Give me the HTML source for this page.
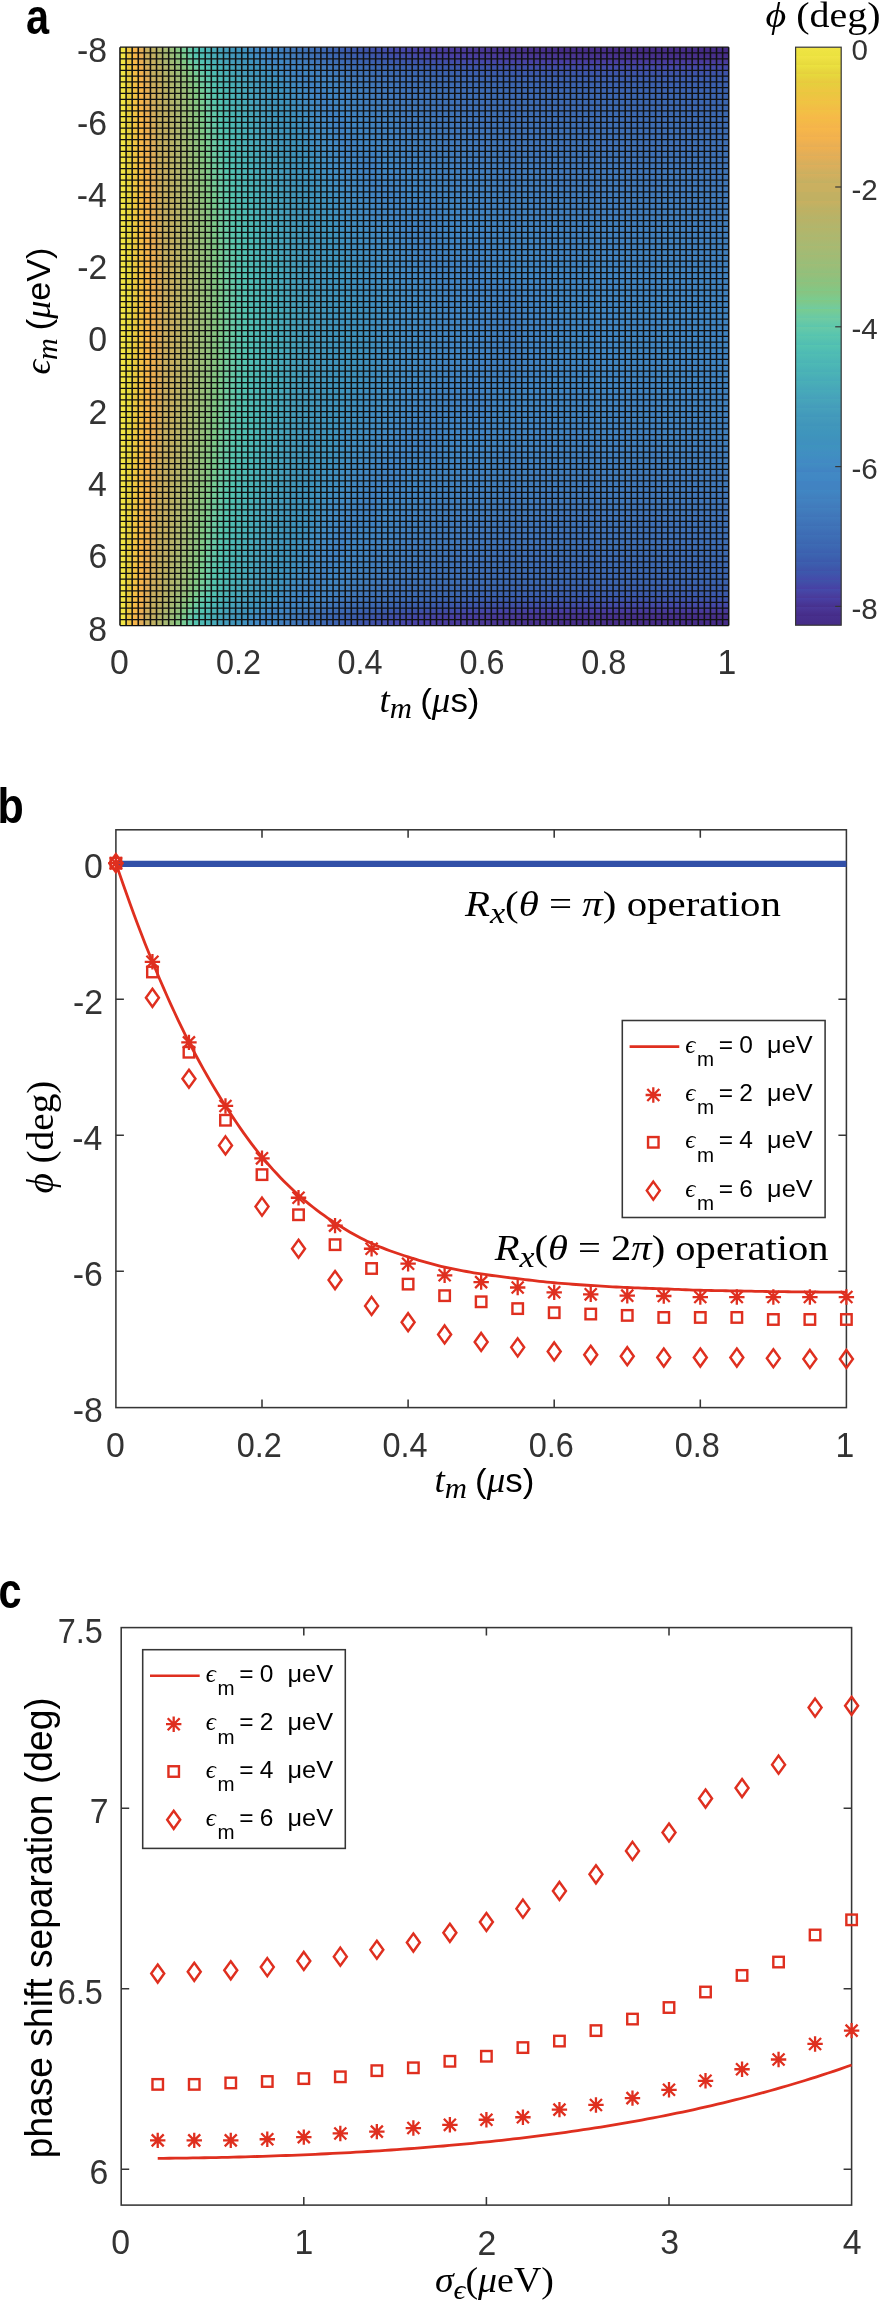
<!DOCTYPE html>
<html><head><meta charset="utf-8"><title>figure</title>
<style>html,body{margin:0;padding:0;background:#fff;width:879px;height:2300px;overflow:hidden;} svg{display:block;will-change:transform;}</style>
</head><body>
<svg width="879" height="2300" viewBox="0 0 879 2300">
<defs>
<linearGradient id="g0" x1="0" y1="0" x2="0" y2="1"><stop offset="0.005" stop-color="#f1e545"/><stop offset="0.015" stop-color="#f1e545"/><stop offset="0.025" stop-color="#f1e545"/><stop offset="0.035" stop-color="#f1e545"/><stop offset="0.045" stop-color="#f1e545"/><stop offset="0.055" stop-color="#f1e545"/><stop offset="0.065" stop-color="#f1e545"/><stop offset="0.075" stop-color="#f1e545"/><stop offset="0.085" stop-color="#f1e545"/><stop offset="0.095" stop-color="#f1e545"/><stop offset="0.115" stop-color="#f1e545"/><stop offset="0.135" stop-color="#f1e545"/><stop offset="0.165" stop-color="#f1e545"/><stop offset="0.205" stop-color="#f1e545"/><stop offset="0.255" stop-color="#f1e545"/><stop offset="0.315" stop-color="#f1e545"/><stop offset="0.385" stop-color="#f1e545"/><stop offset="0.455" stop-color="#f1e545"/><stop offset="0.545" stop-color="#f1e545"/><stop offset="0.615" stop-color="#f1e545"/><stop offset="0.685" stop-color="#f1e545"/><stop offset="0.745" stop-color="#f1e545"/><stop offset="0.795" stop-color="#f1e545"/><stop offset="0.835" stop-color="#f1e545"/><stop offset="0.865" stop-color="#f1e545"/><stop offset="0.885" stop-color="#f1e545"/><stop offset="0.905" stop-color="#f1e545"/><stop offset="0.915" stop-color="#f1e545"/><stop offset="0.925" stop-color="#f1e545"/><stop offset="0.935" stop-color="#f1e545"/><stop offset="0.945" stop-color="#f1e545"/><stop offset="0.955" stop-color="#f1e545"/><stop offset="0.965" stop-color="#f1e545"/><stop offset="0.975" stop-color="#f1e545"/><stop offset="0.985" stop-color="#f1e545"/><stop offset="0.995" stop-color="#f1e545"/></linearGradient>
<linearGradient id="g1" x1="0" y1="0" x2="0" y2="1"><stop offset="0.005" stop-color="#efc542"/><stop offset="0.015" stop-color="#eec641"/><stop offset="0.025" stop-color="#ecc740"/><stop offset="0.035" stop-color="#eac83f"/><stop offset="0.045" stop-color="#e8c93f"/><stop offset="0.055" stop-color="#e7cb3e"/><stop offset="0.065" stop-color="#e7cc3e"/><stop offset="0.075" stop-color="#e6cd3e"/><stop offset="0.085" stop-color="#e6cd3e"/><stop offset="0.095" stop-color="#e6ce3d"/><stop offset="0.115" stop-color="#e5cf3d"/><stop offset="0.135" stop-color="#e5d03d"/><stop offset="0.165" stop-color="#e5d13d"/><stop offset="0.205" stop-color="#e5d33d"/><stop offset="0.255" stop-color="#e6d53c"/><stop offset="0.315" stop-color="#e6d83c"/><stop offset="0.385" stop-color="#e6da3c"/><stop offset="0.455" stop-color="#e7db3d"/><stop offset="0.545" stop-color="#e7db3d"/><stop offset="0.615" stop-color="#e6da3c"/><stop offset="0.685" stop-color="#e6d83c"/><stop offset="0.745" stop-color="#e6d53c"/><stop offset="0.795" stop-color="#e5d33d"/><stop offset="0.835" stop-color="#e5d13d"/><stop offset="0.865" stop-color="#e5d03d"/><stop offset="0.885" stop-color="#e5cf3d"/><stop offset="0.905" stop-color="#e6ce3d"/><stop offset="0.915" stop-color="#e6cd3e"/><stop offset="0.925" stop-color="#e6cd3e"/><stop offset="0.935" stop-color="#e7cc3e"/><stop offset="0.945" stop-color="#e7cb3e"/><stop offset="0.955" stop-color="#e8c93f"/><stop offset="0.965" stop-color="#eac83f"/><stop offset="0.975" stop-color="#ecc740"/><stop offset="0.985" stop-color="#eec641"/><stop offset="0.995" stop-color="#efc542"/></linearGradient>
<linearGradient id="g2" x1="0" y1="0" x2="0" y2="1"><stop offset="0.005" stop-color="#f6b54a"/><stop offset="0.015" stop-color="#f6b64a"/><stop offset="0.025" stop-color="#f6b848"/><stop offset="0.035" stop-color="#f5ba47"/><stop offset="0.045" stop-color="#f4bc46"/><stop offset="0.055" stop-color="#f3be45"/><stop offset="0.065" stop-color="#f3bf45"/><stop offset="0.075" stop-color="#f2c044"/><stop offset="0.085" stop-color="#f2c144"/><stop offset="0.095" stop-color="#f2c144"/><stop offset="0.115" stop-color="#f1c244"/><stop offset="0.135" stop-color="#f1c243"/><stop offset="0.165" stop-color="#f0c343"/><stop offset="0.205" stop-color="#efc442"/><stop offset="0.255" stop-color="#eec641"/><stop offset="0.315" stop-color="#ecc740"/><stop offset="0.385" stop-color="#eac740"/><stop offset="0.455" stop-color="#e9c83f"/><stop offset="0.545" stop-color="#e9c83f"/><stop offset="0.615" stop-color="#eac740"/><stop offset="0.685" stop-color="#ecc740"/><stop offset="0.745" stop-color="#eec641"/><stop offset="0.795" stop-color="#efc442"/><stop offset="0.835" stop-color="#f0c343"/><stop offset="0.865" stop-color="#f1c243"/><stop offset="0.885" stop-color="#f1c244"/><stop offset="0.905" stop-color="#f2c144"/><stop offset="0.915" stop-color="#f2c144"/><stop offset="0.925" stop-color="#f2c044"/><stop offset="0.935" stop-color="#f3bf45"/><stop offset="0.945" stop-color="#f3be45"/><stop offset="0.955" stop-color="#f4bc46"/><stop offset="0.965" stop-color="#f5ba47"/><stop offset="0.975" stop-color="#f6b848"/><stop offset="0.985" stop-color="#f6b64a"/><stop offset="0.995" stop-color="#f6b54a"/></linearGradient>
<linearGradient id="g3" x1="0" y1="0" x2="0" y2="1"><stop offset="0.005" stop-color="#e2ae58"/><stop offset="0.015" stop-color="#e4ae57"/><stop offset="0.025" stop-color="#e9ae54"/><stop offset="0.035" stop-color="#eeb050"/><stop offset="0.045" stop-color="#f2b14e"/><stop offset="0.055" stop-color="#f4b24d"/><stop offset="0.065" stop-color="#f5b34c"/><stop offset="0.075" stop-color="#f5b44b"/><stop offset="0.085" stop-color="#f6b44b"/><stop offset="0.095" stop-color="#f6b54b"/><stop offset="0.115" stop-color="#f6b64a"/><stop offset="0.135" stop-color="#f7b649"/><stop offset="0.165" stop-color="#f7b749"/><stop offset="0.205" stop-color="#f6b948"/><stop offset="0.255" stop-color="#f4ba46"/><stop offset="0.315" stop-color="#f4bc46"/><stop offset="0.385" stop-color="#f3be45"/><stop offset="0.455" stop-color="#f2c044"/><stop offset="0.545" stop-color="#f2c044"/><stop offset="0.615" stop-color="#f3be45"/><stop offset="0.685" stop-color="#f4bc46"/><stop offset="0.745" stop-color="#f4ba46"/><stop offset="0.795" stop-color="#f6b948"/><stop offset="0.835" stop-color="#f7b749"/><stop offset="0.865" stop-color="#f7b649"/><stop offset="0.885" stop-color="#f6b64a"/><stop offset="0.905" stop-color="#f6b54b"/><stop offset="0.915" stop-color="#f6b44b"/><stop offset="0.925" stop-color="#f5b44b"/><stop offset="0.935" stop-color="#f5b34c"/><stop offset="0.945" stop-color="#f4b24d"/><stop offset="0.955" stop-color="#f2b14e"/><stop offset="0.965" stop-color="#eeb050"/><stop offset="0.975" stop-color="#e9ae54"/><stop offset="0.985" stop-color="#e4ae57"/><stop offset="0.995" stop-color="#e2ae58"/></linearGradient>
<linearGradient id="g4" x1="0" y1="0" x2="0" y2="1"><stop offset="0.005" stop-color="#c7b061"/><stop offset="0.015" stop-color="#cab060"/><stop offset="0.025" stop-color="#d0b05f"/><stop offset="0.035" stop-color="#d7af5c"/><stop offset="0.045" stop-color="#ddae5b"/><stop offset="0.055" stop-color="#e1ae59"/><stop offset="0.065" stop-color="#e3ae57"/><stop offset="0.075" stop-color="#e5ae56"/><stop offset="0.085" stop-color="#e6ae56"/><stop offset="0.095" stop-color="#e7ae55"/><stop offset="0.115" stop-color="#e9ae54"/><stop offset="0.135" stop-color="#ebaf52"/><stop offset="0.165" stop-color="#eeb050"/><stop offset="0.205" stop-color="#f1b14e"/><stop offset="0.255" stop-color="#f3b24d"/><stop offset="0.315" stop-color="#f5b34c"/><stop offset="0.385" stop-color="#f6b54b"/><stop offset="0.455" stop-color="#f6b64a"/><stop offset="0.545" stop-color="#f6b64a"/><stop offset="0.615" stop-color="#f6b54b"/><stop offset="0.685" stop-color="#f5b34c"/><stop offset="0.745" stop-color="#f3b24d"/><stop offset="0.795" stop-color="#f1b14e"/><stop offset="0.835" stop-color="#eeb050"/><stop offset="0.865" stop-color="#ebaf52"/><stop offset="0.885" stop-color="#e9ae54"/><stop offset="0.905" stop-color="#e7ae55"/><stop offset="0.915" stop-color="#e6ae56"/><stop offset="0.925" stop-color="#e5ae56"/><stop offset="0.935" stop-color="#e3ae57"/><stop offset="0.945" stop-color="#e1ae59"/><stop offset="0.955" stop-color="#ddae5b"/><stop offset="0.965" stop-color="#d7af5c"/><stop offset="0.975" stop-color="#d0b05f"/><stop offset="0.985" stop-color="#cab060"/><stop offset="0.995" stop-color="#c7b061"/></linearGradient>
<linearGradient id="g5" x1="0" y1="0" x2="0" y2="1"><stop offset="0.005" stop-color="#bfb062"/><stop offset="0.015" stop-color="#c2b062"/><stop offset="0.025" stop-color="#c7b060"/><stop offset="0.035" stop-color="#c5b061"/><stop offset="0.045" stop-color="#c6b061"/><stop offset="0.055" stop-color="#cab060"/><stop offset="0.065" stop-color="#cdb05f"/><stop offset="0.075" stop-color="#cfb05f"/><stop offset="0.085" stop-color="#d1af5e"/><stop offset="0.095" stop-color="#d2af5e"/><stop offset="0.115" stop-color="#d5af5d"/><stop offset="0.135" stop-color="#d7af5c"/><stop offset="0.165" stop-color="#dbae5b"/><stop offset="0.205" stop-color="#dfae5a"/><stop offset="0.255" stop-color="#e3ae57"/><stop offset="0.315" stop-color="#e7ae55"/><stop offset="0.385" stop-color="#ebaf52"/><stop offset="0.455" stop-color="#edaf51"/><stop offset="0.545" stop-color="#edaf51"/><stop offset="0.615" stop-color="#ebaf52"/><stop offset="0.685" stop-color="#e7ae55"/><stop offset="0.745" stop-color="#e3ae57"/><stop offset="0.795" stop-color="#dfae5a"/><stop offset="0.835" stop-color="#dbae5b"/><stop offset="0.865" stop-color="#d7af5c"/><stop offset="0.885" stop-color="#d5af5d"/><stop offset="0.905" stop-color="#d2af5e"/><stop offset="0.915" stop-color="#d1af5e"/><stop offset="0.925" stop-color="#cfb05f"/><stop offset="0.935" stop-color="#cdb05f"/><stop offset="0.945" stop-color="#cab060"/><stop offset="0.955" stop-color="#c6b061"/><stop offset="0.965" stop-color="#c5b061"/><stop offset="0.975" stop-color="#c7b060"/><stop offset="0.985" stop-color="#c2b062"/><stop offset="0.995" stop-color="#bfb062"/></linearGradient>
<linearGradient id="g6" x1="0" y1="0" x2="0" y2="1"><stop offset="0.005" stop-color="#b2b56b"/><stop offset="0.015" stop-color="#b4b46a"/><stop offset="0.025" stop-color="#b7b367"/><stop offset="0.035" stop-color="#bcb164"/><stop offset="0.045" stop-color="#c1b062"/><stop offset="0.055" stop-color="#c5b061"/><stop offset="0.065" stop-color="#c8b060"/><stop offset="0.075" stop-color="#c8b060"/><stop offset="0.085" stop-color="#c7b061"/><stop offset="0.095" stop-color="#c6b061"/><stop offset="0.115" stop-color="#c4b062"/><stop offset="0.135" stop-color="#c4b062"/><stop offset="0.165" stop-color="#c7b061"/><stop offset="0.205" stop-color="#cbb060"/><stop offset="0.255" stop-color="#d0af5e"/><stop offset="0.315" stop-color="#d5af5d"/><stop offset="0.385" stop-color="#daae5b"/><stop offset="0.455" stop-color="#ddae5b"/><stop offset="0.545" stop-color="#ddae5b"/><stop offset="0.615" stop-color="#daae5b"/><stop offset="0.685" stop-color="#d5af5d"/><stop offset="0.745" stop-color="#d0af5e"/><stop offset="0.795" stop-color="#cbb060"/><stop offset="0.835" stop-color="#c7b061"/><stop offset="0.865" stop-color="#c4b062"/><stop offset="0.885" stop-color="#c4b062"/><stop offset="0.905" stop-color="#c6b061"/><stop offset="0.915" stop-color="#c7b061"/><stop offset="0.925" stop-color="#c8b060"/><stop offset="0.935" stop-color="#c8b060"/><stop offset="0.945" stop-color="#c5b061"/><stop offset="0.955" stop-color="#c1b062"/><stop offset="0.965" stop-color="#bcb164"/><stop offset="0.975" stop-color="#b7b367"/><stop offset="0.985" stop-color="#b4b46a"/><stop offset="0.995" stop-color="#b2b56b"/></linearGradient>
<linearGradient id="g7" x1="0" y1="0" x2="0" y2="1"><stop offset="0.005" stop-color="#a6b973"/><stop offset="0.015" stop-color="#a8b871"/><stop offset="0.025" stop-color="#adb76f"/><stop offset="0.035" stop-color="#b1b66c"/><stop offset="0.045" stop-color="#b5b46a"/><stop offset="0.055" stop-color="#b7b367"/><stop offset="0.065" stop-color="#b9b266"/><stop offset="0.075" stop-color="#bab265"/><stop offset="0.085" stop-color="#bcb164"/><stop offset="0.095" stop-color="#bdb164"/><stop offset="0.115" stop-color="#bfb063"/><stop offset="0.135" stop-color="#c1b062"/><stop offset="0.165" stop-color="#c4b061"/><stop offset="0.205" stop-color="#c8b060"/><stop offset="0.255" stop-color="#c6b061"/><stop offset="0.315" stop-color="#c4b062"/><stop offset="0.385" stop-color="#c8b061"/><stop offset="0.455" stop-color="#cbb060"/><stop offset="0.545" stop-color="#cbb060"/><stop offset="0.615" stop-color="#c8b061"/><stop offset="0.685" stop-color="#c4b062"/><stop offset="0.745" stop-color="#c6b061"/><stop offset="0.795" stop-color="#c8b060"/><stop offset="0.835" stop-color="#c4b061"/><stop offset="0.865" stop-color="#c1b062"/><stop offset="0.885" stop-color="#bfb063"/><stop offset="0.905" stop-color="#bdb164"/><stop offset="0.915" stop-color="#bcb164"/><stop offset="0.925" stop-color="#bab265"/><stop offset="0.935" stop-color="#b9b266"/><stop offset="0.945" stop-color="#b7b367"/><stop offset="0.955" stop-color="#b5b46a"/><stop offset="0.965" stop-color="#b1b66c"/><stop offset="0.975" stop-color="#adb76f"/><stop offset="0.985" stop-color="#a8b871"/><stop offset="0.995" stop-color="#a6b973"/></linearGradient>
<linearGradient id="g8" x1="0" y1="0" x2="0" y2="1"><stop offset="0.005" stop-color="#97be7a"/><stop offset="0.015" stop-color="#9abd78"/><stop offset="0.025" stop-color="#9fbc76"/><stop offset="0.035" stop-color="#a5ba73"/><stop offset="0.045" stop-color="#aab870"/><stop offset="0.055" stop-color="#aeb76f"/><stop offset="0.065" stop-color="#b0b76d"/><stop offset="0.075" stop-color="#b1b66c"/><stop offset="0.085" stop-color="#b2b56c"/><stop offset="0.095" stop-color="#b3b56b"/><stop offset="0.115" stop-color="#b4b46a"/><stop offset="0.135" stop-color="#b6b369"/><stop offset="0.165" stop-color="#b8b367"/><stop offset="0.205" stop-color="#bab265"/><stop offset="0.255" stop-color="#beb163"/><stop offset="0.315" stop-color="#c3b061"/><stop offset="0.385" stop-color="#c7b060"/><stop offset="0.455" stop-color="#c9b060"/><stop offset="0.545" stop-color="#c9b060"/><stop offset="0.615" stop-color="#c7b060"/><stop offset="0.685" stop-color="#c3b061"/><stop offset="0.745" stop-color="#beb163"/><stop offset="0.795" stop-color="#bab265"/><stop offset="0.835" stop-color="#b8b367"/><stop offset="0.865" stop-color="#b6b369"/><stop offset="0.885" stop-color="#b4b46a"/><stop offset="0.905" stop-color="#b3b56b"/><stop offset="0.915" stop-color="#b2b56c"/><stop offset="0.925" stop-color="#b1b66c"/><stop offset="0.935" stop-color="#b0b76d"/><stop offset="0.945" stop-color="#aeb76f"/><stop offset="0.955" stop-color="#aab870"/><stop offset="0.965" stop-color="#a5ba73"/><stop offset="0.975" stop-color="#9fbc76"/><stop offset="0.985" stop-color="#9abd78"/><stop offset="0.995" stop-color="#97be7a"/></linearGradient>
<linearGradient id="g9" x1="0" y1="0" x2="0" y2="1"><stop offset="0.005" stop-color="#86c581"/><stop offset="0.015" stop-color="#8ac27f"/><stop offset="0.025" stop-color="#91c07c"/><stop offset="0.035" stop-color="#98be79"/><stop offset="0.045" stop-color="#9ebc77"/><stop offset="0.055" stop-color="#a2bb75"/><stop offset="0.065" stop-color="#a5ba73"/><stop offset="0.075" stop-color="#a7b972"/><stop offset="0.085" stop-color="#a8b871"/><stop offset="0.095" stop-color="#a9b871"/><stop offset="0.115" stop-color="#abb870"/><stop offset="0.135" stop-color="#adb76f"/><stop offset="0.165" stop-color="#afb76e"/><stop offset="0.205" stop-color="#b2b56c"/><stop offset="0.255" stop-color="#b5b469"/><stop offset="0.315" stop-color="#b8b367"/><stop offset="0.385" stop-color="#bab265"/><stop offset="0.455" stop-color="#bdb164"/><stop offset="0.545" stop-color="#bdb164"/><stop offset="0.615" stop-color="#bab265"/><stop offset="0.685" stop-color="#b8b367"/><stop offset="0.745" stop-color="#b5b469"/><stop offset="0.795" stop-color="#b2b56c"/><stop offset="0.835" stop-color="#afb76e"/><stop offset="0.865" stop-color="#adb76f"/><stop offset="0.885" stop-color="#abb870"/><stop offset="0.905" stop-color="#a9b871"/><stop offset="0.915" stop-color="#a8b871"/><stop offset="0.925" stop-color="#a7b972"/><stop offset="0.935" stop-color="#a5ba73"/><stop offset="0.945" stop-color="#a2bb75"/><stop offset="0.955" stop-color="#9ebc77"/><stop offset="0.965" stop-color="#98be79"/><stop offset="0.975" stop-color="#91c07c"/><stop offset="0.985" stop-color="#8ac27f"/><stop offset="0.995" stop-color="#86c581"/></linearGradient>
<linearGradient id="g10" x1="0" y1="0" x2="0" y2="1"><stop offset="0.005" stop-color="#76cc96"/><stop offset="0.015" stop-color="#7acb8f"/><stop offset="0.025" stop-color="#81c884"/><stop offset="0.035" stop-color="#8ac27f"/><stop offset="0.045" stop-color="#91c07c"/><stop offset="0.055" stop-color="#96be7a"/><stop offset="0.065" stop-color="#99bd79"/><stop offset="0.075" stop-color="#9bbd78"/><stop offset="0.085" stop-color="#9dbd77"/><stop offset="0.095" stop-color="#9ebc77"/><stop offset="0.115" stop-color="#a0bc76"/><stop offset="0.135" stop-color="#a2bb75"/><stop offset="0.165" stop-color="#a5ba73"/><stop offset="0.205" stop-color="#a9b871"/><stop offset="0.255" stop-color="#adb76f"/><stop offset="0.315" stop-color="#b0b66d"/><stop offset="0.385" stop-color="#b3b56b"/><stop offset="0.455" stop-color="#b4b46a"/><stop offset="0.545" stop-color="#b4b46a"/><stop offset="0.615" stop-color="#b3b56b"/><stop offset="0.685" stop-color="#b0b66d"/><stop offset="0.745" stop-color="#adb76f"/><stop offset="0.795" stop-color="#a9b871"/><stop offset="0.835" stop-color="#a5ba73"/><stop offset="0.865" stop-color="#a2bb75"/><stop offset="0.885" stop-color="#a0bc76"/><stop offset="0.905" stop-color="#9ebc77"/><stop offset="0.915" stop-color="#9dbd77"/><stop offset="0.925" stop-color="#9bbd78"/><stop offset="0.935" stop-color="#99bd79"/><stop offset="0.945" stop-color="#96be7a"/><stop offset="0.955" stop-color="#91c07c"/><stop offset="0.965" stop-color="#8ac27f"/><stop offset="0.975" stop-color="#81c884"/><stop offset="0.985" stop-color="#7acb8f"/><stop offset="0.995" stop-color="#76cc96"/></linearGradient>
<linearGradient id="g11" x1="0" y1="0" x2="0" y2="1"><stop offset="0.005" stop-color="#66c9a8"/><stop offset="0.015" stop-color="#6acaa6"/><stop offset="0.025" stop-color="#72cb9d"/><stop offset="0.035" stop-color="#7ccb8d"/><stop offset="0.045" stop-color="#83c783"/><stop offset="0.055" stop-color="#88c380"/><stop offset="0.065" stop-color="#8cc17e"/><stop offset="0.075" stop-color="#8ec17d"/><stop offset="0.085" stop-color="#90c07c"/><stop offset="0.095" stop-color="#92bf7b"/><stop offset="0.115" stop-color="#95bf7a"/><stop offset="0.135" stop-color="#97be79"/><stop offset="0.165" stop-color="#9bbd78"/><stop offset="0.205" stop-color="#9fbc76"/><stop offset="0.255" stop-color="#a3bb74"/><stop offset="0.315" stop-color="#a7b972"/><stop offset="0.385" stop-color="#abb870"/><stop offset="0.455" stop-color="#adb76f"/><stop offset="0.545" stop-color="#adb76f"/><stop offset="0.615" stop-color="#abb870"/><stop offset="0.685" stop-color="#a7b972"/><stop offset="0.745" stop-color="#a3bb74"/><stop offset="0.795" stop-color="#9fbc76"/><stop offset="0.835" stop-color="#9bbd78"/><stop offset="0.865" stop-color="#97be79"/><stop offset="0.885" stop-color="#95bf7a"/><stop offset="0.905" stop-color="#92bf7b"/><stop offset="0.915" stop-color="#90c07c"/><stop offset="0.925" stop-color="#8ec17d"/><stop offset="0.935" stop-color="#8cc17e"/><stop offset="0.945" stop-color="#88c380"/><stop offset="0.955" stop-color="#83c783"/><stop offset="0.965" stop-color="#7ccb8d"/><stop offset="0.975" stop-color="#72cb9d"/><stop offset="0.985" stop-color="#6acaa6"/><stop offset="0.995" stop-color="#66c9a8"/></linearGradient>
<linearGradient id="g12" x1="0" y1="0" x2="0" y2="1"><stop offset="0.005" stop-color="#54c4b0"/><stop offset="0.015" stop-color="#55c5b0"/><stop offset="0.025" stop-color="#62c8aa"/><stop offset="0.035" stop-color="#6dcba4"/><stop offset="0.045" stop-color="#75cc97"/><stop offset="0.055" stop-color="#7bcb8d"/><stop offset="0.065" stop-color="#7fc988"/><stop offset="0.075" stop-color="#81c884"/><stop offset="0.085" stop-color="#83c783"/><stop offset="0.095" stop-color="#85c682"/><stop offset="0.115" stop-color="#88c380"/><stop offset="0.135" stop-color="#8bc27f"/><stop offset="0.165" stop-color="#8fc07d"/><stop offset="0.205" stop-color="#94bf7b"/><stop offset="0.255" stop-color="#99bd79"/><stop offset="0.315" stop-color="#9ebc77"/><stop offset="0.385" stop-color="#a2bb75"/><stop offset="0.455" stop-color="#a4ba74"/><stop offset="0.545" stop-color="#a4ba74"/><stop offset="0.615" stop-color="#a2bb75"/><stop offset="0.685" stop-color="#9ebc77"/><stop offset="0.745" stop-color="#99bd79"/><stop offset="0.795" stop-color="#94bf7b"/><stop offset="0.835" stop-color="#8fc07d"/><stop offset="0.865" stop-color="#8bc27f"/><stop offset="0.885" stop-color="#88c380"/><stop offset="0.905" stop-color="#85c682"/><stop offset="0.915" stop-color="#83c783"/><stop offset="0.925" stop-color="#81c884"/><stop offset="0.935" stop-color="#7fc988"/><stop offset="0.945" stop-color="#7bcb8d"/><stop offset="0.955" stop-color="#75cc97"/><stop offset="0.965" stop-color="#6dcba4"/><stop offset="0.975" stop-color="#62c8aa"/><stop offset="0.985" stop-color="#55c5b0"/><stop offset="0.995" stop-color="#54c4b0"/></linearGradient>
<linearGradient id="g13" x1="0" y1="0" x2="0" y2="1"><stop offset="0.005" stop-color="#4ebab4"/><stop offset="0.015" stop-color="#4fbcb3"/><stop offset="0.025" stop-color="#54c3b1"/><stop offset="0.035" stop-color="#59c6ae"/><stop offset="0.045" stop-color="#68c9a7"/><stop offset="0.055" stop-color="#6ecba4"/><stop offset="0.065" stop-color="#72cb9e"/><stop offset="0.075" stop-color="#75cc98"/><stop offset="0.085" stop-color="#77cc94"/><stop offset="0.095" stop-color="#79cc91"/><stop offset="0.115" stop-color="#7ccb8c"/><stop offset="0.135" stop-color="#7fc988"/><stop offset="0.165" stop-color="#83c783"/><stop offset="0.205" stop-color="#88c380"/><stop offset="0.255" stop-color="#8ec17d"/><stop offset="0.315" stop-color="#94bf7b"/><stop offset="0.385" stop-color="#98be79"/><stop offset="0.455" stop-color="#9bbd78"/><stop offset="0.545" stop-color="#9bbd78"/><stop offset="0.615" stop-color="#98be79"/><stop offset="0.685" stop-color="#94bf7b"/><stop offset="0.745" stop-color="#8ec17d"/><stop offset="0.795" stop-color="#88c380"/><stop offset="0.835" stop-color="#83c783"/><stop offset="0.865" stop-color="#7fc988"/><stop offset="0.885" stop-color="#7ccb8c"/><stop offset="0.905" stop-color="#79cc91"/><stop offset="0.915" stop-color="#77cc94"/><stop offset="0.925" stop-color="#75cc98"/><stop offset="0.935" stop-color="#72cb9e"/><stop offset="0.945" stop-color="#6ecba4"/><stop offset="0.955" stop-color="#68c9a7"/><stop offset="0.965" stop-color="#59c6ae"/><stop offset="0.975" stop-color="#54c3b1"/><stop offset="0.985" stop-color="#4fbcb3"/><stop offset="0.995" stop-color="#4ebab4"/></linearGradient>
<linearGradient id="g14" x1="0" y1="0" x2="0" y2="1"><stop offset="0.005" stop-color="#4ab2b6"/><stop offset="0.015" stop-color="#4bb5b6"/><stop offset="0.025" stop-color="#4eb9b4"/><stop offset="0.035" stop-color="#52c0b2"/><stop offset="0.045" stop-color="#55c5b0"/><stop offset="0.055" stop-color="#5dc7ac"/><stop offset="0.065" stop-color="#65c9a9"/><stop offset="0.075" stop-color="#68c9a7"/><stop offset="0.085" stop-color="#6acaa6"/><stop offset="0.095" stop-color="#6ccaa5"/><stop offset="0.115" stop-color="#6fcba2"/><stop offset="0.135" stop-color="#73cb9c"/><stop offset="0.165" stop-color="#78cc93"/><stop offset="0.205" stop-color="#7dca8b"/><stop offset="0.255" stop-color="#82c783"/><stop offset="0.315" stop-color="#89c380"/><stop offset="0.385" stop-color="#8ec17d"/><stop offset="0.455" stop-color="#91c07c"/><stop offset="0.545" stop-color="#91c07c"/><stop offset="0.615" stop-color="#8ec17d"/><stop offset="0.685" stop-color="#89c380"/><stop offset="0.745" stop-color="#82c783"/><stop offset="0.795" stop-color="#7dca8b"/><stop offset="0.835" stop-color="#78cc93"/><stop offset="0.865" stop-color="#73cb9c"/><stop offset="0.885" stop-color="#6fcba2"/><stop offset="0.905" stop-color="#6ccaa5"/><stop offset="0.915" stop-color="#6acaa6"/><stop offset="0.925" stop-color="#68c9a7"/><stop offset="0.935" stop-color="#65c9a9"/><stop offset="0.945" stop-color="#5dc7ac"/><stop offset="0.955" stop-color="#55c5b0"/><stop offset="0.965" stop-color="#52c0b2"/><stop offset="0.975" stop-color="#4eb9b4"/><stop offset="0.985" stop-color="#4bb5b6"/><stop offset="0.995" stop-color="#4ab2b6"/></linearGradient>
<linearGradient id="g15" x1="0" y1="0" x2="0" y2="1"><stop offset="0.005" stop-color="#47aab9"/><stop offset="0.015" stop-color="#48adb8"/><stop offset="0.025" stop-color="#4ab2b6"/><stop offset="0.035" stop-color="#4db8b5"/><stop offset="0.045" stop-color="#50bdb3"/><stop offset="0.055" stop-color="#53c2b1"/><stop offset="0.065" stop-color="#55c5b0"/><stop offset="0.075" stop-color="#55c5b0"/><stop offset="0.085" stop-color="#58c6af"/><stop offset="0.095" stop-color="#5bc7ad"/><stop offset="0.115" stop-color="#62c8aa"/><stop offset="0.135" stop-color="#67c9a7"/><stop offset="0.165" stop-color="#6ccaa5"/><stop offset="0.205" stop-color="#71cb9f"/><stop offset="0.255" stop-color="#78cc92"/><stop offset="0.315" stop-color="#7ec989"/><stop offset="0.385" stop-color="#83c783"/><stop offset="0.455" stop-color="#87c481"/><stop offset="0.545" stop-color="#87c481"/><stop offset="0.615" stop-color="#83c783"/><stop offset="0.685" stop-color="#7ec989"/><stop offset="0.745" stop-color="#78cc92"/><stop offset="0.795" stop-color="#71cb9f"/><stop offset="0.835" stop-color="#6ccaa5"/><stop offset="0.865" stop-color="#67c9a7"/><stop offset="0.885" stop-color="#62c8aa"/><stop offset="0.905" stop-color="#5bc7ad"/><stop offset="0.915" stop-color="#58c6af"/><stop offset="0.925" stop-color="#55c5b0"/><stop offset="0.935" stop-color="#55c5b0"/><stop offset="0.945" stop-color="#53c2b1"/><stop offset="0.955" stop-color="#50bdb3"/><stop offset="0.965" stop-color="#4db8b5"/><stop offset="0.975" stop-color="#4ab2b6"/><stop offset="0.985" stop-color="#48adb8"/><stop offset="0.995" stop-color="#47aab9"/></linearGradient>
<linearGradient id="g16" x1="0" y1="0" x2="0" y2="1"><stop offset="0.005" stop-color="#46a2bb"/><stop offset="0.015" stop-color="#47a6ba"/><stop offset="0.025" stop-color="#48abb9"/><stop offset="0.035" stop-color="#49b1b7"/><stop offset="0.045" stop-color="#4cb6b5"/><stop offset="0.055" stop-color="#4ebab4"/><stop offset="0.065" stop-color="#50bcb3"/><stop offset="0.075" stop-color="#51bfb2"/><stop offset="0.085" stop-color="#52c1b2"/><stop offset="0.095" stop-color="#53c2b1"/><stop offset="0.115" stop-color="#55c5b0"/><stop offset="0.135" stop-color="#55c5b0"/><stop offset="0.165" stop-color="#5cc7ad"/><stop offset="0.205" stop-color="#67c9a8"/><stop offset="0.255" stop-color="#6dcba4"/><stop offset="0.315" stop-color="#74cb9a"/><stop offset="0.385" stop-color="#7acc90"/><stop offset="0.455" stop-color="#7dca8b"/><stop offset="0.545" stop-color="#7dca8b"/><stop offset="0.615" stop-color="#7acc90"/><stop offset="0.685" stop-color="#74cb9a"/><stop offset="0.745" stop-color="#6dcba4"/><stop offset="0.795" stop-color="#67c9a8"/><stop offset="0.835" stop-color="#5cc7ad"/><stop offset="0.865" stop-color="#55c5b0"/><stop offset="0.885" stop-color="#55c5b0"/><stop offset="0.905" stop-color="#53c2b1"/><stop offset="0.915" stop-color="#52c1b2"/><stop offset="0.925" stop-color="#51bfb2"/><stop offset="0.935" stop-color="#50bcb3"/><stop offset="0.945" stop-color="#4ebab4"/><stop offset="0.955" stop-color="#4cb6b5"/><stop offset="0.965" stop-color="#49b1b7"/><stop offset="0.975" stop-color="#48abb9"/><stop offset="0.985" stop-color="#47a6ba"/><stop offset="0.995" stop-color="#46a2bb"/></linearGradient>
<linearGradient id="g17" x1="0" y1="0" x2="0" y2="1"><stop offset="0.005" stop-color="#449bbb"/><stop offset="0.015" stop-color="#459ebb"/><stop offset="0.025" stop-color="#46a4bb"/><stop offset="0.035" stop-color="#47aab9"/><stop offset="0.045" stop-color="#49b0b7"/><stop offset="0.055" stop-color="#4bb4b6"/><stop offset="0.065" stop-color="#4cb6b5"/><stop offset="0.075" stop-color="#4db8b5"/><stop offset="0.085" stop-color="#4eb9b4"/><stop offset="0.095" stop-color="#4ebab4"/><stop offset="0.115" stop-color="#50bcb3"/><stop offset="0.135" stop-color="#51bfb2"/><stop offset="0.165" stop-color="#54c3b1"/><stop offset="0.205" stop-color="#55c5b0"/><stop offset="0.255" stop-color="#60c8ab"/><stop offset="0.315" stop-color="#69caa6"/><stop offset="0.385" stop-color="#6fcba3"/><stop offset="0.455" stop-color="#73cb9c"/><stop offset="0.545" stop-color="#73cb9c"/><stop offset="0.615" stop-color="#6fcba3"/><stop offset="0.685" stop-color="#69caa6"/><stop offset="0.745" stop-color="#60c8ab"/><stop offset="0.795" stop-color="#55c5b0"/><stop offset="0.835" stop-color="#54c3b1"/><stop offset="0.865" stop-color="#51bfb2"/><stop offset="0.885" stop-color="#50bcb3"/><stop offset="0.905" stop-color="#4ebab4"/><stop offset="0.915" stop-color="#4eb9b4"/><stop offset="0.925" stop-color="#4db8b5"/><stop offset="0.935" stop-color="#4cb6b5"/><stop offset="0.945" stop-color="#4bb4b6"/><stop offset="0.955" stop-color="#49b0b7"/><stop offset="0.965" stop-color="#47aab9"/><stop offset="0.975" stop-color="#46a4bb"/><stop offset="0.985" stop-color="#459ebb"/><stop offset="0.995" stop-color="#449bbb"/></linearGradient>
<linearGradient id="g18" x1="0" y1="0" x2="0" y2="1"><stop offset="0.005" stop-color="#4196bb"/><stop offset="0.015" stop-color="#4298bb"/><stop offset="0.025" stop-color="#459dbb"/><stop offset="0.035" stop-color="#46a4bb"/><stop offset="0.045" stop-color="#47a9b9"/><stop offset="0.055" stop-color="#48adb8"/><stop offset="0.065" stop-color="#49b0b7"/><stop offset="0.075" stop-color="#4ab2b6"/><stop offset="0.085" stop-color="#4ab4b6"/><stop offset="0.095" stop-color="#4bb5b6"/><stop offset="0.115" stop-color="#4cb7b5"/><stop offset="0.135" stop-color="#4db9b5"/><stop offset="0.165" stop-color="#4fbbb4"/><stop offset="0.205" stop-color="#52c0b2"/><stop offset="0.255" stop-color="#55c5b0"/><stop offset="0.315" stop-color="#5ac6ae"/><stop offset="0.385" stop-color="#65c9a8"/><stop offset="0.455" stop-color="#69caa6"/><stop offset="0.545" stop-color="#69caa6"/><stop offset="0.615" stop-color="#65c9a8"/><stop offset="0.685" stop-color="#5ac6ae"/><stop offset="0.745" stop-color="#55c5b0"/><stop offset="0.795" stop-color="#52c0b2"/><stop offset="0.835" stop-color="#4fbbb4"/><stop offset="0.865" stop-color="#4db9b5"/><stop offset="0.885" stop-color="#4cb7b5"/><stop offset="0.905" stop-color="#4bb5b6"/><stop offset="0.915" stop-color="#4ab4b6"/><stop offset="0.925" stop-color="#4ab2b6"/><stop offset="0.935" stop-color="#49b0b7"/><stop offset="0.945" stop-color="#48adb8"/><stop offset="0.955" stop-color="#47a9b9"/><stop offset="0.965" stop-color="#46a4bb"/><stop offset="0.975" stop-color="#459dbb"/><stop offset="0.985" stop-color="#4298bb"/><stop offset="0.995" stop-color="#4196bb"/></linearGradient>
<linearGradient id="g19" x1="0" y1="0" x2="0" y2="1"><stop offset="0.005" stop-color="#3e94bc"/><stop offset="0.015" stop-color="#3f94bb"/><stop offset="0.025" stop-color="#4298bb"/><stop offset="0.035" stop-color="#459dbb"/><stop offset="0.045" stop-color="#46a3bb"/><stop offset="0.055" stop-color="#47a8ba"/><stop offset="0.065" stop-color="#47aab9"/><stop offset="0.075" stop-color="#48acb8"/><stop offset="0.085" stop-color="#48adb8"/><stop offset="0.095" stop-color="#49afb7"/><stop offset="0.115" stop-color="#49b1b7"/><stop offset="0.135" stop-color="#4ab3b6"/><stop offset="0.165" stop-color="#4cb6b5"/><stop offset="0.205" stop-color="#4eb9b4"/><stop offset="0.255" stop-color="#50bdb3"/><stop offset="0.315" stop-color="#54c3b1"/><stop offset="0.385" stop-color="#55c5b0"/><stop offset="0.455" stop-color="#5bc6ad"/><stop offset="0.545" stop-color="#5bc6ad"/><stop offset="0.615" stop-color="#55c5b0"/><stop offset="0.685" stop-color="#54c3b1"/><stop offset="0.745" stop-color="#50bdb3"/><stop offset="0.795" stop-color="#4eb9b4"/><stop offset="0.835" stop-color="#4cb6b5"/><stop offset="0.865" stop-color="#4ab3b6"/><stop offset="0.885" stop-color="#49b1b7"/><stop offset="0.905" stop-color="#49afb7"/><stop offset="0.915" stop-color="#48adb8"/><stop offset="0.925" stop-color="#48acb8"/><stop offset="0.935" stop-color="#47aab9"/><stop offset="0.945" stop-color="#47a8ba"/><stop offset="0.955" stop-color="#46a3bb"/><stop offset="0.965" stop-color="#459dbb"/><stop offset="0.975" stop-color="#4298bb"/><stop offset="0.985" stop-color="#3f94bb"/><stop offset="0.995" stop-color="#3e94bc"/></linearGradient>
<linearGradient id="g20" x1="0" y1="0" x2="0" y2="1"><stop offset="0.005" stop-color="#3f91bf"/><stop offset="0.015" stop-color="#3e93be"/><stop offset="0.025" stop-color="#3f94bb"/><stop offset="0.035" stop-color="#4298bb"/><stop offset="0.045" stop-color="#459dbb"/><stop offset="0.055" stop-color="#46a1bb"/><stop offset="0.065" stop-color="#46a4bb"/><stop offset="0.075" stop-color="#47a6ba"/><stop offset="0.085" stop-color="#47a8ba"/><stop offset="0.095" stop-color="#47a9ba"/><stop offset="0.115" stop-color="#48abb9"/><stop offset="0.135" stop-color="#48adb8"/><stop offset="0.165" stop-color="#49b1b7"/><stop offset="0.205" stop-color="#4bb4b6"/><stop offset="0.255" stop-color="#4db8b5"/><stop offset="0.315" stop-color="#4fbcb3"/><stop offset="0.385" stop-color="#52c1b2"/><stop offset="0.455" stop-color="#55c4b0"/><stop offset="0.545" stop-color="#55c4b0"/><stop offset="0.615" stop-color="#52c1b2"/><stop offset="0.685" stop-color="#4fbcb3"/><stop offset="0.745" stop-color="#4db8b5"/><stop offset="0.795" stop-color="#4bb4b6"/><stop offset="0.835" stop-color="#49b1b7"/><stop offset="0.865" stop-color="#48adb8"/><stop offset="0.885" stop-color="#48abb9"/><stop offset="0.905" stop-color="#47a9ba"/><stop offset="0.915" stop-color="#47a8ba"/><stop offset="0.925" stop-color="#47a6ba"/><stop offset="0.935" stop-color="#46a4bb"/><stop offset="0.945" stop-color="#46a1bb"/><stop offset="0.955" stop-color="#459dbb"/><stop offset="0.965" stop-color="#4298bb"/><stop offset="0.975" stop-color="#3f94bb"/><stop offset="0.985" stop-color="#3e93be"/><stop offset="0.995" stop-color="#3f91bf"/></linearGradient>
<linearGradient id="g21" x1="0" y1="0" x2="0" y2="1"><stop offset="0.005" stop-color="#428dc3"/><stop offset="0.015" stop-color="#408fc1"/><stop offset="0.025" stop-color="#3e93be"/><stop offset="0.035" stop-color="#3f94bb"/><stop offset="0.045" stop-color="#4298bb"/><stop offset="0.055" stop-color="#459cbb"/><stop offset="0.065" stop-color="#459fbb"/><stop offset="0.075" stop-color="#46a1bb"/><stop offset="0.085" stop-color="#46a2bb"/><stop offset="0.095" stop-color="#46a4bb"/><stop offset="0.115" stop-color="#47a6ba"/><stop offset="0.135" stop-color="#47a8ba"/><stop offset="0.165" stop-color="#48abb9"/><stop offset="0.205" stop-color="#49afb7"/><stop offset="0.255" stop-color="#4ab4b6"/><stop offset="0.315" stop-color="#4db8b5"/><stop offset="0.385" stop-color="#4fbbb4"/><stop offset="0.455" stop-color="#50bdb3"/><stop offset="0.545" stop-color="#50bdb3"/><stop offset="0.615" stop-color="#4fbbb4"/><stop offset="0.685" stop-color="#4db8b5"/><stop offset="0.745" stop-color="#4ab4b6"/><stop offset="0.795" stop-color="#49afb7"/><stop offset="0.835" stop-color="#48abb9"/><stop offset="0.865" stop-color="#47a8ba"/><stop offset="0.885" stop-color="#47a6ba"/><stop offset="0.905" stop-color="#46a4bb"/><stop offset="0.915" stop-color="#46a2bb"/><stop offset="0.925" stop-color="#46a1bb"/><stop offset="0.935" stop-color="#459fbb"/><stop offset="0.945" stop-color="#459cbb"/><stop offset="0.955" stop-color="#4298bb"/><stop offset="0.965" stop-color="#3f94bb"/><stop offset="0.975" stop-color="#3e93be"/><stop offset="0.985" stop-color="#408fc1"/><stop offset="0.995" stop-color="#428dc3"/></linearGradient>
<linearGradient id="g22" x1="0" y1="0" x2="0" y2="1"><stop offset="0.005" stop-color="#4289c4"/><stop offset="0.015" stop-color="#428cc3"/><stop offset="0.025" stop-color="#3f90c0"/><stop offset="0.035" stop-color="#3e94bd"/><stop offset="0.045" stop-color="#4095bb"/><stop offset="0.055" stop-color="#4298bb"/><stop offset="0.065" stop-color="#449abb"/><stop offset="0.075" stop-color="#459bbb"/><stop offset="0.085" stop-color="#459dbb"/><stop offset="0.095" stop-color="#459ebb"/><stop offset="0.115" stop-color="#46a1bb"/><stop offset="0.135" stop-color="#46a3bb"/><stop offset="0.165" stop-color="#47a7ba"/><stop offset="0.205" stop-color="#47aab9"/><stop offset="0.255" stop-color="#49afb7"/><stop offset="0.315" stop-color="#4ab3b6"/><stop offset="0.385" stop-color="#4cb7b5"/><stop offset="0.455" stop-color="#4eb9b5"/><stop offset="0.545" stop-color="#4eb9b5"/><stop offset="0.615" stop-color="#4cb7b5"/><stop offset="0.685" stop-color="#4ab3b6"/><stop offset="0.745" stop-color="#49afb7"/><stop offset="0.795" stop-color="#47aab9"/><stop offset="0.835" stop-color="#47a7ba"/><stop offset="0.865" stop-color="#46a3bb"/><stop offset="0.885" stop-color="#46a1bb"/><stop offset="0.905" stop-color="#459ebb"/><stop offset="0.915" stop-color="#459dbb"/><stop offset="0.925" stop-color="#459bbb"/><stop offset="0.935" stop-color="#449abb"/><stop offset="0.945" stop-color="#4298bb"/><stop offset="0.955" stop-color="#4095bb"/><stop offset="0.965" stop-color="#3e94bd"/><stop offset="0.975" stop-color="#3f90c0"/><stop offset="0.985" stop-color="#428cc3"/><stop offset="0.995" stop-color="#4289c4"/></linearGradient>
<linearGradient id="g23" x1="0" y1="0" x2="0" y2="1"><stop offset="0.005" stop-color="#4082c2"/><stop offset="0.015" stop-color="#4287c4"/><stop offset="0.025" stop-color="#428dc3"/><stop offset="0.035" stop-color="#3f91bf"/><stop offset="0.045" stop-color="#3e94bc"/><stop offset="0.055" stop-color="#3f94bb"/><stop offset="0.065" stop-color="#4197bb"/><stop offset="0.075" stop-color="#4298bb"/><stop offset="0.085" stop-color="#4399bb"/><stop offset="0.095" stop-color="#449abb"/><stop offset="0.115" stop-color="#459cbb"/><stop offset="0.135" stop-color="#459ebb"/><stop offset="0.165" stop-color="#46a2bb"/><stop offset="0.205" stop-color="#47a6ba"/><stop offset="0.255" stop-color="#47aab9"/><stop offset="0.315" stop-color="#49afb7"/><stop offset="0.385" stop-color="#4ab3b6"/><stop offset="0.455" stop-color="#4bb5b6"/><stop offset="0.545" stop-color="#4bb5b6"/><stop offset="0.615" stop-color="#4ab3b6"/><stop offset="0.685" stop-color="#49afb7"/><stop offset="0.745" stop-color="#47aab9"/><stop offset="0.795" stop-color="#47a6ba"/><stop offset="0.835" stop-color="#46a2bb"/><stop offset="0.865" stop-color="#459ebb"/><stop offset="0.885" stop-color="#459cbb"/><stop offset="0.905" stop-color="#449abb"/><stop offset="0.915" stop-color="#4399bb"/><stop offset="0.925" stop-color="#4298bb"/><stop offset="0.935" stop-color="#4197bb"/><stop offset="0.945" stop-color="#3f94bb"/><stop offset="0.955" stop-color="#3e94bc"/><stop offset="0.965" stop-color="#3f91bf"/><stop offset="0.975" stop-color="#428dc3"/><stop offset="0.985" stop-color="#4287c4"/><stop offset="0.995" stop-color="#4082c2"/></linearGradient>
<linearGradient id="g24" x1="0" y1="0" x2="0" y2="1"><stop offset="0.005" stop-color="#4086c4"/><stop offset="0.015" stop-color="#4081c2"/><stop offset="0.025" stop-color="#4288c4"/><stop offset="0.035" stop-color="#418ec2"/><stop offset="0.045" stop-color="#3f92bf"/><stop offset="0.055" stop-color="#3e94bc"/><stop offset="0.065" stop-color="#3f94bb"/><stop offset="0.075" stop-color="#4095bb"/><stop offset="0.085" stop-color="#4096bb"/><stop offset="0.095" stop-color="#4197bb"/><stop offset="0.115" stop-color="#4299bb"/><stop offset="0.135" stop-color="#449abb"/><stop offset="0.165" stop-color="#459dbb"/><stop offset="0.205" stop-color="#46a1bb"/><stop offset="0.255" stop-color="#47a6ba"/><stop offset="0.315" stop-color="#47aab9"/><stop offset="0.385" stop-color="#48aeb8"/><stop offset="0.455" stop-color="#49b1b7"/><stop offset="0.545" stop-color="#49b1b7"/><stop offset="0.615" stop-color="#48aeb8"/><stop offset="0.685" stop-color="#47aab9"/><stop offset="0.745" stop-color="#47a6ba"/><stop offset="0.795" stop-color="#46a1bb"/><stop offset="0.835" stop-color="#459dbb"/><stop offset="0.865" stop-color="#449abb"/><stop offset="0.885" stop-color="#4299bb"/><stop offset="0.905" stop-color="#4197bb"/><stop offset="0.915" stop-color="#4096bb"/><stop offset="0.925" stop-color="#4095bb"/><stop offset="0.935" stop-color="#3f94bb"/><stop offset="0.945" stop-color="#3e94bc"/><stop offset="0.955" stop-color="#3f92bf"/><stop offset="0.965" stop-color="#418ec2"/><stop offset="0.975" stop-color="#4288c4"/><stop offset="0.985" stop-color="#4081c2"/><stop offset="0.995" stop-color="#4086c4"/></linearGradient>
<linearGradient id="g25" x1="0" y1="0" x2="0" y2="1"><stop offset="0.005" stop-color="#4183c1"/><stop offset="0.015" stop-color="#4085c3"/><stop offset="0.025" stop-color="#4082c2"/><stop offset="0.035" stop-color="#428bc3"/><stop offset="0.045" stop-color="#408fc1"/><stop offset="0.055" stop-color="#3f92bf"/><stop offset="0.065" stop-color="#3e94bd"/><stop offset="0.075" stop-color="#3e94bc"/><stop offset="0.085" stop-color="#3f94bc"/><stop offset="0.095" stop-color="#3f94bb"/><stop offset="0.115" stop-color="#4096bb"/><stop offset="0.135" stop-color="#4197bb"/><stop offset="0.165" stop-color="#439abb"/><stop offset="0.205" stop-color="#459dbb"/><stop offset="0.255" stop-color="#46a2bb"/><stop offset="0.315" stop-color="#47a7ba"/><stop offset="0.385" stop-color="#47aab9"/><stop offset="0.455" stop-color="#48adb8"/><stop offset="0.545" stop-color="#48adb8"/><stop offset="0.615" stop-color="#47aab9"/><stop offset="0.685" stop-color="#47a7ba"/><stop offset="0.745" stop-color="#46a2bb"/><stop offset="0.795" stop-color="#459dbb"/><stop offset="0.835" stop-color="#439abb"/><stop offset="0.865" stop-color="#4197bb"/><stop offset="0.885" stop-color="#4096bb"/><stop offset="0.905" stop-color="#3f94bb"/><stop offset="0.915" stop-color="#3f94bc"/><stop offset="0.925" stop-color="#3e94bc"/><stop offset="0.935" stop-color="#3e94bd"/><stop offset="0.945" stop-color="#3f92bf"/><stop offset="0.955" stop-color="#408fc1"/><stop offset="0.965" stop-color="#428bc3"/><stop offset="0.975" stop-color="#4082c2"/><stop offset="0.985" stop-color="#4085c3"/><stop offset="0.995" stop-color="#4183c1"/></linearGradient>
<linearGradient id="g26" x1="0" y1="0" x2="0" y2="1"><stop offset="0.005" stop-color="#417fbe"/><stop offset="0.015" stop-color="#4182c0"/><stop offset="0.025" stop-color="#4087c4"/><stop offset="0.035" stop-color="#4286c4"/><stop offset="0.045" stop-color="#428dc3"/><stop offset="0.055" stop-color="#408fc1"/><stop offset="0.065" stop-color="#3f91bf"/><stop offset="0.075" stop-color="#3e93be"/><stop offset="0.085" stop-color="#3e94bd"/><stop offset="0.095" stop-color="#3e94bd"/><stop offset="0.115" stop-color="#3f94bc"/><stop offset="0.135" stop-color="#3f94bb"/><stop offset="0.165" stop-color="#4197bb"/><stop offset="0.205" stop-color="#439abb"/><stop offset="0.255" stop-color="#459ebb"/><stop offset="0.315" stop-color="#46a2bb"/><stop offset="0.385" stop-color="#47a7ba"/><stop offset="0.455" stop-color="#47a9b9"/><stop offset="0.545" stop-color="#47a9b9"/><stop offset="0.615" stop-color="#47a7ba"/><stop offset="0.685" stop-color="#46a2bb"/><stop offset="0.745" stop-color="#459ebb"/><stop offset="0.795" stop-color="#439abb"/><stop offset="0.835" stop-color="#4197bb"/><stop offset="0.865" stop-color="#3f94bb"/><stop offset="0.885" stop-color="#3f94bc"/><stop offset="0.905" stop-color="#3e94bd"/><stop offset="0.915" stop-color="#3e94bd"/><stop offset="0.925" stop-color="#3e93be"/><stop offset="0.935" stop-color="#3f91bf"/><stop offset="0.945" stop-color="#408fc1"/><stop offset="0.955" stop-color="#428dc3"/><stop offset="0.965" stop-color="#4286c4"/><stop offset="0.975" stop-color="#4087c4"/><stop offset="0.985" stop-color="#4182c0"/><stop offset="0.995" stop-color="#417fbe"/></linearGradient>
<linearGradient id="g27" x1="0" y1="0" x2="0" y2="1"><stop offset="0.005" stop-color="#417bbc"/><stop offset="0.015" stop-color="#417fbd"/><stop offset="0.025" stop-color="#4184c2"/><stop offset="0.035" stop-color="#4081c2"/><stop offset="0.045" stop-color="#4289c4"/><stop offset="0.055" stop-color="#428dc3"/><stop offset="0.065" stop-color="#408fc1"/><stop offset="0.075" stop-color="#3f90c0"/><stop offset="0.085" stop-color="#3f91bf"/><stop offset="0.095" stop-color="#3e92be"/><stop offset="0.115" stop-color="#3e94bd"/><stop offset="0.135" stop-color="#3e94bc"/><stop offset="0.165" stop-color="#3f94bb"/><stop offset="0.205" stop-color="#4197bb"/><stop offset="0.255" stop-color="#449abb"/><stop offset="0.315" stop-color="#459fbb"/><stop offset="0.385" stop-color="#46a3bb"/><stop offset="0.455" stop-color="#47a6ba"/><stop offset="0.545" stop-color="#47a6ba"/><stop offset="0.615" stop-color="#46a3bb"/><stop offset="0.685" stop-color="#459fbb"/><stop offset="0.745" stop-color="#449abb"/><stop offset="0.795" stop-color="#4197bb"/><stop offset="0.835" stop-color="#3f94bb"/><stop offset="0.865" stop-color="#3e94bc"/><stop offset="0.885" stop-color="#3e94bd"/><stop offset="0.905" stop-color="#3e92be"/><stop offset="0.915" stop-color="#3f91bf"/><stop offset="0.925" stop-color="#3f90c0"/><stop offset="0.935" stop-color="#408fc1"/><stop offset="0.945" stop-color="#428dc3"/><stop offset="0.955" stop-color="#4289c4"/><stop offset="0.965" stop-color="#4081c2"/><stop offset="0.975" stop-color="#4184c2"/><stop offset="0.985" stop-color="#417fbd"/><stop offset="0.995" stop-color="#417bbc"/></linearGradient>
<linearGradient id="g28" x1="0" y1="0" x2="0" y2="1"><stop offset="0.005" stop-color="#4178ba"/><stop offset="0.015" stop-color="#417bbc"/><stop offset="0.025" stop-color="#4181bf"/><stop offset="0.035" stop-color="#4087c4"/><stop offset="0.045" stop-color="#4185c3"/><stop offset="0.055" stop-color="#428ac4"/><stop offset="0.065" stop-color="#428dc3"/><stop offset="0.075" stop-color="#418ec2"/><stop offset="0.085" stop-color="#408fc1"/><stop offset="0.095" stop-color="#3f90c0"/><stop offset="0.115" stop-color="#3f91bf"/><stop offset="0.135" stop-color="#3e93be"/><stop offset="0.165" stop-color="#3e94bc"/><stop offset="0.205" stop-color="#4095bb"/><stop offset="0.255" stop-color="#4298bb"/><stop offset="0.315" stop-color="#459bbb"/><stop offset="0.385" stop-color="#469fbb"/><stop offset="0.455" stop-color="#46a2bb"/><stop offset="0.545" stop-color="#46a2bb"/><stop offset="0.615" stop-color="#469fbb"/><stop offset="0.685" stop-color="#459bbb"/><stop offset="0.745" stop-color="#4298bb"/><stop offset="0.795" stop-color="#4095bb"/><stop offset="0.835" stop-color="#3e94bc"/><stop offset="0.865" stop-color="#3e93be"/><stop offset="0.885" stop-color="#3f91bf"/><stop offset="0.905" stop-color="#3f90c0"/><stop offset="0.915" stop-color="#408fc1"/><stop offset="0.925" stop-color="#418ec2"/><stop offset="0.935" stop-color="#428dc3"/><stop offset="0.945" stop-color="#428ac4"/><stop offset="0.955" stop-color="#4185c3"/><stop offset="0.965" stop-color="#4087c4"/><stop offset="0.975" stop-color="#4181bf"/><stop offset="0.985" stop-color="#417bbc"/><stop offset="0.995" stop-color="#4178ba"/></linearGradient>
<linearGradient id="g29" x1="0" y1="0" x2="0" y2="1"><stop offset="0.005" stop-color="#3f74b8"/><stop offset="0.015" stop-color="#4178ba"/><stop offset="0.025" stop-color="#417ebd"/><stop offset="0.035" stop-color="#4184c2"/><stop offset="0.045" stop-color="#4080c2"/><stop offset="0.055" stop-color="#4287c4"/><stop offset="0.065" stop-color="#428ac4"/><stop offset="0.075" stop-color="#428cc3"/><stop offset="0.085" stop-color="#428dc3"/><stop offset="0.095" stop-color="#418ec2"/><stop offset="0.115" stop-color="#408fc1"/><stop offset="0.135" stop-color="#3f91bf"/><stop offset="0.165" stop-color="#3e93be"/><stop offset="0.205" stop-color="#3f94bc"/><stop offset="0.255" stop-color="#4096bb"/><stop offset="0.315" stop-color="#4399bb"/><stop offset="0.385" stop-color="#459cbb"/><stop offset="0.455" stop-color="#459fbb"/><stop offset="0.545" stop-color="#459fbb"/><stop offset="0.615" stop-color="#459cbb"/><stop offset="0.685" stop-color="#4399bb"/><stop offset="0.745" stop-color="#4096bb"/><stop offset="0.795" stop-color="#3f94bc"/><stop offset="0.835" stop-color="#3e93be"/><stop offset="0.865" stop-color="#3f91bf"/><stop offset="0.885" stop-color="#408fc1"/><stop offset="0.905" stop-color="#418ec2"/><stop offset="0.915" stop-color="#428dc3"/><stop offset="0.925" stop-color="#428cc3"/><stop offset="0.935" stop-color="#428ac4"/><stop offset="0.945" stop-color="#4287c4"/><stop offset="0.955" stop-color="#4080c2"/><stop offset="0.965" stop-color="#4184c2"/><stop offset="0.975" stop-color="#417ebd"/><stop offset="0.985" stop-color="#4178ba"/><stop offset="0.995" stop-color="#3f74b8"/></linearGradient>
<linearGradient id="g30" x1="0" y1="0" x2="0" y2="1"><stop offset="0.005" stop-color="#3f71b7"/><stop offset="0.015" stop-color="#3f74b9"/><stop offset="0.025" stop-color="#417bbc"/><stop offset="0.035" stop-color="#4182c0"/><stop offset="0.045" stop-color="#4087c4"/><stop offset="0.055" stop-color="#4082c2"/><stop offset="0.065" stop-color="#4287c4"/><stop offset="0.075" stop-color="#4289c4"/><stop offset="0.085" stop-color="#428ac4"/><stop offset="0.095" stop-color="#428cc3"/><stop offset="0.115" stop-color="#418ec2"/><stop offset="0.135" stop-color="#408fc1"/><stop offset="0.165" stop-color="#3f91bf"/><stop offset="0.205" stop-color="#3e94bd"/><stop offset="0.255" stop-color="#3f94bb"/><stop offset="0.315" stop-color="#4197bb"/><stop offset="0.385" stop-color="#439abb"/><stop offset="0.455" stop-color="#459cbb"/><stop offset="0.545" stop-color="#459cbb"/><stop offset="0.615" stop-color="#439abb"/><stop offset="0.685" stop-color="#4197bb"/><stop offset="0.745" stop-color="#3f94bb"/><stop offset="0.795" stop-color="#3e94bd"/><stop offset="0.835" stop-color="#3f91bf"/><stop offset="0.865" stop-color="#408fc1"/><stop offset="0.885" stop-color="#418ec2"/><stop offset="0.905" stop-color="#428cc3"/><stop offset="0.915" stop-color="#428ac4"/><stop offset="0.925" stop-color="#4289c4"/><stop offset="0.935" stop-color="#4287c4"/><stop offset="0.945" stop-color="#4082c2"/><stop offset="0.955" stop-color="#4087c4"/><stop offset="0.965" stop-color="#4182c0"/><stop offset="0.975" stop-color="#417bbc"/><stop offset="0.985" stop-color="#3f74b9"/><stop offset="0.995" stop-color="#3f71b7"/></linearGradient>
<linearGradient id="g31" x1="0" y1="0" x2="0" y2="1"><stop offset="0.005" stop-color="#3e6eb5"/><stop offset="0.015" stop-color="#3f71b7"/><stop offset="0.025" stop-color="#4178ba"/><stop offset="0.035" stop-color="#417fbe"/><stop offset="0.045" stop-color="#4184c2"/><stop offset="0.055" stop-color="#4084c3"/><stop offset="0.065" stop-color="#4182c3"/><stop offset="0.075" stop-color="#4185c3"/><stop offset="0.085" stop-color="#4288c4"/><stop offset="0.095" stop-color="#4289c4"/><stop offset="0.115" stop-color="#428bc3"/><stop offset="0.135" stop-color="#428dc3"/><stop offset="0.165" stop-color="#408fc1"/><stop offset="0.205" stop-color="#3e92be"/><stop offset="0.255" stop-color="#3e94bc"/><stop offset="0.315" stop-color="#4095bb"/><stop offset="0.385" stop-color="#4298bb"/><stop offset="0.455" stop-color="#439abb"/><stop offset="0.545" stop-color="#439abb"/><stop offset="0.615" stop-color="#4298bb"/><stop offset="0.685" stop-color="#4095bb"/><stop offset="0.745" stop-color="#3e94bc"/><stop offset="0.795" stop-color="#3e92be"/><stop offset="0.835" stop-color="#408fc1"/><stop offset="0.865" stop-color="#428dc3"/><stop offset="0.885" stop-color="#428bc3"/><stop offset="0.905" stop-color="#4289c4"/><stop offset="0.915" stop-color="#4288c4"/><stop offset="0.925" stop-color="#4185c3"/><stop offset="0.935" stop-color="#4182c3"/><stop offset="0.945" stop-color="#4084c3"/><stop offset="0.955" stop-color="#4184c2"/><stop offset="0.965" stop-color="#417fbe"/><stop offset="0.975" stop-color="#4178ba"/><stop offset="0.985" stop-color="#3f71b7"/><stop offset="0.995" stop-color="#3e6eb5"/></linearGradient>
<linearGradient id="g32" x1="0" y1="0" x2="0" y2="1"><stop offset="0.005" stop-color="#3d6bb3"/><stop offset="0.015" stop-color="#3e6eb5"/><stop offset="0.025" stop-color="#4075b9"/><stop offset="0.035" stop-color="#417cbc"/><stop offset="0.045" stop-color="#4182c0"/><stop offset="0.055" stop-color="#4086c3"/><stop offset="0.065" stop-color="#4083c3"/><stop offset="0.075" stop-color="#4081c2"/><stop offset="0.085" stop-color="#4184c3"/><stop offset="0.095" stop-color="#4186c3"/><stop offset="0.115" stop-color="#4289c4"/><stop offset="0.135" stop-color="#428bc3"/><stop offset="0.165" stop-color="#418ec2"/><stop offset="0.205" stop-color="#3f90c0"/><stop offset="0.255" stop-color="#3e94bd"/><stop offset="0.315" stop-color="#3f94bb"/><stop offset="0.385" stop-color="#4196bb"/><stop offset="0.455" stop-color="#4298bb"/><stop offset="0.545" stop-color="#4298bb"/><stop offset="0.615" stop-color="#4196bb"/><stop offset="0.685" stop-color="#3f94bb"/><stop offset="0.745" stop-color="#3e94bd"/><stop offset="0.795" stop-color="#3f90c0"/><stop offset="0.835" stop-color="#418ec2"/><stop offset="0.865" stop-color="#428bc3"/><stop offset="0.885" stop-color="#4289c4"/><stop offset="0.905" stop-color="#4186c3"/><stop offset="0.915" stop-color="#4184c3"/><stop offset="0.925" stop-color="#4081c2"/><stop offset="0.935" stop-color="#4083c3"/><stop offset="0.945" stop-color="#4086c3"/><stop offset="0.955" stop-color="#4182c0"/><stop offset="0.965" stop-color="#417cbc"/><stop offset="0.975" stop-color="#4075b9"/><stop offset="0.985" stop-color="#3e6eb5"/><stop offset="0.995" stop-color="#3d6bb3"/></linearGradient>
<linearGradient id="g33" x1="0" y1="0" x2="0" y2="1"><stop offset="0.005" stop-color="#3c67b2"/><stop offset="0.015" stop-color="#3d6bb4"/><stop offset="0.025" stop-color="#3f72b7"/><stop offset="0.035" stop-color="#417abb"/><stop offset="0.045" stop-color="#4180be"/><stop offset="0.055" stop-color="#4184c2"/><stop offset="0.065" stop-color="#4086c3"/><stop offset="0.075" stop-color="#4084c3"/><stop offset="0.085" stop-color="#4080c2"/><stop offset="0.095" stop-color="#4082c2"/><stop offset="0.115" stop-color="#4186c3"/><stop offset="0.135" stop-color="#4289c4"/><stop offset="0.165" stop-color="#428cc3"/><stop offset="0.205" stop-color="#408fc1"/><stop offset="0.255" stop-color="#3f92bf"/><stop offset="0.315" stop-color="#3e94bc"/><stop offset="0.385" stop-color="#3f94bb"/><stop offset="0.455" stop-color="#4196bb"/><stop offset="0.545" stop-color="#4196bb"/><stop offset="0.615" stop-color="#3f94bb"/><stop offset="0.685" stop-color="#3e94bc"/><stop offset="0.745" stop-color="#3f92bf"/><stop offset="0.795" stop-color="#408fc1"/><stop offset="0.835" stop-color="#428cc3"/><stop offset="0.865" stop-color="#4289c4"/><stop offset="0.885" stop-color="#4186c3"/><stop offset="0.905" stop-color="#4082c2"/><stop offset="0.915" stop-color="#4080c2"/><stop offset="0.925" stop-color="#4084c3"/><stop offset="0.935" stop-color="#4086c3"/><stop offset="0.945" stop-color="#4184c2"/><stop offset="0.955" stop-color="#4180be"/><stop offset="0.965" stop-color="#417abb"/><stop offset="0.975" stop-color="#3f72b7"/><stop offset="0.985" stop-color="#3d6bb4"/><stop offset="0.995" stop-color="#3c67b2"/></linearGradient>
<linearGradient id="g34" x1="0" y1="0" x2="0" y2="1"><stop offset="0.005" stop-color="#3c64b1"/><stop offset="0.015" stop-color="#3c68b2"/><stop offset="0.025" stop-color="#3e6fb6"/><stop offset="0.035" stop-color="#4077ba"/><stop offset="0.045" stop-color="#417dbd"/><stop offset="0.055" stop-color="#4182c0"/><stop offset="0.065" stop-color="#4184c2"/><stop offset="0.075" stop-color="#4086c3"/><stop offset="0.085" stop-color="#4087c4"/><stop offset="0.095" stop-color="#4083c3"/><stop offset="0.115" stop-color="#4182c3"/><stop offset="0.135" stop-color="#4186c3"/><stop offset="0.165" stop-color="#428ac4"/><stop offset="0.205" stop-color="#428dc3"/><stop offset="0.255" stop-color="#3f90c0"/><stop offset="0.315" stop-color="#3e94bd"/><stop offset="0.385" stop-color="#3f94bc"/><stop offset="0.455" stop-color="#3f94bb"/><stop offset="0.545" stop-color="#3f94bb"/><stop offset="0.615" stop-color="#3f94bc"/><stop offset="0.685" stop-color="#3e94bd"/><stop offset="0.745" stop-color="#3f90c0"/><stop offset="0.795" stop-color="#428dc3"/><stop offset="0.835" stop-color="#428ac4"/><stop offset="0.865" stop-color="#4186c3"/><stop offset="0.885" stop-color="#4182c3"/><stop offset="0.905" stop-color="#4083c3"/><stop offset="0.915" stop-color="#4087c4"/><stop offset="0.925" stop-color="#4086c3"/><stop offset="0.935" stop-color="#4184c2"/><stop offset="0.945" stop-color="#4182c0"/><stop offset="0.955" stop-color="#417dbd"/><stop offset="0.965" stop-color="#4077ba"/><stop offset="0.975" stop-color="#3e6fb6"/><stop offset="0.985" stop-color="#3c68b2"/><stop offset="0.995" stop-color="#3c64b1"/></linearGradient>
<linearGradient id="g35" x1="0" y1="0" x2="0" y2="1"><stop offset="0.005" stop-color="#3c62b0"/><stop offset="0.015" stop-color="#3c66b1"/><stop offset="0.025" stop-color="#3e6db4"/><stop offset="0.035" stop-color="#3f74b9"/><stop offset="0.045" stop-color="#417bbc"/><stop offset="0.055" stop-color="#4180be"/><stop offset="0.065" stop-color="#4183c1"/><stop offset="0.075" stop-color="#4184c2"/><stop offset="0.085" stop-color="#4085c3"/><stop offset="0.095" stop-color="#4086c4"/><stop offset="0.115" stop-color="#4082c3"/><stop offset="0.135" stop-color="#4182c3"/><stop offset="0.165" stop-color="#4288c4"/><stop offset="0.205" stop-color="#428cc3"/><stop offset="0.255" stop-color="#408fc1"/><stop offset="0.315" stop-color="#3f92bf"/><stop offset="0.385" stop-color="#3e94bc"/><stop offset="0.455" stop-color="#3f94bc"/><stop offset="0.545" stop-color="#3f94bc"/><stop offset="0.615" stop-color="#3e94bc"/><stop offset="0.685" stop-color="#3f92bf"/><stop offset="0.745" stop-color="#408fc1"/><stop offset="0.795" stop-color="#428cc3"/><stop offset="0.835" stop-color="#4288c4"/><stop offset="0.865" stop-color="#4182c3"/><stop offset="0.885" stop-color="#4082c3"/><stop offset="0.905" stop-color="#4086c4"/><stop offset="0.915" stop-color="#4085c3"/><stop offset="0.925" stop-color="#4184c2"/><stop offset="0.935" stop-color="#4183c1"/><stop offset="0.945" stop-color="#4180be"/><stop offset="0.955" stop-color="#417bbc"/><stop offset="0.965" stop-color="#3f74b9"/><stop offset="0.975" stop-color="#3e6db4"/><stop offset="0.985" stop-color="#3c66b1"/><stop offset="0.995" stop-color="#3c62b0"/></linearGradient>
<linearGradient id="g36" x1="0" y1="0" x2="0" y2="1"><stop offset="0.005" stop-color="#3c5eaf"/><stop offset="0.015" stop-color="#3c63b0"/><stop offset="0.025" stop-color="#3d6ab3"/><stop offset="0.035" stop-color="#3f72b7"/><stop offset="0.045" stop-color="#4179bb"/><stop offset="0.055" stop-color="#417ebd"/><stop offset="0.065" stop-color="#4181bf"/><stop offset="0.075" stop-color="#4183c1"/><stop offset="0.085" stop-color="#4184c2"/><stop offset="0.095" stop-color="#4185c2"/><stop offset="0.115" stop-color="#4087c4"/><stop offset="0.135" stop-color="#4081c2"/><stop offset="0.165" stop-color="#4184c3"/><stop offset="0.205" stop-color="#428ac4"/><stop offset="0.255" stop-color="#418ec2"/><stop offset="0.315" stop-color="#3f90c0"/><stop offset="0.385" stop-color="#3e94bd"/><stop offset="0.455" stop-color="#3e94bc"/><stop offset="0.545" stop-color="#3e94bc"/><stop offset="0.615" stop-color="#3e94bd"/><stop offset="0.685" stop-color="#3f90c0"/><stop offset="0.745" stop-color="#418ec2"/><stop offset="0.795" stop-color="#428ac4"/><stop offset="0.835" stop-color="#4184c3"/><stop offset="0.865" stop-color="#4081c2"/><stop offset="0.885" stop-color="#4087c4"/><stop offset="0.905" stop-color="#4185c2"/><stop offset="0.915" stop-color="#4184c2"/><stop offset="0.925" stop-color="#4183c1"/><stop offset="0.935" stop-color="#4181bf"/><stop offset="0.945" stop-color="#417ebd"/><stop offset="0.955" stop-color="#4179bb"/><stop offset="0.965" stop-color="#3f72b7"/><stop offset="0.975" stop-color="#3d6ab3"/><stop offset="0.985" stop-color="#3c63b0"/><stop offset="0.995" stop-color="#3c5eaf"/></linearGradient>
<linearGradient id="g37" x1="0" y1="0" x2="0" y2="1"><stop offset="0.005" stop-color="#3c5bad"/><stop offset="0.015" stop-color="#3c60af"/><stop offset="0.025" stop-color="#3c68b2"/><stop offset="0.035" stop-color="#3e70b6"/><stop offset="0.045" stop-color="#4077ba"/><stop offset="0.055" stop-color="#417cbc"/><stop offset="0.065" stop-color="#417fbe"/><stop offset="0.075" stop-color="#4181bf"/><stop offset="0.085" stop-color="#4182c0"/><stop offset="0.095" stop-color="#4183c1"/><stop offset="0.115" stop-color="#4085c3"/><stop offset="0.135" stop-color="#4086c4"/><stop offset="0.165" stop-color="#4082c2"/><stop offset="0.205" stop-color="#4288c4"/><stop offset="0.255" stop-color="#428cc3"/><stop offset="0.315" stop-color="#408fc1"/><stop offset="0.385" stop-color="#3e92be"/><stop offset="0.455" stop-color="#3e94bd"/><stop offset="0.545" stop-color="#3e94bd"/><stop offset="0.615" stop-color="#3e92be"/><stop offset="0.685" stop-color="#408fc1"/><stop offset="0.745" stop-color="#428cc3"/><stop offset="0.795" stop-color="#4288c4"/><stop offset="0.835" stop-color="#4082c2"/><stop offset="0.865" stop-color="#4086c4"/><stop offset="0.885" stop-color="#4085c3"/><stop offset="0.905" stop-color="#4183c1"/><stop offset="0.915" stop-color="#4182c0"/><stop offset="0.925" stop-color="#4181bf"/><stop offset="0.935" stop-color="#417fbe"/><stop offset="0.945" stop-color="#417cbc"/><stop offset="0.955" stop-color="#4077ba"/><stop offset="0.965" stop-color="#3e70b6"/><stop offset="0.975" stop-color="#3c68b2"/><stop offset="0.985" stop-color="#3c60af"/><stop offset="0.995" stop-color="#3c5bad"/></linearGradient>
<linearGradient id="g38" x1="0" y1="0" x2="0" y2="1"><stop offset="0.005" stop-color="#3d58ac"/><stop offset="0.015" stop-color="#3c5eae"/><stop offset="0.025" stop-color="#3c66b1"/><stop offset="0.035" stop-color="#3e6eb5"/><stop offset="0.045" stop-color="#4075b9"/><stop offset="0.055" stop-color="#417abb"/><stop offset="0.065" stop-color="#417dbd"/><stop offset="0.075" stop-color="#417fbe"/><stop offset="0.085" stop-color="#4181bf"/><stop offset="0.095" stop-color="#4182c0"/><stop offset="0.115" stop-color="#4184c2"/><stop offset="0.135" stop-color="#4086c3"/><stop offset="0.165" stop-color="#4082c2"/><stop offset="0.205" stop-color="#4186c3"/><stop offset="0.255" stop-color="#428bc3"/><stop offset="0.315" stop-color="#418ec2"/><stop offset="0.385" stop-color="#3f91bf"/><stop offset="0.455" stop-color="#3e93be"/><stop offset="0.545" stop-color="#3e93be"/><stop offset="0.615" stop-color="#3f91bf"/><stop offset="0.685" stop-color="#418ec2"/><stop offset="0.745" stop-color="#428bc3"/><stop offset="0.795" stop-color="#4186c3"/><stop offset="0.835" stop-color="#4082c2"/><stop offset="0.865" stop-color="#4086c3"/><stop offset="0.885" stop-color="#4184c2"/><stop offset="0.905" stop-color="#4182c0"/><stop offset="0.915" stop-color="#4181bf"/><stop offset="0.925" stop-color="#417fbe"/><stop offset="0.935" stop-color="#417dbd"/><stop offset="0.945" stop-color="#417abb"/><stop offset="0.955" stop-color="#4075b9"/><stop offset="0.965" stop-color="#3e6eb5"/><stop offset="0.975" stop-color="#3c66b1"/><stop offset="0.985" stop-color="#3c5eae"/><stop offset="0.995" stop-color="#3d58ac"/></linearGradient>
<linearGradient id="g39" x1="0" y1="0" x2="0" y2="1"><stop offset="0.005" stop-color="#3e56ab"/><stop offset="0.015" stop-color="#3c5bad"/><stop offset="0.025" stop-color="#3c64b1"/><stop offset="0.035" stop-color="#3e6db4"/><stop offset="0.045" stop-color="#3f73b8"/><stop offset="0.055" stop-color="#4179bb"/><stop offset="0.065" stop-color="#417cbc"/><stop offset="0.075" stop-color="#417ebd"/><stop offset="0.085" stop-color="#417fbe"/><stop offset="0.095" stop-color="#4181bf"/><stop offset="0.115" stop-color="#4183c1"/><stop offset="0.135" stop-color="#4185c2"/><stop offset="0.165" stop-color="#4086c4"/><stop offset="0.205" stop-color="#4183c3"/><stop offset="0.255" stop-color="#4289c4"/><stop offset="0.315" stop-color="#418ec2"/><stop offset="0.385" stop-color="#3f90c0"/><stop offset="0.455" stop-color="#3f92bf"/><stop offset="0.545" stop-color="#3f92bf"/><stop offset="0.615" stop-color="#3f90c0"/><stop offset="0.685" stop-color="#418ec2"/><stop offset="0.745" stop-color="#4289c4"/><stop offset="0.795" stop-color="#4183c3"/><stop offset="0.835" stop-color="#4086c4"/><stop offset="0.865" stop-color="#4185c2"/><stop offset="0.885" stop-color="#4183c1"/><stop offset="0.905" stop-color="#4181bf"/><stop offset="0.915" stop-color="#417fbe"/><stop offset="0.925" stop-color="#417ebd"/><stop offset="0.935" stop-color="#417cbc"/><stop offset="0.945" stop-color="#4179bb"/><stop offset="0.955" stop-color="#3f73b8"/><stop offset="0.965" stop-color="#3e6db4"/><stop offset="0.975" stop-color="#3c64b1"/><stop offset="0.985" stop-color="#3c5bad"/><stop offset="0.995" stop-color="#3e56ab"/></linearGradient>
<linearGradient id="g40" x1="0" y1="0" x2="0" y2="1"><stop offset="0.005" stop-color="#3e53aa"/><stop offset="0.015" stop-color="#3d59ac"/><stop offset="0.025" stop-color="#3c62b0"/><stop offset="0.035" stop-color="#3d6bb3"/><stop offset="0.045" stop-color="#3f72b7"/><stop offset="0.055" stop-color="#4077ba"/><stop offset="0.065" stop-color="#417abb"/><stop offset="0.075" stop-color="#417cbc"/><stop offset="0.085" stop-color="#417ebd"/><stop offset="0.095" stop-color="#417fbe"/><stop offset="0.115" stop-color="#4182c0"/><stop offset="0.135" stop-color="#4184c2"/><stop offset="0.165" stop-color="#4086c3"/><stop offset="0.205" stop-color="#4081c2"/><stop offset="0.255" stop-color="#4288c4"/><stop offset="0.315" stop-color="#428dc3"/><stop offset="0.385" stop-color="#408fc1"/><stop offset="0.455" stop-color="#3f91bf"/><stop offset="0.545" stop-color="#3f91bf"/><stop offset="0.615" stop-color="#408fc1"/><stop offset="0.685" stop-color="#428dc3"/><stop offset="0.745" stop-color="#4288c4"/><stop offset="0.795" stop-color="#4081c2"/><stop offset="0.835" stop-color="#4086c3"/><stop offset="0.865" stop-color="#4184c2"/><stop offset="0.885" stop-color="#4182c0"/><stop offset="0.905" stop-color="#417fbe"/><stop offset="0.915" stop-color="#417ebd"/><stop offset="0.925" stop-color="#417cbc"/><stop offset="0.935" stop-color="#417abb"/><stop offset="0.945" stop-color="#4077ba"/><stop offset="0.955" stop-color="#3f72b7"/><stop offset="0.965" stop-color="#3d6bb3"/><stop offset="0.975" stop-color="#3c62b0"/><stop offset="0.985" stop-color="#3d59ac"/><stop offset="0.995" stop-color="#3e53aa"/></linearGradient>
<linearGradient id="g41" x1="0" y1="0" x2="0" y2="1"><stop offset="0.005" stop-color="#4051a9"/><stop offset="0.015" stop-color="#3d56ab"/><stop offset="0.025" stop-color="#3c60af"/><stop offset="0.035" stop-color="#3c69b3"/><stop offset="0.045" stop-color="#3e70b6"/><stop offset="0.055" stop-color="#4075b9"/><stop offset="0.065" stop-color="#4179bb"/><stop offset="0.075" stop-color="#417bbc"/><stop offset="0.085" stop-color="#417cbc"/><stop offset="0.095" stop-color="#417ebd"/><stop offset="0.115" stop-color="#4180bf"/><stop offset="0.135" stop-color="#4183c1"/><stop offset="0.165" stop-color="#4085c3"/><stop offset="0.205" stop-color="#4082c3"/><stop offset="0.255" stop-color="#4286c4"/><stop offset="0.315" stop-color="#428bc3"/><stop offset="0.385" stop-color="#418ec2"/><stop offset="0.455" stop-color="#3f90c0"/><stop offset="0.545" stop-color="#3f90c0"/><stop offset="0.615" stop-color="#418ec2"/><stop offset="0.685" stop-color="#428bc3"/><stop offset="0.745" stop-color="#4286c4"/><stop offset="0.795" stop-color="#4082c3"/><stop offset="0.835" stop-color="#4085c3"/><stop offset="0.865" stop-color="#4183c1"/><stop offset="0.885" stop-color="#4180bf"/><stop offset="0.905" stop-color="#417ebd"/><stop offset="0.915" stop-color="#417cbc"/><stop offset="0.925" stop-color="#417bbc"/><stop offset="0.935" stop-color="#4179bb"/><stop offset="0.945" stop-color="#4075b9"/><stop offset="0.955" stop-color="#3e70b6"/><stop offset="0.965" stop-color="#3c69b3"/><stop offset="0.975" stop-color="#3c60af"/><stop offset="0.985" stop-color="#3d56ab"/><stop offset="0.995" stop-color="#4051a9"/></linearGradient>
<linearGradient id="g42" x1="0" y1="0" x2="0" y2="1"><stop offset="0.005" stop-color="#414fa9"/><stop offset="0.015" stop-color="#3e54aa"/><stop offset="0.025" stop-color="#3c5eaf"/><stop offset="0.035" stop-color="#3c68b2"/><stop offset="0.045" stop-color="#3e6fb6"/><stop offset="0.055" stop-color="#3f74b8"/><stop offset="0.065" stop-color="#4077ba"/><stop offset="0.075" stop-color="#417abb"/><stop offset="0.085" stop-color="#417bbc"/><stop offset="0.095" stop-color="#417dbc"/><stop offset="0.115" stop-color="#417fbe"/><stop offset="0.135" stop-color="#4181c0"/><stop offset="0.165" stop-color="#4184c2"/><stop offset="0.205" stop-color="#4085c3"/><stop offset="0.255" stop-color="#4184c3"/><stop offset="0.315" stop-color="#428ac4"/><stop offset="0.385" stop-color="#418ec2"/><stop offset="0.455" stop-color="#408fc1"/><stop offset="0.545" stop-color="#408fc1"/><stop offset="0.615" stop-color="#418ec2"/><stop offset="0.685" stop-color="#428ac4"/><stop offset="0.745" stop-color="#4184c3"/><stop offset="0.795" stop-color="#4085c3"/><stop offset="0.835" stop-color="#4184c2"/><stop offset="0.865" stop-color="#4181c0"/><stop offset="0.885" stop-color="#417fbe"/><stop offset="0.905" stop-color="#417dbc"/><stop offset="0.915" stop-color="#417bbc"/><stop offset="0.925" stop-color="#417abb"/><stop offset="0.935" stop-color="#4077ba"/><stop offset="0.945" stop-color="#3f74b8"/><stop offset="0.955" stop-color="#3e6fb6"/><stop offset="0.965" stop-color="#3c68b2"/><stop offset="0.975" stop-color="#3c5eaf"/><stop offset="0.985" stop-color="#3e54aa"/><stop offset="0.995" stop-color="#414fa9"/></linearGradient>
<linearGradient id="g43" x1="0" y1="0" x2="0" y2="1"><stop offset="0.005" stop-color="#434daa"/><stop offset="0.015" stop-color="#3f52a9"/><stop offset="0.025" stop-color="#3c5cae"/><stop offset="0.035" stop-color="#3c66b1"/><stop offset="0.045" stop-color="#3e6eb5"/><stop offset="0.055" stop-color="#3f72b8"/><stop offset="0.065" stop-color="#4076b9"/><stop offset="0.075" stop-color="#4178bb"/><stop offset="0.085" stop-color="#417abb"/><stop offset="0.095" stop-color="#417bbc"/><stop offset="0.115" stop-color="#417ebd"/><stop offset="0.135" stop-color="#4180bf"/><stop offset="0.165" stop-color="#4183c1"/><stop offset="0.205" stop-color="#4087c4"/><stop offset="0.255" stop-color="#4182c3"/><stop offset="0.315" stop-color="#4289c4"/><stop offset="0.385" stop-color="#428dc3"/><stop offset="0.455" stop-color="#418ec2"/><stop offset="0.545" stop-color="#418ec2"/><stop offset="0.615" stop-color="#428dc3"/><stop offset="0.685" stop-color="#4289c4"/><stop offset="0.745" stop-color="#4182c3"/><stop offset="0.795" stop-color="#4087c4"/><stop offset="0.835" stop-color="#4183c1"/><stop offset="0.865" stop-color="#4180bf"/><stop offset="0.885" stop-color="#417ebd"/><stop offset="0.905" stop-color="#417bbc"/><stop offset="0.915" stop-color="#417abb"/><stop offset="0.925" stop-color="#4178bb"/><stop offset="0.935" stop-color="#4076b9"/><stop offset="0.945" stop-color="#3f72b8"/><stop offset="0.955" stop-color="#3e6eb5"/><stop offset="0.965" stop-color="#3c66b1"/><stop offset="0.975" stop-color="#3c5cae"/><stop offset="0.985" stop-color="#3f52a9"/><stop offset="0.995" stop-color="#434daa"/></linearGradient>
<linearGradient id="g44" x1="0" y1="0" x2="0" y2="1"><stop offset="0.005" stop-color="#444baa"/><stop offset="0.015" stop-color="#4050a9"/><stop offset="0.025" stop-color="#3c5aad"/><stop offset="0.035" stop-color="#3c65b1"/><stop offset="0.045" stop-color="#3d6cb4"/><stop offset="0.055" stop-color="#3f71b7"/><stop offset="0.065" stop-color="#4075b9"/><stop offset="0.075" stop-color="#4077ba"/><stop offset="0.085" stop-color="#4179bb"/><stop offset="0.095" stop-color="#417abb"/><stop offset="0.115" stop-color="#417dbc"/><stop offset="0.135" stop-color="#417fbe"/><stop offset="0.165" stop-color="#4182c0"/><stop offset="0.205" stop-color="#4086c3"/><stop offset="0.255" stop-color="#4081c2"/><stop offset="0.315" stop-color="#4288c4"/><stop offset="0.385" stop-color="#428cc3"/><stop offset="0.455" stop-color="#418ec2"/><stop offset="0.545" stop-color="#418ec2"/><stop offset="0.615" stop-color="#428cc3"/><stop offset="0.685" stop-color="#4288c4"/><stop offset="0.745" stop-color="#4081c2"/><stop offset="0.795" stop-color="#4086c3"/><stop offset="0.835" stop-color="#4182c0"/><stop offset="0.865" stop-color="#417fbe"/><stop offset="0.885" stop-color="#417dbc"/><stop offset="0.905" stop-color="#417abb"/><stop offset="0.915" stop-color="#4179bb"/><stop offset="0.925" stop-color="#4077ba"/><stop offset="0.935" stop-color="#4075b9"/><stop offset="0.945" stop-color="#3f71b7"/><stop offset="0.955" stop-color="#3d6cb4"/><stop offset="0.965" stop-color="#3c65b1"/><stop offset="0.975" stop-color="#3c5aad"/><stop offset="0.985" stop-color="#4050a9"/><stop offset="0.995" stop-color="#444baa"/></linearGradient>
<linearGradient id="g45" x1="0" y1="0" x2="0" y2="1"><stop offset="0.005" stop-color="#4648a9"/><stop offset="0.015" stop-color="#424ea9"/><stop offset="0.025" stop-color="#3d58ac"/><stop offset="0.035" stop-color="#3c63b0"/><stop offset="0.045" stop-color="#3d6bb3"/><stop offset="0.055" stop-color="#3e70b6"/><stop offset="0.065" stop-color="#3f73b8"/><stop offset="0.075" stop-color="#4076b9"/><stop offset="0.085" stop-color="#4077ba"/><stop offset="0.095" stop-color="#4179bb"/><stop offset="0.115" stop-color="#417cbc"/><stop offset="0.135" stop-color="#417ebd"/><stop offset="0.165" stop-color="#4181c0"/><stop offset="0.205" stop-color="#4185c2"/><stop offset="0.255" stop-color="#4082c3"/><stop offset="0.315" stop-color="#4286c4"/><stop offset="0.385" stop-color="#428bc3"/><stop offset="0.455" stop-color="#428dc3"/><stop offset="0.545" stop-color="#428dc3"/><stop offset="0.615" stop-color="#428bc3"/><stop offset="0.685" stop-color="#4286c4"/><stop offset="0.745" stop-color="#4082c3"/><stop offset="0.795" stop-color="#4185c2"/><stop offset="0.835" stop-color="#4181c0"/><stop offset="0.865" stop-color="#417ebd"/><stop offset="0.885" stop-color="#417cbc"/><stop offset="0.905" stop-color="#4179bb"/><stop offset="0.915" stop-color="#4077ba"/><stop offset="0.925" stop-color="#4076b9"/><stop offset="0.935" stop-color="#3f73b8"/><stop offset="0.945" stop-color="#3e70b6"/><stop offset="0.955" stop-color="#3d6bb3"/><stop offset="0.965" stop-color="#3c63b0"/><stop offset="0.975" stop-color="#3d58ac"/><stop offset="0.985" stop-color="#424ea9"/><stop offset="0.995" stop-color="#4648a9"/></linearGradient>
<linearGradient id="g46" x1="0" y1="0" x2="0" y2="1"><stop offset="0.005" stop-color="#4646a8"/><stop offset="0.015" stop-color="#434daa"/><stop offset="0.025" stop-color="#3d57ab"/><stop offset="0.035" stop-color="#3c62b0"/><stop offset="0.045" stop-color="#3d6ab3"/><stop offset="0.055" stop-color="#3e6fb6"/><stop offset="0.065" stop-color="#3f72b7"/><stop offset="0.075" stop-color="#3f74b9"/><stop offset="0.085" stop-color="#4076ba"/><stop offset="0.095" stop-color="#4178ba"/><stop offset="0.115" stop-color="#417bbc"/><stop offset="0.135" stop-color="#417dbd"/><stop offset="0.165" stop-color="#4180bf"/><stop offset="0.205" stop-color="#4184c2"/><stop offset="0.255" stop-color="#4085c3"/><stop offset="0.315" stop-color="#4185c3"/><stop offset="0.385" stop-color="#428ac4"/><stop offset="0.455" stop-color="#428cc3"/><stop offset="0.545" stop-color="#428cc3"/><stop offset="0.615" stop-color="#428ac4"/><stop offset="0.685" stop-color="#4185c3"/><stop offset="0.745" stop-color="#4085c3"/><stop offset="0.795" stop-color="#4184c2"/><stop offset="0.835" stop-color="#4180bf"/><stop offset="0.865" stop-color="#417dbd"/><stop offset="0.885" stop-color="#417bbc"/><stop offset="0.905" stop-color="#4178ba"/><stop offset="0.915" stop-color="#4076ba"/><stop offset="0.925" stop-color="#3f74b9"/><stop offset="0.935" stop-color="#3f72b7"/><stop offset="0.945" stop-color="#3e6fb6"/><stop offset="0.955" stop-color="#3d6ab3"/><stop offset="0.965" stop-color="#3c62b0"/><stop offset="0.975" stop-color="#3d57ab"/><stop offset="0.985" stop-color="#434daa"/><stop offset="0.995" stop-color="#4646a8"/></linearGradient>
<linearGradient id="g47" x1="0" y1="0" x2="0" y2="1"><stop offset="0.005" stop-color="#4743a6"/><stop offset="0.015" stop-color="#444baa"/><stop offset="0.025" stop-color="#3e55ab"/><stop offset="0.035" stop-color="#3c61af"/><stop offset="0.045" stop-color="#3c69b2"/><stop offset="0.055" stop-color="#3e6eb5"/><stop offset="0.065" stop-color="#3f71b7"/><stop offset="0.075" stop-color="#3f73b8"/><stop offset="0.085" stop-color="#4075b9"/><stop offset="0.095" stop-color="#4077ba"/><stop offset="0.115" stop-color="#417abb"/><stop offset="0.135" stop-color="#417cbc"/><stop offset="0.165" stop-color="#417fbe"/><stop offset="0.205" stop-color="#4183c1"/><stop offset="0.255" stop-color="#4087c4"/><stop offset="0.315" stop-color="#4183c3"/><stop offset="0.385" stop-color="#4289c4"/><stop offset="0.455" stop-color="#428bc3"/><stop offset="0.545" stop-color="#428bc3"/><stop offset="0.615" stop-color="#4289c4"/><stop offset="0.685" stop-color="#4183c3"/><stop offset="0.745" stop-color="#4087c4"/><stop offset="0.795" stop-color="#4183c1"/><stop offset="0.835" stop-color="#417fbe"/><stop offset="0.865" stop-color="#417cbc"/><stop offset="0.885" stop-color="#417abb"/><stop offset="0.905" stop-color="#4077ba"/><stop offset="0.915" stop-color="#4075b9"/><stop offset="0.925" stop-color="#3f73b8"/><stop offset="0.935" stop-color="#3f71b7"/><stop offset="0.945" stop-color="#3e6eb5"/><stop offset="0.955" stop-color="#3c69b2"/><stop offset="0.965" stop-color="#3c61af"/><stop offset="0.975" stop-color="#3e55ab"/><stop offset="0.985" stop-color="#444baa"/><stop offset="0.995" stop-color="#4743a6"/></linearGradient>
<linearGradient id="g48" x1="0" y1="0" x2="0" y2="1"><stop offset="0.005" stop-color="#4841a5"/><stop offset="0.015" stop-color="#4549aa"/><stop offset="0.025" stop-color="#3e54aa"/><stop offset="0.035" stop-color="#3c5faf"/><stop offset="0.045" stop-color="#3c68b2"/><stop offset="0.055" stop-color="#3e6db5"/><stop offset="0.065" stop-color="#3e70b6"/><stop offset="0.075" stop-color="#3f72b8"/><stop offset="0.085" stop-color="#3f74b9"/><stop offset="0.095" stop-color="#4076b9"/><stop offset="0.115" stop-color="#4179bb"/><stop offset="0.135" stop-color="#417bbc"/><stop offset="0.165" stop-color="#417ebd"/><stop offset="0.205" stop-color="#4183c1"/><stop offset="0.255" stop-color="#4086c3"/><stop offset="0.315" stop-color="#4082c2"/><stop offset="0.385" stop-color="#4288c4"/><stop offset="0.455" stop-color="#428bc3"/><stop offset="0.545" stop-color="#428bc3"/><stop offset="0.615" stop-color="#4288c4"/><stop offset="0.685" stop-color="#4082c2"/><stop offset="0.745" stop-color="#4086c3"/><stop offset="0.795" stop-color="#4183c1"/><stop offset="0.835" stop-color="#417ebd"/><stop offset="0.865" stop-color="#417bbc"/><stop offset="0.885" stop-color="#4179bb"/><stop offset="0.905" stop-color="#4076b9"/><stop offset="0.915" stop-color="#3f74b9"/><stop offset="0.925" stop-color="#3f72b8"/><stop offset="0.935" stop-color="#3e70b6"/><stop offset="0.945" stop-color="#3e6db5"/><stop offset="0.955" stop-color="#3c68b2"/><stop offset="0.965" stop-color="#3c5faf"/><stop offset="0.975" stop-color="#3e54aa"/><stop offset="0.985" stop-color="#4549aa"/><stop offset="0.995" stop-color="#4841a5"/></linearGradient>
<linearGradient id="g49" x1="0" y1="0" x2="0" y2="1"><stop offset="0.005" stop-color="#493fa4"/><stop offset="0.015" stop-color="#4647a8"/><stop offset="0.025" stop-color="#3f52a9"/><stop offset="0.035" stop-color="#3c5eae"/><stop offset="0.045" stop-color="#3c67b2"/><stop offset="0.055" stop-color="#3d6cb4"/><stop offset="0.065" stop-color="#3e70b6"/><stop offset="0.075" stop-color="#3f72b7"/><stop offset="0.085" stop-color="#3f73b8"/><stop offset="0.095" stop-color="#4075b9"/><stop offset="0.115" stop-color="#4178ba"/><stop offset="0.135" stop-color="#417abc"/><stop offset="0.165" stop-color="#417ebd"/><stop offset="0.205" stop-color="#4182c0"/><stop offset="0.255" stop-color="#4086c3"/><stop offset="0.315" stop-color="#4081c2"/><stop offset="0.385" stop-color="#4287c4"/><stop offset="0.455" stop-color="#428ac4"/><stop offset="0.545" stop-color="#428ac4"/><stop offset="0.615" stop-color="#4287c4"/><stop offset="0.685" stop-color="#4081c2"/><stop offset="0.745" stop-color="#4086c3"/><stop offset="0.795" stop-color="#4182c0"/><stop offset="0.835" stop-color="#417ebd"/><stop offset="0.865" stop-color="#417abc"/><stop offset="0.885" stop-color="#4178ba"/><stop offset="0.905" stop-color="#4075b9"/><stop offset="0.915" stop-color="#3f73b8"/><stop offset="0.925" stop-color="#3f72b7"/><stop offset="0.935" stop-color="#3e70b6"/><stop offset="0.945" stop-color="#3d6cb4"/><stop offset="0.955" stop-color="#3c67b2"/><stop offset="0.965" stop-color="#3c5eae"/><stop offset="0.975" stop-color="#3f52a9"/><stop offset="0.985" stop-color="#4647a8"/><stop offset="0.995" stop-color="#493fa4"/></linearGradient>
<linearGradient id="g50" x1="0" y1="0" x2="0" y2="1"><stop offset="0.005" stop-color="#493ea2"/><stop offset="0.015" stop-color="#4745a7"/><stop offset="0.025" stop-color="#4051a9"/><stop offset="0.035" stop-color="#3c5dae"/><stop offset="0.045" stop-color="#3c66b1"/><stop offset="0.055" stop-color="#3d6bb4"/><stop offset="0.065" stop-color="#3e6fb5"/><stop offset="0.075" stop-color="#3f71b7"/><stop offset="0.085" stop-color="#3f72b8"/><stop offset="0.095" stop-color="#3f74b8"/><stop offset="0.115" stop-color="#4077ba"/><stop offset="0.135" stop-color="#417abb"/><stop offset="0.165" stop-color="#417dbd"/><stop offset="0.205" stop-color="#4181bf"/><stop offset="0.255" stop-color="#4085c3"/><stop offset="0.315" stop-color="#4081c2"/><stop offset="0.385" stop-color="#4286c4"/><stop offset="0.455" stop-color="#4289c4"/><stop offset="0.545" stop-color="#4289c4"/><stop offset="0.615" stop-color="#4286c4"/><stop offset="0.685" stop-color="#4081c2"/><stop offset="0.745" stop-color="#4085c3"/><stop offset="0.795" stop-color="#4181bf"/><stop offset="0.835" stop-color="#417dbd"/><stop offset="0.865" stop-color="#417abb"/><stop offset="0.885" stop-color="#4077ba"/><stop offset="0.905" stop-color="#3f74b8"/><stop offset="0.915" stop-color="#3f72b8"/><stop offset="0.925" stop-color="#3f71b7"/><stop offset="0.935" stop-color="#3e6fb5"/><stop offset="0.945" stop-color="#3d6bb4"/><stop offset="0.955" stop-color="#3c66b1"/><stop offset="0.965" stop-color="#3c5dae"/><stop offset="0.975" stop-color="#4051a9"/><stop offset="0.985" stop-color="#4745a7"/><stop offset="0.995" stop-color="#493ea2"/></linearGradient>
<linearGradient id="g51" x1="0" y1="0" x2="0" y2="1"><stop offset="0.005" stop-color="#493da0"/><stop offset="0.015" stop-color="#4744a6"/><stop offset="0.025" stop-color="#4150a9"/><stop offset="0.035" stop-color="#3c5cae"/><stop offset="0.045" stop-color="#3c65b1"/><stop offset="0.055" stop-color="#3d6ab3"/><stop offset="0.065" stop-color="#3e6eb5"/><stop offset="0.075" stop-color="#3e70b6"/><stop offset="0.085" stop-color="#3f72b7"/><stop offset="0.095" stop-color="#3f73b8"/><stop offset="0.115" stop-color="#4076ba"/><stop offset="0.135" stop-color="#4179bb"/><stop offset="0.165" stop-color="#417cbc"/><stop offset="0.205" stop-color="#4180bf"/><stop offset="0.255" stop-color="#4185c2"/><stop offset="0.315" stop-color="#4083c3"/><stop offset="0.385" stop-color="#4185c3"/><stop offset="0.455" stop-color="#4289c4"/><stop offset="0.545" stop-color="#4289c4"/><stop offset="0.615" stop-color="#4185c3"/><stop offset="0.685" stop-color="#4083c3"/><stop offset="0.745" stop-color="#4185c2"/><stop offset="0.795" stop-color="#4180bf"/><stop offset="0.835" stop-color="#417cbc"/><stop offset="0.865" stop-color="#4179bb"/><stop offset="0.885" stop-color="#4076ba"/><stop offset="0.905" stop-color="#3f73b8"/><stop offset="0.915" stop-color="#3f72b7"/><stop offset="0.925" stop-color="#3e70b6"/><stop offset="0.935" stop-color="#3e6eb5"/><stop offset="0.945" stop-color="#3d6ab3"/><stop offset="0.955" stop-color="#3c65b1"/><stop offset="0.965" stop-color="#3c5cae"/><stop offset="0.975" stop-color="#4150a9"/><stop offset="0.985" stop-color="#4744a6"/><stop offset="0.995" stop-color="#493da0"/></linearGradient>
<linearGradient id="g52" x1="0" y1="0" x2="0" y2="1"><stop offset="0.005" stop-color="#493c9e"/><stop offset="0.015" stop-color="#4842a5"/><stop offset="0.025" stop-color="#414fa9"/><stop offset="0.035" stop-color="#3c5aad"/><stop offset="0.045" stop-color="#3c64b1"/><stop offset="0.055" stop-color="#3d6ab3"/><stop offset="0.065" stop-color="#3e6db5"/><stop offset="0.075" stop-color="#3e70b6"/><stop offset="0.085" stop-color="#3f71b7"/><stop offset="0.095" stop-color="#3f72b8"/><stop offset="0.115" stop-color="#4075b9"/><stop offset="0.135" stop-color="#4178bb"/><stop offset="0.165" stop-color="#417cbc"/><stop offset="0.205" stop-color="#4180be"/><stop offset="0.255" stop-color="#4184c2"/><stop offset="0.315" stop-color="#4084c3"/><stop offset="0.385" stop-color="#4184c3"/><stop offset="0.455" stop-color="#4288c4"/><stop offset="0.545" stop-color="#4288c4"/><stop offset="0.615" stop-color="#4184c3"/><stop offset="0.685" stop-color="#4084c3"/><stop offset="0.745" stop-color="#4184c2"/><stop offset="0.795" stop-color="#4180be"/><stop offset="0.835" stop-color="#417cbc"/><stop offset="0.865" stop-color="#4178bb"/><stop offset="0.885" stop-color="#4075b9"/><stop offset="0.905" stop-color="#3f72b8"/><stop offset="0.915" stop-color="#3f71b7"/><stop offset="0.925" stop-color="#3e70b6"/><stop offset="0.935" stop-color="#3e6db5"/><stop offset="0.945" stop-color="#3d6ab3"/><stop offset="0.955" stop-color="#3c64b1"/><stop offset="0.965" stop-color="#3c5aad"/><stop offset="0.975" stop-color="#414fa9"/><stop offset="0.985" stop-color="#4842a5"/><stop offset="0.995" stop-color="#493c9e"/></linearGradient>
<linearGradient id="g53" x1="0" y1="0" x2="0" y2="1"><stop offset="0.005" stop-color="#493b9d"/><stop offset="0.015" stop-color="#4840a4"/><stop offset="0.025" stop-color="#424eaa"/><stop offset="0.035" stop-color="#3c5aad"/><stop offset="0.045" stop-color="#3c63b0"/><stop offset="0.055" stop-color="#3c69b2"/><stop offset="0.065" stop-color="#3e6db4"/><stop offset="0.075" stop-color="#3e6fb6"/><stop offset="0.085" stop-color="#3f71b7"/><stop offset="0.095" stop-color="#3f72b7"/><stop offset="0.115" stop-color="#4075b9"/><stop offset="0.135" stop-color="#4077ba"/><stop offset="0.165" stop-color="#417bbc"/><stop offset="0.205" stop-color="#417fbe"/><stop offset="0.255" stop-color="#4184c1"/><stop offset="0.315" stop-color="#4086c4"/><stop offset="0.385" stop-color="#4183c3"/><stop offset="0.455" stop-color="#4287c4"/><stop offset="0.545" stop-color="#4287c4"/><stop offset="0.615" stop-color="#4183c3"/><stop offset="0.685" stop-color="#4086c4"/><stop offset="0.745" stop-color="#4184c1"/><stop offset="0.795" stop-color="#417fbe"/><stop offset="0.835" stop-color="#417bbc"/><stop offset="0.865" stop-color="#4077ba"/><stop offset="0.885" stop-color="#4075b9"/><stop offset="0.905" stop-color="#3f72b7"/><stop offset="0.915" stop-color="#3f71b7"/><stop offset="0.925" stop-color="#3e6fb6"/><stop offset="0.935" stop-color="#3e6db4"/><stop offset="0.945" stop-color="#3c69b2"/><stop offset="0.955" stop-color="#3c63b0"/><stop offset="0.965" stop-color="#3c5aad"/><stop offset="0.975" stop-color="#424eaa"/><stop offset="0.985" stop-color="#4840a4"/><stop offset="0.995" stop-color="#493b9d"/></linearGradient>
<linearGradient id="g54" x1="0" y1="0" x2="0" y2="1"><stop offset="0.005" stop-color="#4a3a9b"/><stop offset="0.015" stop-color="#493fa4"/><stop offset="0.025" stop-color="#434daa"/><stop offset="0.035" stop-color="#3d59ac"/><stop offset="0.045" stop-color="#3c63b0"/><stop offset="0.055" stop-color="#3c68b2"/><stop offset="0.065" stop-color="#3d6cb4"/><stop offset="0.075" stop-color="#3e6eb5"/><stop offset="0.085" stop-color="#3e70b6"/><stop offset="0.095" stop-color="#3f71b7"/><stop offset="0.115" stop-color="#3f74b8"/><stop offset="0.135" stop-color="#4077ba"/><stop offset="0.165" stop-color="#417bbc"/><stop offset="0.205" stop-color="#417fbe"/><stop offset="0.255" stop-color="#4183c1"/><stop offset="0.315" stop-color="#4087c4"/><stop offset="0.385" stop-color="#4182c3"/><stop offset="0.455" stop-color="#4286c4"/><stop offset="0.545" stop-color="#4286c4"/><stop offset="0.615" stop-color="#4182c3"/><stop offset="0.685" stop-color="#4087c4"/><stop offset="0.745" stop-color="#4183c1"/><stop offset="0.795" stop-color="#417fbe"/><stop offset="0.835" stop-color="#417bbc"/><stop offset="0.865" stop-color="#4077ba"/><stop offset="0.885" stop-color="#3f74b8"/><stop offset="0.905" stop-color="#3f71b7"/><stop offset="0.915" stop-color="#3e70b6"/><stop offset="0.925" stop-color="#3e6eb5"/><stop offset="0.935" stop-color="#3d6cb4"/><stop offset="0.945" stop-color="#3c68b2"/><stop offset="0.955" stop-color="#3c63b0"/><stop offset="0.965" stop-color="#3d59ac"/><stop offset="0.975" stop-color="#434daa"/><stop offset="0.985" stop-color="#493fa4"/><stop offset="0.995" stop-color="#4a3a9b"/></linearGradient>
<linearGradient id="g55" x1="0" y1="0" x2="0" y2="1"><stop offset="0.005" stop-color="#4a3a9a"/><stop offset="0.015" stop-color="#493ea3"/><stop offset="0.025" stop-color="#434caa"/><stop offset="0.035" stop-color="#3d58ac"/><stop offset="0.045" stop-color="#3c62b0"/><stop offset="0.055" stop-color="#3c68b2"/><stop offset="0.065" stop-color="#3d6bb4"/><stop offset="0.075" stop-color="#3e6eb5"/><stop offset="0.085" stop-color="#3e6fb6"/><stop offset="0.095" stop-color="#3f71b7"/><stop offset="0.115" stop-color="#3f73b8"/><stop offset="0.135" stop-color="#4076ba"/><stop offset="0.165" stop-color="#417abb"/><stop offset="0.205" stop-color="#417ebd"/><stop offset="0.255" stop-color="#4183c1"/><stop offset="0.315" stop-color="#4087c4"/><stop offset="0.385" stop-color="#4082c2"/><stop offset="0.455" stop-color="#4186c3"/><stop offset="0.545" stop-color="#4186c3"/><stop offset="0.615" stop-color="#4082c2"/><stop offset="0.685" stop-color="#4087c4"/><stop offset="0.745" stop-color="#4183c1"/><stop offset="0.795" stop-color="#417ebd"/><stop offset="0.835" stop-color="#417abb"/><stop offset="0.865" stop-color="#4076ba"/><stop offset="0.885" stop-color="#3f73b8"/><stop offset="0.905" stop-color="#3f71b7"/><stop offset="0.915" stop-color="#3e6fb6"/><stop offset="0.925" stop-color="#3e6eb5"/><stop offset="0.935" stop-color="#3d6bb4"/><stop offset="0.945" stop-color="#3c68b2"/><stop offset="0.955" stop-color="#3c62b0"/><stop offset="0.965" stop-color="#3d58ac"/><stop offset="0.975" stop-color="#434caa"/><stop offset="0.985" stop-color="#493ea3"/><stop offset="0.995" stop-color="#4a3a9a"/></linearGradient>
<linearGradient id="g56" x1="0" y1="0" x2="0" y2="1"><stop offset="0.005" stop-color="#4a3998"/><stop offset="0.015" stop-color="#493da1"/><stop offset="0.025" stop-color="#444baa"/><stop offset="0.035" stop-color="#3d57ab"/><stop offset="0.045" stop-color="#3c61b0"/><stop offset="0.055" stop-color="#3c67b2"/><stop offset="0.065" stop-color="#3d6bb3"/><stop offset="0.075" stop-color="#3e6db5"/><stop offset="0.085" stop-color="#3e6fb6"/><stop offset="0.095" stop-color="#3e70b6"/><stop offset="0.115" stop-color="#3f73b8"/><stop offset="0.135" stop-color="#4076b9"/><stop offset="0.165" stop-color="#417abb"/><stop offset="0.205" stop-color="#417ebd"/><stop offset="0.255" stop-color="#4182c0"/><stop offset="0.315" stop-color="#4086c3"/><stop offset="0.385" stop-color="#4081c2"/><stop offset="0.455" stop-color="#4185c3"/><stop offset="0.545" stop-color="#4185c3"/><stop offset="0.615" stop-color="#4081c2"/><stop offset="0.685" stop-color="#4086c3"/><stop offset="0.745" stop-color="#4182c0"/><stop offset="0.795" stop-color="#417ebd"/><stop offset="0.835" stop-color="#417abb"/><stop offset="0.865" stop-color="#4076b9"/><stop offset="0.885" stop-color="#3f73b8"/><stop offset="0.905" stop-color="#3e70b6"/><stop offset="0.915" stop-color="#3e6fb6"/><stop offset="0.925" stop-color="#3e6db5"/><stop offset="0.935" stop-color="#3d6bb3"/><stop offset="0.945" stop-color="#3c67b2"/><stop offset="0.955" stop-color="#3c61b0"/><stop offset="0.965" stop-color="#3d57ab"/><stop offset="0.975" stop-color="#444baa"/><stop offset="0.985" stop-color="#493da1"/><stop offset="0.995" stop-color="#4a3998"/></linearGradient>
<linearGradient id="g57" x1="0" y1="0" x2="0" y2="1"><stop offset="0.005" stop-color="#4a3997"/><stop offset="0.015" stop-color="#493da0"/><stop offset="0.025" stop-color="#454aaa"/><stop offset="0.035" stop-color="#3d56ab"/><stop offset="0.045" stop-color="#3c60af"/><stop offset="0.055" stop-color="#3c66b1"/><stop offset="0.065" stop-color="#3d6ab3"/><stop offset="0.075" stop-color="#3e6db4"/><stop offset="0.085" stop-color="#3e6fb5"/><stop offset="0.095" stop-color="#3e70b6"/><stop offset="0.115" stop-color="#3f72b8"/><stop offset="0.135" stop-color="#4075b9"/><stop offset="0.165" stop-color="#4179bb"/><stop offset="0.205" stop-color="#417dbd"/><stop offset="0.255" stop-color="#4182c0"/><stop offset="0.315" stop-color="#4086c3"/><stop offset="0.385" stop-color="#4080c2"/><stop offset="0.455" stop-color="#4184c3"/><stop offset="0.545" stop-color="#4184c3"/><stop offset="0.615" stop-color="#4080c2"/><stop offset="0.685" stop-color="#4086c3"/><stop offset="0.745" stop-color="#4182c0"/><stop offset="0.795" stop-color="#417dbd"/><stop offset="0.835" stop-color="#4179bb"/><stop offset="0.865" stop-color="#4075b9"/><stop offset="0.885" stop-color="#3f72b8"/><stop offset="0.905" stop-color="#3e70b6"/><stop offset="0.915" stop-color="#3e6fb5"/><stop offset="0.925" stop-color="#3e6db4"/><stop offset="0.935" stop-color="#3d6ab3"/><stop offset="0.945" stop-color="#3c66b1"/><stop offset="0.955" stop-color="#3c60af"/><stop offset="0.965" stop-color="#3d56ab"/><stop offset="0.975" stop-color="#454aaa"/><stop offset="0.985" stop-color="#493da0"/><stop offset="0.995" stop-color="#4a3997"/></linearGradient>
<linearGradient id="g58" x1="0" y1="0" x2="0" y2="1"><stop offset="0.005" stop-color="#4a3896"/><stop offset="0.015" stop-color="#493c9f"/><stop offset="0.025" stop-color="#454aaa"/><stop offset="0.035" stop-color="#3e55ab"/><stop offset="0.045" stop-color="#3c60af"/><stop offset="0.055" stop-color="#3c66b1"/><stop offset="0.065" stop-color="#3d6ab3"/><stop offset="0.075" stop-color="#3d6cb4"/><stop offset="0.085" stop-color="#3e6eb5"/><stop offset="0.095" stop-color="#3e6fb6"/><stop offset="0.115" stop-color="#3f72b7"/><stop offset="0.135" stop-color="#4075b9"/><stop offset="0.165" stop-color="#4179bb"/><stop offset="0.205" stop-color="#417dbd"/><stop offset="0.255" stop-color="#4181c0"/><stop offset="0.315" stop-color="#4085c3"/><stop offset="0.385" stop-color="#4081c2"/><stop offset="0.455" stop-color="#4183c3"/><stop offset="0.545" stop-color="#4183c3"/><stop offset="0.615" stop-color="#4081c2"/><stop offset="0.685" stop-color="#4085c3"/><stop offset="0.745" stop-color="#4181c0"/><stop offset="0.795" stop-color="#417dbd"/><stop offset="0.835" stop-color="#4179bb"/><stop offset="0.865" stop-color="#4075b9"/><stop offset="0.885" stop-color="#3f72b7"/><stop offset="0.905" stop-color="#3e6fb6"/><stop offset="0.915" stop-color="#3e6eb5"/><stop offset="0.925" stop-color="#3d6cb4"/><stop offset="0.935" stop-color="#3d6ab3"/><stop offset="0.945" stop-color="#3c66b1"/><stop offset="0.955" stop-color="#3c60af"/><stop offset="0.965" stop-color="#3e55ab"/><stop offset="0.975" stop-color="#454aaa"/><stop offset="0.985" stop-color="#493c9f"/><stop offset="0.995" stop-color="#4a3896"/></linearGradient>
<linearGradient id="g59" x1="0" y1="0" x2="0" y2="1"><stop offset="0.005" stop-color="#4a3794"/><stop offset="0.015" stop-color="#493b9e"/><stop offset="0.025" stop-color="#4648a9"/><stop offset="0.035" stop-color="#3e55aa"/><stop offset="0.045" stop-color="#3c5faf"/><stop offset="0.055" stop-color="#3c65b1"/><stop offset="0.065" stop-color="#3c69b3"/><stop offset="0.075" stop-color="#3d6cb4"/><stop offset="0.085" stop-color="#3e6eb5"/><stop offset="0.095" stop-color="#3e6fb6"/><stop offset="0.115" stop-color="#3f71b7"/><stop offset="0.135" stop-color="#3f74b9"/><stop offset="0.165" stop-color="#4178bb"/><stop offset="0.205" stop-color="#417cbc"/><stop offset="0.255" stop-color="#4181bf"/><stop offset="0.315" stop-color="#4085c3"/><stop offset="0.385" stop-color="#4082c3"/><stop offset="0.455" stop-color="#4183c3"/><stop offset="0.545" stop-color="#4183c3"/><stop offset="0.615" stop-color="#4082c3"/><stop offset="0.685" stop-color="#4085c3"/><stop offset="0.745" stop-color="#4181bf"/><stop offset="0.795" stop-color="#417cbc"/><stop offset="0.835" stop-color="#4178bb"/><stop offset="0.865" stop-color="#3f74b9"/><stop offset="0.885" stop-color="#3f71b7"/><stop offset="0.905" stop-color="#3e6fb6"/><stop offset="0.915" stop-color="#3e6eb5"/><stop offset="0.925" stop-color="#3d6cb4"/><stop offset="0.935" stop-color="#3c69b3"/><stop offset="0.945" stop-color="#3c65b1"/><stop offset="0.955" stop-color="#3c5faf"/><stop offset="0.965" stop-color="#3e55aa"/><stop offset="0.975" stop-color="#4648a9"/><stop offset="0.985" stop-color="#493b9e"/><stop offset="0.995" stop-color="#4a3794"/></linearGradient>
<linearGradient id="g60" x1="0" y1="0" x2="0" y2="1"><stop offset="0.005" stop-color="#493693"/><stop offset="0.015" stop-color="#4a3b9c"/><stop offset="0.025" stop-color="#4647a8"/><stop offset="0.035" stop-color="#3e54aa"/><stop offset="0.045" stop-color="#3c5eaf"/><stop offset="0.055" stop-color="#3c65b1"/><stop offset="0.065" stop-color="#3c69b2"/><stop offset="0.075" stop-color="#3d6bb4"/><stop offset="0.085" stop-color="#3e6db4"/><stop offset="0.095" stop-color="#3e6eb5"/><stop offset="0.115" stop-color="#3f71b7"/><stop offset="0.135" stop-color="#3f73b8"/><stop offset="0.165" stop-color="#4178ba"/><stop offset="0.205" stop-color="#417cbc"/><stop offset="0.255" stop-color="#4181bf"/><stop offset="0.315" stop-color="#4185c2"/><stop offset="0.385" stop-color="#4083c3"/><stop offset="0.455" stop-color="#4182c3"/><stop offset="0.545" stop-color="#4182c3"/><stop offset="0.615" stop-color="#4083c3"/><stop offset="0.685" stop-color="#4185c2"/><stop offset="0.745" stop-color="#4181bf"/><stop offset="0.795" stop-color="#417cbc"/><stop offset="0.835" stop-color="#4178ba"/><stop offset="0.865" stop-color="#3f73b8"/><stop offset="0.885" stop-color="#3f71b7"/><stop offset="0.905" stop-color="#3e6eb5"/><stop offset="0.915" stop-color="#3e6db4"/><stop offset="0.925" stop-color="#3d6bb4"/><stop offset="0.935" stop-color="#3c69b2"/><stop offset="0.945" stop-color="#3c65b1"/><stop offset="0.955" stop-color="#3c5eaf"/><stop offset="0.965" stop-color="#3e54aa"/><stop offset="0.975" stop-color="#4647a8"/><stop offset="0.985" stop-color="#4a3b9c"/><stop offset="0.995" stop-color="#493693"/></linearGradient>
<linearGradient id="g61" x1="0" y1="0" x2="0" y2="1"><stop offset="0.005" stop-color="#493492"/><stop offset="0.015" stop-color="#4a3a9b"/><stop offset="0.025" stop-color="#4646a8"/><stop offset="0.035" stop-color="#3f53aa"/><stop offset="0.045" stop-color="#3c5dae"/><stop offset="0.055" stop-color="#3c64b1"/><stop offset="0.065" stop-color="#3c68b2"/><stop offset="0.075" stop-color="#3d6bb3"/><stop offset="0.085" stop-color="#3d6cb4"/><stop offset="0.095" stop-color="#3e6eb5"/><stop offset="0.115" stop-color="#3f71b7"/><stop offset="0.135" stop-color="#3f73b8"/><stop offset="0.165" stop-color="#4077ba"/><stop offset="0.205" stop-color="#417cbc"/><stop offset="0.255" stop-color="#4180bf"/><stop offset="0.315" stop-color="#4184c2"/><stop offset="0.385" stop-color="#4085c3"/><stop offset="0.455" stop-color="#4081c2"/><stop offset="0.545" stop-color="#4081c2"/><stop offset="0.615" stop-color="#4085c3"/><stop offset="0.685" stop-color="#4184c2"/><stop offset="0.745" stop-color="#4180bf"/><stop offset="0.795" stop-color="#417cbc"/><stop offset="0.835" stop-color="#4077ba"/><stop offset="0.865" stop-color="#3f73b8"/><stop offset="0.885" stop-color="#3f71b7"/><stop offset="0.905" stop-color="#3e6eb5"/><stop offset="0.915" stop-color="#3d6cb4"/><stop offset="0.925" stop-color="#3d6bb3"/><stop offset="0.935" stop-color="#3c68b2"/><stop offset="0.945" stop-color="#3c64b1"/><stop offset="0.955" stop-color="#3c5dae"/><stop offset="0.965" stop-color="#3f53aa"/><stop offset="0.975" stop-color="#4646a8"/><stop offset="0.985" stop-color="#4a3a9b"/><stop offset="0.995" stop-color="#493492"/></linearGradient>
<linearGradient id="g62" x1="0" y1="0" x2="0" y2="1"><stop offset="0.005" stop-color="#483391"/><stop offset="0.015" stop-color="#4a3a9a"/><stop offset="0.025" stop-color="#4745a7"/><stop offset="0.035" stop-color="#3f52a9"/><stop offset="0.045" stop-color="#3c5dae"/><stop offset="0.055" stop-color="#3c64b1"/><stop offset="0.065" stop-color="#3c68b2"/><stop offset="0.075" stop-color="#3d6ab3"/><stop offset="0.085" stop-color="#3d6cb4"/><stop offset="0.095" stop-color="#3e6eb5"/><stop offset="0.115" stop-color="#3e70b6"/><stop offset="0.135" stop-color="#3f73b8"/><stop offset="0.165" stop-color="#4077ba"/><stop offset="0.205" stop-color="#417bbc"/><stop offset="0.255" stop-color="#4180be"/><stop offset="0.315" stop-color="#4184c2"/><stop offset="0.385" stop-color="#4086c4"/><stop offset="0.455" stop-color="#4081c2"/><stop offset="0.545" stop-color="#4081c2"/><stop offset="0.615" stop-color="#4086c4"/><stop offset="0.685" stop-color="#4184c2"/><stop offset="0.745" stop-color="#4180be"/><stop offset="0.795" stop-color="#417bbc"/><stop offset="0.835" stop-color="#4077ba"/><stop offset="0.865" stop-color="#3f73b8"/><stop offset="0.885" stop-color="#3e70b6"/><stop offset="0.905" stop-color="#3e6eb5"/><stop offset="0.915" stop-color="#3d6cb4"/><stop offset="0.925" stop-color="#3d6ab3"/><stop offset="0.935" stop-color="#3c68b2"/><stop offset="0.945" stop-color="#3c64b1"/><stop offset="0.955" stop-color="#3c5dae"/><stop offset="0.965" stop-color="#3f52a9"/><stop offset="0.975" stop-color="#4745a7"/><stop offset="0.985" stop-color="#4a3a9a"/><stop offset="0.995" stop-color="#483391"/></linearGradient>
<linearGradient id="g63" x1="0" y1="0" x2="0" y2="1"><stop offset="0.005" stop-color="#48328f"/><stop offset="0.015" stop-color="#4a3999"/><stop offset="0.025" stop-color="#4744a7"/><stop offset="0.035" stop-color="#3f52a9"/><stop offset="0.045" stop-color="#3c5cae"/><stop offset="0.055" stop-color="#3c63b0"/><stop offset="0.065" stop-color="#3c67b2"/><stop offset="0.075" stop-color="#3d6ab3"/><stop offset="0.085" stop-color="#3d6bb4"/><stop offset="0.095" stop-color="#3e6db5"/><stop offset="0.115" stop-color="#3e70b6"/><stop offset="0.135" stop-color="#3f72b8"/><stop offset="0.165" stop-color="#4076ba"/><stop offset="0.205" stop-color="#417bbc"/><stop offset="0.255" stop-color="#417fbe"/><stop offset="0.315" stop-color="#4184c2"/><stop offset="0.385" stop-color="#4087c4"/><stop offset="0.455" stop-color="#4080c2"/><stop offset="0.545" stop-color="#4080c2"/><stop offset="0.615" stop-color="#4087c4"/><stop offset="0.685" stop-color="#4184c2"/><stop offset="0.745" stop-color="#417fbe"/><stop offset="0.795" stop-color="#417bbc"/><stop offset="0.835" stop-color="#4076ba"/><stop offset="0.865" stop-color="#3f72b8"/><stop offset="0.885" stop-color="#3e70b6"/><stop offset="0.905" stop-color="#3e6db5"/><stop offset="0.915" stop-color="#3d6bb4"/><stop offset="0.925" stop-color="#3d6ab3"/><stop offset="0.935" stop-color="#3c67b2"/><stop offset="0.945" stop-color="#3c63b0"/><stop offset="0.955" stop-color="#3c5cae"/><stop offset="0.965" stop-color="#3f52a9"/><stop offset="0.975" stop-color="#4744a7"/><stop offset="0.985" stop-color="#4a3999"/><stop offset="0.995" stop-color="#48328f"/></linearGradient>
<linearGradient id="g64" x1="0" y1="0" x2="0" y2="1"><stop offset="0.005" stop-color="#48328e"/><stop offset="0.015" stop-color="#4a3998"/><stop offset="0.025" stop-color="#4743a6"/><stop offset="0.035" stop-color="#4051a9"/><stop offset="0.045" stop-color="#3c5cae"/><stop offset="0.055" stop-color="#3c63b0"/><stop offset="0.065" stop-color="#3c67b2"/><stop offset="0.075" stop-color="#3c69b3"/><stop offset="0.085" stop-color="#3d6bb4"/><stop offset="0.095" stop-color="#3e6db4"/><stop offset="0.115" stop-color="#3e6fb6"/><stop offset="0.135" stop-color="#3f72b7"/><stop offset="0.165" stop-color="#4076b9"/><stop offset="0.205" stop-color="#417abc"/><stop offset="0.255" stop-color="#417fbe"/><stop offset="0.315" stop-color="#4184c1"/><stop offset="0.385" stop-color="#4087c4"/><stop offset="0.455" stop-color="#4080c2"/><stop offset="0.545" stop-color="#4080c2"/><stop offset="0.615" stop-color="#4087c4"/><stop offset="0.685" stop-color="#4184c1"/><stop offset="0.745" stop-color="#417fbe"/><stop offset="0.795" stop-color="#417abc"/><stop offset="0.835" stop-color="#4076b9"/><stop offset="0.865" stop-color="#3f72b7"/><stop offset="0.885" stop-color="#3e6fb6"/><stop offset="0.905" stop-color="#3e6db4"/><stop offset="0.915" stop-color="#3d6bb4"/><stop offset="0.925" stop-color="#3c69b3"/><stop offset="0.935" stop-color="#3c67b2"/><stop offset="0.945" stop-color="#3c63b0"/><stop offset="0.955" stop-color="#3c5cae"/><stop offset="0.965" stop-color="#4051a9"/><stop offset="0.975" stop-color="#4743a6"/><stop offset="0.985" stop-color="#4a3998"/><stop offset="0.995" stop-color="#48328e"/></linearGradient>
<linearGradient id="g65" x1="0" y1="0" x2="0" y2="1"><stop offset="0.005" stop-color="#48318e"/><stop offset="0.015" stop-color="#4a3897"/><stop offset="0.025" stop-color="#4842a6"/><stop offset="0.035" stop-color="#4051a9"/><stop offset="0.045" stop-color="#3c5bad"/><stop offset="0.055" stop-color="#3c63b0"/><stop offset="0.065" stop-color="#3c66b1"/><stop offset="0.075" stop-color="#3c69b2"/><stop offset="0.085" stop-color="#3d6bb3"/><stop offset="0.095" stop-color="#3d6cb4"/><stop offset="0.115" stop-color="#3e6fb6"/><stop offset="0.135" stop-color="#3f72b7"/><stop offset="0.165" stop-color="#4075b9"/><stop offset="0.205" stop-color="#417abb"/><stop offset="0.255" stop-color="#417fbe"/><stop offset="0.315" stop-color="#4183c1"/><stop offset="0.385" stop-color="#4087c4"/><stop offset="0.455" stop-color="#4081c2"/><stop offset="0.545" stop-color="#4081c2"/><stop offset="0.615" stop-color="#4087c4"/><stop offset="0.685" stop-color="#4183c1"/><stop offset="0.745" stop-color="#417fbe"/><stop offset="0.795" stop-color="#417abb"/><stop offset="0.835" stop-color="#4075b9"/><stop offset="0.865" stop-color="#3f72b7"/><stop offset="0.885" stop-color="#3e6fb6"/><stop offset="0.905" stop-color="#3d6cb4"/><stop offset="0.915" stop-color="#3d6bb3"/><stop offset="0.925" stop-color="#3c69b2"/><stop offset="0.935" stop-color="#3c66b1"/><stop offset="0.945" stop-color="#3c63b0"/><stop offset="0.955" stop-color="#3c5bad"/><stop offset="0.965" stop-color="#4051a9"/><stop offset="0.975" stop-color="#4842a6"/><stop offset="0.985" stop-color="#4a3897"/><stop offset="0.995" stop-color="#48318e"/></linearGradient>
<linearGradient id="g66" x1="0" y1="0" x2="0" y2="1"><stop offset="0.005" stop-color="#47308d"/><stop offset="0.015" stop-color="#4a3896"/><stop offset="0.025" stop-color="#4842a5"/><stop offset="0.035" stop-color="#4050a9"/><stop offset="0.045" stop-color="#3c5bad"/><stop offset="0.055" stop-color="#3c62b0"/><stop offset="0.065" stop-color="#3c66b1"/><stop offset="0.075" stop-color="#3c68b2"/><stop offset="0.085" stop-color="#3d6ab3"/><stop offset="0.095" stop-color="#3d6cb4"/><stop offset="0.115" stop-color="#3e6fb6"/><stop offset="0.135" stop-color="#3f71b7"/><stop offset="0.165" stop-color="#4075b9"/><stop offset="0.205" stop-color="#417abb"/><stop offset="0.255" stop-color="#417fbd"/><stop offset="0.315" stop-color="#4183c1"/><stop offset="0.385" stop-color="#4086c4"/><stop offset="0.455" stop-color="#4082c3"/><stop offset="0.545" stop-color="#4082c3"/><stop offset="0.615" stop-color="#4086c4"/><stop offset="0.685" stop-color="#4183c1"/><stop offset="0.745" stop-color="#417fbd"/><stop offset="0.795" stop-color="#417abb"/><stop offset="0.835" stop-color="#4075b9"/><stop offset="0.865" stop-color="#3f71b7"/><stop offset="0.885" stop-color="#3e6fb6"/><stop offset="0.905" stop-color="#3d6cb4"/><stop offset="0.915" stop-color="#3d6ab3"/><stop offset="0.925" stop-color="#3c68b2"/><stop offset="0.935" stop-color="#3c66b1"/><stop offset="0.945" stop-color="#3c62b0"/><stop offset="0.955" stop-color="#3c5bad"/><stop offset="0.965" stop-color="#4050a9"/><stop offset="0.975" stop-color="#4842a5"/><stop offset="0.985" stop-color="#4a3896"/><stop offset="0.995" stop-color="#47308d"/></linearGradient>
<linearGradient id="g67" x1="0" y1="0" x2="0" y2="1"><stop offset="0.005" stop-color="#472f8c"/><stop offset="0.015" stop-color="#4a3895"/><stop offset="0.025" stop-color="#4841a5"/><stop offset="0.035" stop-color="#4150a9"/><stop offset="0.045" stop-color="#3c5aad"/><stop offset="0.055" stop-color="#3c62b0"/><stop offset="0.065" stop-color="#3c66b1"/><stop offset="0.075" stop-color="#3c68b2"/><stop offset="0.085" stop-color="#3d6ab3"/><stop offset="0.095" stop-color="#3d6cb4"/><stop offset="0.115" stop-color="#3e6fb5"/><stop offset="0.135" stop-color="#3f71b7"/><stop offset="0.165" stop-color="#4075b9"/><stop offset="0.205" stop-color="#417abb"/><stop offset="0.255" stop-color="#417ebd"/><stop offset="0.315" stop-color="#4183c1"/><stop offset="0.385" stop-color="#4086c3"/><stop offset="0.455" stop-color="#4083c3"/><stop offset="0.545" stop-color="#4083c3"/><stop offset="0.615" stop-color="#4086c3"/><stop offset="0.685" stop-color="#4183c1"/><stop offset="0.745" stop-color="#417ebd"/><stop offset="0.795" stop-color="#417abb"/><stop offset="0.835" stop-color="#4075b9"/><stop offset="0.865" stop-color="#3f71b7"/><stop offset="0.885" stop-color="#3e6fb5"/><stop offset="0.905" stop-color="#3d6cb4"/><stop offset="0.915" stop-color="#3d6ab3"/><stop offset="0.925" stop-color="#3c68b2"/><stop offset="0.935" stop-color="#3c66b1"/><stop offset="0.945" stop-color="#3c62b0"/><stop offset="0.955" stop-color="#3c5aad"/><stop offset="0.965" stop-color="#4150a9"/><stop offset="0.975" stop-color="#4841a5"/><stop offset="0.985" stop-color="#4a3895"/><stop offset="0.995" stop-color="#472f8c"/></linearGradient>
<linearGradient id="g68" x1="0" y1="0" x2="0" y2="1"><stop offset="0.005" stop-color="#472f8b"/><stop offset="0.015" stop-color="#4a3795"/><stop offset="0.025" stop-color="#4840a4"/><stop offset="0.035" stop-color="#414fa9"/><stop offset="0.045" stop-color="#3c5aad"/><stop offset="0.055" stop-color="#3c61b0"/><stop offset="0.065" stop-color="#3c65b1"/><stop offset="0.075" stop-color="#3c68b2"/><stop offset="0.085" stop-color="#3d6ab3"/><stop offset="0.095" stop-color="#3d6bb4"/><stop offset="0.115" stop-color="#3e6eb5"/><stop offset="0.135" stop-color="#3f71b7"/><stop offset="0.165" stop-color="#3f74b9"/><stop offset="0.205" stop-color="#4179bb"/><stop offset="0.255" stop-color="#417ebd"/><stop offset="0.315" stop-color="#4183c1"/><stop offset="0.385" stop-color="#4086c3"/><stop offset="0.455" stop-color="#4083c3"/><stop offset="0.545" stop-color="#4083c3"/><stop offset="0.615" stop-color="#4086c3"/><stop offset="0.685" stop-color="#4183c1"/><stop offset="0.745" stop-color="#417ebd"/><stop offset="0.795" stop-color="#4179bb"/><stop offset="0.835" stop-color="#3f74b9"/><stop offset="0.865" stop-color="#3f71b7"/><stop offset="0.885" stop-color="#3e6eb5"/><stop offset="0.905" stop-color="#3d6bb4"/><stop offset="0.915" stop-color="#3d6ab3"/><stop offset="0.925" stop-color="#3c68b2"/><stop offset="0.935" stop-color="#3c65b1"/><stop offset="0.945" stop-color="#3c61b0"/><stop offset="0.955" stop-color="#3c5aad"/><stop offset="0.965" stop-color="#414fa9"/><stop offset="0.975" stop-color="#4840a4"/><stop offset="0.985" stop-color="#4a3795"/><stop offset="0.995" stop-color="#472f8b"/></linearGradient>
<linearGradient id="g69" x1="0" y1="0" x2="0" y2="1"><stop offset="0.005" stop-color="#472e8a"/><stop offset="0.015" stop-color="#493694"/><stop offset="0.025" stop-color="#4840a4"/><stop offset="0.035" stop-color="#414fa9"/><stop offset="0.045" stop-color="#3c59ad"/><stop offset="0.055" stop-color="#3c61b0"/><stop offset="0.065" stop-color="#3c65b1"/><stop offset="0.075" stop-color="#3c68b2"/><stop offset="0.085" stop-color="#3c69b3"/><stop offset="0.095" stop-color="#3d6bb4"/><stop offset="0.115" stop-color="#3e6eb5"/><stop offset="0.135" stop-color="#3f71b7"/><stop offset="0.165" stop-color="#3f74b9"/><stop offset="0.205" stop-color="#4179bb"/><stop offset="0.255" stop-color="#417ebd"/><stop offset="0.315" stop-color="#4182c1"/><stop offset="0.385" stop-color="#4086c3"/><stop offset="0.455" stop-color="#4084c3"/><stop offset="0.545" stop-color="#4084c3"/><stop offset="0.615" stop-color="#4086c3"/><stop offset="0.685" stop-color="#4182c1"/><stop offset="0.745" stop-color="#417ebd"/><stop offset="0.795" stop-color="#4179bb"/><stop offset="0.835" stop-color="#3f74b9"/><stop offset="0.865" stop-color="#3f71b7"/><stop offset="0.885" stop-color="#3e6eb5"/><stop offset="0.905" stop-color="#3d6bb4"/><stop offset="0.915" stop-color="#3c69b3"/><stop offset="0.925" stop-color="#3c68b2"/><stop offset="0.935" stop-color="#3c65b1"/><stop offset="0.945" stop-color="#3c61b0"/><stop offset="0.955" stop-color="#3c59ad"/><stop offset="0.965" stop-color="#414fa9"/><stop offset="0.975" stop-color="#4840a4"/><stop offset="0.985" stop-color="#493694"/><stop offset="0.995" stop-color="#472e8a"/></linearGradient>
<linearGradient id="g70" x1="0" y1="0" x2="0" y2="1"><stop offset="0.005" stop-color="#462d8a"/><stop offset="0.015" stop-color="#493693"/><stop offset="0.025" stop-color="#493fa4"/><stop offset="0.035" stop-color="#414fa9"/><stop offset="0.045" stop-color="#3c59ad"/><stop offset="0.055" stop-color="#3c61af"/><stop offset="0.065" stop-color="#3c65b1"/><stop offset="0.075" stop-color="#3c67b2"/><stop offset="0.085" stop-color="#3c69b3"/><stop offset="0.095" stop-color="#3d6bb3"/><stop offset="0.115" stop-color="#3e6eb5"/><stop offset="0.135" stop-color="#3e70b6"/><stop offset="0.165" stop-color="#3f74b8"/><stop offset="0.205" stop-color="#4179bb"/><stop offset="0.255" stop-color="#417ebd"/><stop offset="0.315" stop-color="#4182c0"/><stop offset="0.385" stop-color="#4086c3"/><stop offset="0.455" stop-color="#4085c3"/><stop offset="0.545" stop-color="#4085c3"/><stop offset="0.615" stop-color="#4086c3"/><stop offset="0.685" stop-color="#4182c0"/><stop offset="0.745" stop-color="#417ebd"/><stop offset="0.795" stop-color="#4179bb"/><stop offset="0.835" stop-color="#3f74b8"/><stop offset="0.865" stop-color="#3e70b6"/><stop offset="0.885" stop-color="#3e6eb5"/><stop offset="0.905" stop-color="#3d6bb3"/><stop offset="0.915" stop-color="#3c69b3"/><stop offset="0.925" stop-color="#3c67b2"/><stop offset="0.935" stop-color="#3c65b1"/><stop offset="0.945" stop-color="#3c61af"/><stop offset="0.955" stop-color="#3c59ad"/><stop offset="0.965" stop-color="#414fa9"/><stop offset="0.975" stop-color="#493fa4"/><stop offset="0.985" stop-color="#493693"/><stop offset="0.995" stop-color="#462d8a"/></linearGradient>
<linearGradient id="g71" x1="0" y1="0" x2="0" y2="1"><stop offset="0.005" stop-color="#462d89"/><stop offset="0.015" stop-color="#493593"/><stop offset="0.025" stop-color="#493fa3"/><stop offset="0.035" stop-color="#424ea9"/><stop offset="0.045" stop-color="#3c59ac"/><stop offset="0.055" stop-color="#3c60af"/><stop offset="0.065" stop-color="#3c64b1"/><stop offset="0.075" stop-color="#3c67b2"/><stop offset="0.085" stop-color="#3c69b2"/><stop offset="0.095" stop-color="#3d6bb3"/><stop offset="0.115" stop-color="#3e6eb5"/><stop offset="0.135" stop-color="#3e70b6"/><stop offset="0.165" stop-color="#3f74b8"/><stop offset="0.205" stop-color="#4179bb"/><stop offset="0.255" stop-color="#417dbd"/><stop offset="0.315" stop-color="#4182c0"/><stop offset="0.385" stop-color="#4085c3"/><stop offset="0.455" stop-color="#4085c3"/><stop offset="0.545" stop-color="#4085c3"/><stop offset="0.615" stop-color="#4085c3"/><stop offset="0.685" stop-color="#4182c0"/><stop offset="0.745" stop-color="#417dbd"/><stop offset="0.795" stop-color="#4179bb"/><stop offset="0.835" stop-color="#3f74b8"/><stop offset="0.865" stop-color="#3e70b6"/><stop offset="0.885" stop-color="#3e6eb5"/><stop offset="0.905" stop-color="#3d6bb3"/><stop offset="0.915" stop-color="#3c69b2"/><stop offset="0.925" stop-color="#3c67b2"/><stop offset="0.935" stop-color="#3c64b1"/><stop offset="0.945" stop-color="#3c60af"/><stop offset="0.955" stop-color="#3c59ac"/><stop offset="0.965" stop-color="#424ea9"/><stop offset="0.975" stop-color="#493fa3"/><stop offset="0.985" stop-color="#493593"/><stop offset="0.995" stop-color="#462d89"/></linearGradient>
<linearGradient id="g72" x1="0" y1="0" x2="0" y2="1"><stop offset="0.005" stop-color="#462c88"/><stop offset="0.015" stop-color="#493592"/><stop offset="0.025" stop-color="#493ea3"/><stop offset="0.035" stop-color="#424eaa"/><stop offset="0.045" stop-color="#3d58ac"/><stop offset="0.055" stop-color="#3c60af"/><stop offset="0.065" stop-color="#3c64b1"/><stop offset="0.075" stop-color="#3c67b2"/><stop offset="0.085" stop-color="#3c69b2"/><stop offset="0.095" stop-color="#3d6ab3"/><stop offset="0.115" stop-color="#3e6db5"/><stop offset="0.135" stop-color="#3e70b6"/><stop offset="0.165" stop-color="#3f73b8"/><stop offset="0.205" stop-color="#4178bb"/><stop offset="0.255" stop-color="#417dbd"/><stop offset="0.315" stop-color="#4182c0"/><stop offset="0.385" stop-color="#4085c3"/><stop offset="0.455" stop-color="#4086c4"/><stop offset="0.545" stop-color="#4086c4"/><stop offset="0.615" stop-color="#4085c3"/><stop offset="0.685" stop-color="#4182c0"/><stop offset="0.745" stop-color="#417dbd"/><stop offset="0.795" stop-color="#4178bb"/><stop offset="0.835" stop-color="#3f73b8"/><stop offset="0.865" stop-color="#3e70b6"/><stop offset="0.885" stop-color="#3e6db5"/><stop offset="0.905" stop-color="#3d6ab3"/><stop offset="0.915" stop-color="#3c69b2"/><stop offset="0.925" stop-color="#3c67b2"/><stop offset="0.935" stop-color="#3c64b1"/><stop offset="0.945" stop-color="#3c60af"/><stop offset="0.955" stop-color="#3d58ac"/><stop offset="0.965" stop-color="#424eaa"/><stop offset="0.975" stop-color="#493ea3"/><stop offset="0.985" stop-color="#493592"/><stop offset="0.995" stop-color="#462c88"/></linearGradient>
<linearGradient id="g73" x1="0" y1="0" x2="0" y2="1"><stop offset="0.005" stop-color="#462c88"/><stop offset="0.015" stop-color="#493491"/><stop offset="0.025" stop-color="#493ea3"/><stop offset="0.035" stop-color="#424eaa"/><stop offset="0.045" stop-color="#3d58ac"/><stop offset="0.055" stop-color="#3c60af"/><stop offset="0.065" stop-color="#3c64b1"/><stop offset="0.075" stop-color="#3c67b2"/><stop offset="0.085" stop-color="#3c68b2"/><stop offset="0.095" stop-color="#3d6ab3"/><stop offset="0.115" stop-color="#3e6db5"/><stop offset="0.135" stop-color="#3e70b6"/><stop offset="0.165" stop-color="#3f73b8"/><stop offset="0.205" stop-color="#4178bb"/><stop offset="0.255" stop-color="#417dbd"/><stop offset="0.315" stop-color="#4182c0"/><stop offset="0.385" stop-color="#4085c3"/><stop offset="0.455" stop-color="#4086c4"/><stop offset="0.545" stop-color="#4086c4"/><stop offset="0.615" stop-color="#4085c3"/><stop offset="0.685" stop-color="#4182c0"/><stop offset="0.745" stop-color="#417dbd"/><stop offset="0.795" stop-color="#4178bb"/><stop offset="0.835" stop-color="#3f73b8"/><stop offset="0.865" stop-color="#3e70b6"/><stop offset="0.885" stop-color="#3e6db5"/><stop offset="0.905" stop-color="#3d6ab3"/><stop offset="0.915" stop-color="#3c68b2"/><stop offset="0.925" stop-color="#3c67b2"/><stop offset="0.935" stop-color="#3c64b1"/><stop offset="0.945" stop-color="#3c60af"/><stop offset="0.955" stop-color="#3d58ac"/><stop offset="0.965" stop-color="#424eaa"/><stop offset="0.975" stop-color="#493ea3"/><stop offset="0.985" stop-color="#493491"/><stop offset="0.995" stop-color="#462c88"/></linearGradient>
<linearGradient id="g74" x1="0" y1="0" x2="0" y2="1"><stop offset="0.005" stop-color="#462c88"/><stop offset="0.015" stop-color="#493491"/><stop offset="0.025" stop-color="#493ea2"/><stop offset="0.035" stop-color="#424daa"/><stop offset="0.045" stop-color="#3d58ac"/><stop offset="0.055" stop-color="#3c5faf"/><stop offset="0.065" stop-color="#3c64b1"/><stop offset="0.075" stop-color="#3c66b1"/><stop offset="0.085" stop-color="#3c68b2"/><stop offset="0.095" stop-color="#3d6ab3"/><stop offset="0.115" stop-color="#3e6db4"/><stop offset="0.135" stop-color="#3e70b6"/><stop offset="0.165" stop-color="#3f73b8"/><stop offset="0.205" stop-color="#4178ba"/><stop offset="0.255" stop-color="#417dbd"/><stop offset="0.315" stop-color="#4181c0"/><stop offset="0.385" stop-color="#4085c3"/><stop offset="0.455" stop-color="#4087c4"/><stop offset="0.545" stop-color="#4087c4"/><stop offset="0.615" stop-color="#4085c3"/><stop offset="0.685" stop-color="#4181c0"/><stop offset="0.745" stop-color="#417dbd"/><stop offset="0.795" stop-color="#4178ba"/><stop offset="0.835" stop-color="#3f73b8"/><stop offset="0.865" stop-color="#3e70b6"/><stop offset="0.885" stop-color="#3e6db4"/><stop offset="0.905" stop-color="#3d6ab3"/><stop offset="0.915" stop-color="#3c68b2"/><stop offset="0.925" stop-color="#3c66b1"/><stop offset="0.935" stop-color="#3c64b1"/><stop offset="0.945" stop-color="#3c5faf"/><stop offset="0.955" stop-color="#3d58ac"/><stop offset="0.965" stop-color="#424daa"/><stop offset="0.975" stop-color="#493ea2"/><stop offset="0.985" stop-color="#493491"/><stop offset="0.995" stop-color="#462c88"/></linearGradient>
<linearGradient id="g75" x1="0" y1="0" x2="0" y2="1"><stop offset="0.005" stop-color="#462c88"/><stop offset="0.015" stop-color="#483390"/><stop offset="0.025" stop-color="#493da2"/><stop offset="0.035" stop-color="#434daa"/><stop offset="0.045" stop-color="#3d57ac"/><stop offset="0.055" stop-color="#3c5faf"/><stop offset="0.065" stop-color="#3c64b1"/><stop offset="0.075" stop-color="#3c66b1"/><stop offset="0.085" stop-color="#3c68b2"/><stop offset="0.095" stop-color="#3d6ab3"/><stop offset="0.115" stop-color="#3e6db4"/><stop offset="0.135" stop-color="#3e6fb6"/><stop offset="0.165" stop-color="#3f73b8"/><stop offset="0.205" stop-color="#4178ba"/><stop offset="0.255" stop-color="#417dbc"/><stop offset="0.315" stop-color="#4181c0"/><stop offset="0.385" stop-color="#4185c2"/><stop offset="0.455" stop-color="#4087c4"/><stop offset="0.545" stop-color="#4087c4"/><stop offset="0.615" stop-color="#4185c2"/><stop offset="0.685" stop-color="#4181c0"/><stop offset="0.745" stop-color="#417dbc"/><stop offset="0.795" stop-color="#4178ba"/><stop offset="0.835" stop-color="#3f73b8"/><stop offset="0.865" stop-color="#3e6fb6"/><stop offset="0.885" stop-color="#3e6db4"/><stop offset="0.905" stop-color="#3d6ab3"/><stop offset="0.915" stop-color="#3c68b2"/><stop offset="0.925" stop-color="#3c66b1"/><stop offset="0.935" stop-color="#3c64b1"/><stop offset="0.945" stop-color="#3c5faf"/><stop offset="0.955" stop-color="#3d57ac"/><stop offset="0.965" stop-color="#434daa"/><stop offset="0.975" stop-color="#493da2"/><stop offset="0.985" stop-color="#483390"/><stop offset="0.995" stop-color="#462c88"/></linearGradient>
<linearGradient id="g76" x1="0" y1="0" x2="0" y2="1"><stop offset="0.005" stop-color="#462c88"/><stop offset="0.015" stop-color="#483390"/><stop offset="0.025" stop-color="#493da1"/><stop offset="0.035" stop-color="#434daa"/><stop offset="0.045" stop-color="#3d57ac"/><stop offset="0.055" stop-color="#3c5faf"/><stop offset="0.065" stop-color="#3c63b0"/><stop offset="0.075" stop-color="#3c66b1"/><stop offset="0.085" stop-color="#3c68b2"/><stop offset="0.095" stop-color="#3d6ab3"/><stop offset="0.115" stop-color="#3e6db4"/><stop offset="0.135" stop-color="#3e6fb6"/><stop offset="0.165" stop-color="#3f73b8"/><stop offset="0.205" stop-color="#4178ba"/><stop offset="0.255" stop-color="#417cbc"/><stop offset="0.315" stop-color="#4181c0"/><stop offset="0.385" stop-color="#4185c2"/><stop offset="0.455" stop-color="#4087c4"/><stop offset="0.545" stop-color="#4087c4"/><stop offset="0.615" stop-color="#4185c2"/><stop offset="0.685" stop-color="#4181c0"/><stop offset="0.745" stop-color="#417cbc"/><stop offset="0.795" stop-color="#4178ba"/><stop offset="0.835" stop-color="#3f73b8"/><stop offset="0.865" stop-color="#3e6fb6"/><stop offset="0.885" stop-color="#3e6db4"/><stop offset="0.905" stop-color="#3d6ab3"/><stop offset="0.915" stop-color="#3c68b2"/><stop offset="0.925" stop-color="#3c66b1"/><stop offset="0.935" stop-color="#3c63b0"/><stop offset="0.945" stop-color="#3c5faf"/><stop offset="0.955" stop-color="#3d57ac"/><stop offset="0.965" stop-color="#434daa"/><stop offset="0.975" stop-color="#493da1"/><stop offset="0.985" stop-color="#483390"/><stop offset="0.995" stop-color="#462c88"/></linearGradient>
<linearGradient id="g77" x1="0" y1="0" x2="0" y2="1"><stop offset="0.005" stop-color="#462c88"/><stop offset="0.015" stop-color="#483390"/><stop offset="0.025" stop-color="#493da1"/><stop offset="0.035" stop-color="#434daa"/><stop offset="0.045" stop-color="#3d57ac"/><stop offset="0.055" stop-color="#3c5faf"/><stop offset="0.065" stop-color="#3c63b0"/><stop offset="0.075" stop-color="#3c66b1"/><stop offset="0.085" stop-color="#3c68b2"/><stop offset="0.095" stop-color="#3c69b3"/><stop offset="0.115" stop-color="#3d6cb4"/><stop offset="0.135" stop-color="#3e6fb6"/><stop offset="0.165" stop-color="#3f73b8"/><stop offset="0.205" stop-color="#4077ba"/><stop offset="0.255" stop-color="#417cbc"/><stop offset="0.315" stop-color="#4181bf"/><stop offset="0.385" stop-color="#4185c2"/><stop offset="0.455" stop-color="#4087c4"/><stop offset="0.545" stop-color="#4087c4"/><stop offset="0.615" stop-color="#4185c2"/><stop offset="0.685" stop-color="#4181bf"/><stop offset="0.745" stop-color="#417cbc"/><stop offset="0.795" stop-color="#4077ba"/><stop offset="0.835" stop-color="#3f73b8"/><stop offset="0.865" stop-color="#3e6fb6"/><stop offset="0.885" stop-color="#3d6cb4"/><stop offset="0.905" stop-color="#3c69b3"/><stop offset="0.915" stop-color="#3c68b2"/><stop offset="0.925" stop-color="#3c66b1"/><stop offset="0.935" stop-color="#3c63b0"/><stop offset="0.945" stop-color="#3c5faf"/><stop offset="0.955" stop-color="#3d57ac"/><stop offset="0.965" stop-color="#434daa"/><stop offset="0.975" stop-color="#493da1"/><stop offset="0.985" stop-color="#483390"/><stop offset="0.995" stop-color="#462c88"/></linearGradient>
<linearGradient id="g78" x1="0" y1="0" x2="0" y2="1"><stop offset="0.005" stop-color="#462c88"/><stop offset="0.015" stop-color="#48328f"/><stop offset="0.025" stop-color="#493da1"/><stop offset="0.035" stop-color="#434caa"/><stop offset="0.045" stop-color="#3d57ab"/><stop offset="0.055" stop-color="#3c5eaf"/><stop offset="0.065" stop-color="#3c63b0"/><stop offset="0.075" stop-color="#3c66b1"/><stop offset="0.085" stop-color="#3c68b2"/><stop offset="0.095" stop-color="#3c69b3"/><stop offset="0.115" stop-color="#3d6cb4"/><stop offset="0.135" stop-color="#3e6fb6"/><stop offset="0.165" stop-color="#3f72b8"/><stop offset="0.205" stop-color="#4077ba"/><stop offset="0.255" stop-color="#417cbc"/><stop offset="0.315" stop-color="#4181bf"/><stop offset="0.385" stop-color="#4185c2"/><stop offset="0.455" stop-color="#4087c4"/><stop offset="0.545" stop-color="#4087c4"/><stop offset="0.615" stop-color="#4185c2"/><stop offset="0.685" stop-color="#4181bf"/><stop offset="0.745" stop-color="#417cbc"/><stop offset="0.795" stop-color="#4077ba"/><stop offset="0.835" stop-color="#3f72b8"/><stop offset="0.865" stop-color="#3e6fb6"/><stop offset="0.885" stop-color="#3d6cb4"/><stop offset="0.905" stop-color="#3c69b3"/><stop offset="0.915" stop-color="#3c68b2"/><stop offset="0.925" stop-color="#3c66b1"/><stop offset="0.935" stop-color="#3c63b0"/><stop offset="0.945" stop-color="#3c5eaf"/><stop offset="0.955" stop-color="#3d57ab"/><stop offset="0.965" stop-color="#434caa"/><stop offset="0.975" stop-color="#493da1"/><stop offset="0.985" stop-color="#48328f"/><stop offset="0.995" stop-color="#462c88"/></linearGradient>
<linearGradient id="g79" x1="0" y1="0" x2="0" y2="1"><stop offset="0.005" stop-color="#462c88"/><stop offset="0.015" stop-color="#48328f"/><stop offset="0.025" stop-color="#493da0"/><stop offset="0.035" stop-color="#434caa"/><stop offset="0.045" stop-color="#3d57ab"/><stop offset="0.055" stop-color="#3c5eaf"/><stop offset="0.065" stop-color="#3c63b0"/><stop offset="0.075" stop-color="#3c65b1"/><stop offset="0.085" stop-color="#3c67b2"/><stop offset="0.095" stop-color="#3c69b3"/><stop offset="0.115" stop-color="#3d6cb4"/><stop offset="0.135" stop-color="#3e6fb5"/><stop offset="0.165" stop-color="#3f72b8"/><stop offset="0.205" stop-color="#4077ba"/><stop offset="0.255" stop-color="#417cbc"/><stop offset="0.315" stop-color="#4181bf"/><stop offset="0.385" stop-color="#4185c2"/><stop offset="0.455" stop-color="#4087c4"/><stop offset="0.545" stop-color="#4087c4"/><stop offset="0.615" stop-color="#4185c2"/><stop offset="0.685" stop-color="#4181bf"/><stop offset="0.745" stop-color="#417cbc"/><stop offset="0.795" stop-color="#4077ba"/><stop offset="0.835" stop-color="#3f72b8"/><stop offset="0.865" stop-color="#3e6fb5"/><stop offset="0.885" stop-color="#3d6cb4"/><stop offset="0.905" stop-color="#3c69b3"/><stop offset="0.915" stop-color="#3c67b2"/><stop offset="0.925" stop-color="#3c65b1"/><stop offset="0.935" stop-color="#3c63b0"/><stop offset="0.945" stop-color="#3c5eaf"/><stop offset="0.955" stop-color="#3d57ab"/><stop offset="0.965" stop-color="#434caa"/><stop offset="0.975" stop-color="#493da0"/><stop offset="0.985" stop-color="#48328f"/><stop offset="0.995" stop-color="#462c88"/></linearGradient>
<linearGradient id="g80" x1="0" y1="0" x2="0" y2="1"><stop offset="0.005" stop-color="#462c88"/><stop offset="0.015" stop-color="#48318e"/><stop offset="0.025" stop-color="#493da0"/><stop offset="0.035" stop-color="#444caa"/><stop offset="0.045" stop-color="#3d56ab"/><stop offset="0.055" stop-color="#3c5eae"/><stop offset="0.065" stop-color="#3c63b0"/><stop offset="0.075" stop-color="#3c65b1"/><stop offset="0.085" stop-color="#3c67b2"/><stop offset="0.095" stop-color="#3c69b2"/><stop offset="0.115" stop-color="#3d6cb4"/><stop offset="0.135" stop-color="#3e6fb5"/><stop offset="0.165" stop-color="#3f72b7"/><stop offset="0.205" stop-color="#4077ba"/><stop offset="0.255" stop-color="#417cbc"/><stop offset="0.315" stop-color="#4181bf"/><stop offset="0.385" stop-color="#4184c2"/><stop offset="0.455" stop-color="#4086c4"/><stop offset="0.545" stop-color="#4086c4"/><stop offset="0.615" stop-color="#4184c2"/><stop offset="0.685" stop-color="#4181bf"/><stop offset="0.745" stop-color="#417cbc"/><stop offset="0.795" stop-color="#4077ba"/><stop offset="0.835" stop-color="#3f72b7"/><stop offset="0.865" stop-color="#3e6fb5"/><stop offset="0.885" stop-color="#3d6cb4"/><stop offset="0.905" stop-color="#3c69b2"/><stop offset="0.915" stop-color="#3c67b2"/><stop offset="0.925" stop-color="#3c65b1"/><stop offset="0.935" stop-color="#3c63b0"/><stop offset="0.945" stop-color="#3c5eae"/><stop offset="0.955" stop-color="#3d56ab"/><stop offset="0.965" stop-color="#444caa"/><stop offset="0.975" stop-color="#493da0"/><stop offset="0.985" stop-color="#48318e"/><stop offset="0.995" stop-color="#462c88"/></linearGradient>
<linearGradient id="g81" x1="0" y1="0" x2="0" y2="1"><stop offset="0.005" stop-color="#462b87"/><stop offset="0.015" stop-color="#48318e"/><stop offset="0.025" stop-color="#493c9f"/><stop offset="0.035" stop-color="#444caa"/><stop offset="0.045" stop-color="#3d56ab"/><stop offset="0.055" stop-color="#3c5eae"/><stop offset="0.065" stop-color="#3c63b0"/><stop offset="0.075" stop-color="#3c65b1"/><stop offset="0.085" stop-color="#3c67b2"/><stop offset="0.095" stop-color="#3c69b2"/><stop offset="0.115" stop-color="#3d6cb4"/><stop offset="0.135" stop-color="#3e6fb5"/><stop offset="0.165" stop-color="#3f72b7"/><stop offset="0.205" stop-color="#4077ba"/><stop offset="0.255" stop-color="#417cbc"/><stop offset="0.315" stop-color="#4180bf"/><stop offset="0.385" stop-color="#4184c2"/><stop offset="0.455" stop-color="#4086c3"/><stop offset="0.545" stop-color="#4086c3"/><stop offset="0.615" stop-color="#4184c2"/><stop offset="0.685" stop-color="#4180bf"/><stop offset="0.745" stop-color="#417cbc"/><stop offset="0.795" stop-color="#4077ba"/><stop offset="0.835" stop-color="#3f72b7"/><stop offset="0.865" stop-color="#3e6fb5"/><stop offset="0.885" stop-color="#3d6cb4"/><stop offset="0.905" stop-color="#3c69b2"/><stop offset="0.915" stop-color="#3c67b2"/><stop offset="0.925" stop-color="#3c65b1"/><stop offset="0.935" stop-color="#3c63b0"/><stop offset="0.945" stop-color="#3c5eae"/><stop offset="0.955" stop-color="#3d56ab"/><stop offset="0.965" stop-color="#444caa"/><stop offset="0.975" stop-color="#493c9f"/><stop offset="0.985" stop-color="#48318e"/><stop offset="0.995" stop-color="#462b87"/></linearGradient>
<linearGradient id="g82" x1="0" y1="0" x2="0" y2="1"><stop offset="0.005" stop-color="#462b87"/><stop offset="0.015" stop-color="#48318d"/><stop offset="0.025" stop-color="#493c9f"/><stop offset="0.035" stop-color="#444baa"/><stop offset="0.045" stop-color="#3e56ab"/><stop offset="0.055" stop-color="#3c5dae"/><stop offset="0.065" stop-color="#3c62b0"/><stop offset="0.075" stop-color="#3c65b1"/><stop offset="0.085" stop-color="#3c67b2"/><stop offset="0.095" stop-color="#3c68b2"/><stop offset="0.115" stop-color="#3d6cb4"/><stop offset="0.135" stop-color="#3e6eb5"/><stop offset="0.165" stop-color="#3f72b7"/><stop offset="0.205" stop-color="#4077ba"/><stop offset="0.255" stop-color="#417cbc"/><stop offset="0.315" stop-color="#4180bf"/><stop offset="0.385" stop-color="#4184c2"/><stop offset="0.455" stop-color="#4086c3"/><stop offset="0.545" stop-color="#4086c3"/><stop offset="0.615" stop-color="#4184c2"/><stop offset="0.685" stop-color="#4180bf"/><stop offset="0.745" stop-color="#417cbc"/><stop offset="0.795" stop-color="#4077ba"/><stop offset="0.835" stop-color="#3f72b7"/><stop offset="0.865" stop-color="#3e6eb5"/><stop offset="0.885" stop-color="#3d6cb4"/><stop offset="0.905" stop-color="#3c68b2"/><stop offset="0.915" stop-color="#3c67b2"/><stop offset="0.925" stop-color="#3c65b1"/><stop offset="0.935" stop-color="#3c62b0"/><stop offset="0.945" stop-color="#3c5dae"/><stop offset="0.955" stop-color="#3e56ab"/><stop offset="0.965" stop-color="#444baa"/><stop offset="0.975" stop-color="#493c9f"/><stop offset="0.985" stop-color="#48318d"/><stop offset="0.995" stop-color="#462b87"/></linearGradient>
<linearGradient id="g83" x1="0" y1="0" x2="0" y2="1"><stop offset="0.005" stop-color="#462b87"/><stop offset="0.015" stop-color="#47308d"/><stop offset="0.025" stop-color="#493c9f"/><stop offset="0.035" stop-color="#444baa"/><stop offset="0.045" stop-color="#3e56ab"/><stop offset="0.055" stop-color="#3c5dae"/><stop offset="0.065" stop-color="#3c62b0"/><stop offset="0.075" stop-color="#3c65b1"/><stop offset="0.085" stop-color="#3c67b2"/><stop offset="0.095" stop-color="#3c68b2"/><stop offset="0.115" stop-color="#3d6bb4"/><stop offset="0.135" stop-color="#3e6eb5"/><stop offset="0.165" stop-color="#3f72b7"/><stop offset="0.205" stop-color="#4076ba"/><stop offset="0.255" stop-color="#417cbc"/><stop offset="0.315" stop-color="#4180bf"/><stop offset="0.385" stop-color="#4184c2"/><stop offset="0.455" stop-color="#4086c3"/><stop offset="0.545" stop-color="#4086c3"/><stop offset="0.615" stop-color="#4184c2"/><stop offset="0.685" stop-color="#4180bf"/><stop offset="0.745" stop-color="#417cbc"/><stop offset="0.795" stop-color="#4076ba"/><stop offset="0.835" stop-color="#3f72b7"/><stop offset="0.865" stop-color="#3e6eb5"/><stop offset="0.885" stop-color="#3d6bb4"/><stop offset="0.905" stop-color="#3c68b2"/><stop offset="0.915" stop-color="#3c67b2"/><stop offset="0.925" stop-color="#3c65b1"/><stop offset="0.935" stop-color="#3c62b0"/><stop offset="0.945" stop-color="#3c5dae"/><stop offset="0.955" stop-color="#3e56ab"/><stop offset="0.965" stop-color="#444baa"/><stop offset="0.975" stop-color="#493c9f"/><stop offset="0.985" stop-color="#47308d"/><stop offset="0.995" stop-color="#462b87"/></linearGradient>
<linearGradient id="g84" x1="0" y1="0" x2="0" y2="1"><stop offset="0.005" stop-color="#462b87"/><stop offset="0.015" stop-color="#47308d"/><stop offset="0.025" stop-color="#493c9e"/><stop offset="0.035" stop-color="#444baa"/><stop offset="0.045" stop-color="#3e55ab"/><stop offset="0.055" stop-color="#3c5dae"/><stop offset="0.065" stop-color="#3c62b0"/><stop offset="0.075" stop-color="#3c65b1"/><stop offset="0.085" stop-color="#3c67b2"/><stop offset="0.095" stop-color="#3c68b2"/><stop offset="0.115" stop-color="#3d6bb4"/><stop offset="0.135" stop-color="#3e6eb5"/><stop offset="0.165" stop-color="#3f72b7"/><stop offset="0.205" stop-color="#4076ba"/><stop offset="0.255" stop-color="#417bbc"/><stop offset="0.315" stop-color="#4180bf"/><stop offset="0.385" stop-color="#4184c2"/><stop offset="0.455" stop-color="#4086c3"/><stop offset="0.545" stop-color="#4086c3"/><stop offset="0.615" stop-color="#4184c2"/><stop offset="0.685" stop-color="#4180bf"/><stop offset="0.745" stop-color="#417bbc"/><stop offset="0.795" stop-color="#4076ba"/><stop offset="0.835" stop-color="#3f72b7"/><stop offset="0.865" stop-color="#3e6eb5"/><stop offset="0.885" stop-color="#3d6bb4"/><stop offset="0.905" stop-color="#3c68b2"/><stop offset="0.915" stop-color="#3c67b2"/><stop offset="0.925" stop-color="#3c65b1"/><stop offset="0.935" stop-color="#3c62b0"/><stop offset="0.945" stop-color="#3c5dae"/><stop offset="0.955" stop-color="#3e55ab"/><stop offset="0.965" stop-color="#444baa"/><stop offset="0.975" stop-color="#493c9e"/><stop offset="0.985" stop-color="#47308d"/><stop offset="0.995" stop-color="#462b87"/></linearGradient>
<linearGradient id="g85" x1="0" y1="0" x2="0" y2="1"><stop offset="0.005" stop-color="#462b87"/><stop offset="0.015" stop-color="#47308c"/><stop offset="0.025" stop-color="#493c9e"/><stop offset="0.035" stop-color="#444baa"/><stop offset="0.045" stop-color="#3e55ab"/><stop offset="0.055" stop-color="#3c5dae"/><stop offset="0.065" stop-color="#3c62b0"/><stop offset="0.075" stop-color="#3c64b1"/><stop offset="0.085" stop-color="#3c66b1"/><stop offset="0.095" stop-color="#3c68b2"/><stop offset="0.115" stop-color="#3d6bb4"/><stop offset="0.135" stop-color="#3e6eb5"/><stop offset="0.165" stop-color="#3f71b7"/><stop offset="0.205" stop-color="#4076ba"/><stop offset="0.255" stop-color="#417bbc"/><stop offset="0.315" stop-color="#4180bf"/><stop offset="0.385" stop-color="#4184c2"/><stop offset="0.455" stop-color="#4086c3"/><stop offset="0.545" stop-color="#4086c3"/><stop offset="0.615" stop-color="#4184c2"/><stop offset="0.685" stop-color="#4180bf"/><stop offset="0.745" stop-color="#417bbc"/><stop offset="0.795" stop-color="#4076ba"/><stop offset="0.835" stop-color="#3f71b7"/><stop offset="0.865" stop-color="#3e6eb5"/><stop offset="0.885" stop-color="#3d6bb4"/><stop offset="0.905" stop-color="#3c68b2"/><stop offset="0.915" stop-color="#3c66b1"/><stop offset="0.925" stop-color="#3c64b1"/><stop offset="0.935" stop-color="#3c62b0"/><stop offset="0.945" stop-color="#3c5dae"/><stop offset="0.955" stop-color="#3e55ab"/><stop offset="0.965" stop-color="#444baa"/><stop offset="0.975" stop-color="#493c9e"/><stop offset="0.985" stop-color="#47308c"/><stop offset="0.995" stop-color="#462b87"/></linearGradient>
<linearGradient id="g86" x1="0" y1="0" x2="0" y2="1"><stop offset="0.005" stop-color="#462b87"/><stop offset="0.015" stop-color="#47308c"/><stop offset="0.025" stop-color="#493c9e"/><stop offset="0.035" stop-color="#444baa"/><stop offset="0.045" stop-color="#3e55ab"/><stop offset="0.055" stop-color="#3c5dae"/><stop offset="0.065" stop-color="#3c62b0"/><stop offset="0.075" stop-color="#3c64b1"/><stop offset="0.085" stop-color="#3c66b1"/><stop offset="0.095" stop-color="#3c68b2"/><stop offset="0.115" stop-color="#3d6bb4"/><stop offset="0.135" stop-color="#3e6eb5"/><stop offset="0.165" stop-color="#3f71b7"/><stop offset="0.205" stop-color="#4076ba"/><stop offset="0.255" stop-color="#417bbc"/><stop offset="0.315" stop-color="#4180bf"/><stop offset="0.385" stop-color="#4184c2"/><stop offset="0.455" stop-color="#4086c3"/><stop offset="0.545" stop-color="#4086c3"/><stop offset="0.615" stop-color="#4184c2"/><stop offset="0.685" stop-color="#4180bf"/><stop offset="0.745" stop-color="#417bbc"/><stop offset="0.795" stop-color="#4076ba"/><stop offset="0.835" stop-color="#3f71b7"/><stop offset="0.865" stop-color="#3e6eb5"/><stop offset="0.885" stop-color="#3d6bb4"/><stop offset="0.905" stop-color="#3c68b2"/><stop offset="0.915" stop-color="#3c66b1"/><stop offset="0.925" stop-color="#3c64b1"/><stop offset="0.935" stop-color="#3c62b0"/><stop offset="0.945" stop-color="#3c5dae"/><stop offset="0.955" stop-color="#3e55ab"/><stop offset="0.965" stop-color="#444baa"/><stop offset="0.975" stop-color="#493c9e"/><stop offset="0.985" stop-color="#47308c"/><stop offset="0.995" stop-color="#462b87"/></linearGradient>
<linearGradient id="g87" x1="0" y1="0" x2="0" y2="1"><stop offset="0.005" stop-color="#462b87"/><stop offset="0.015" stop-color="#472f8c"/><stop offset="0.025" stop-color="#493b9e"/><stop offset="0.035" stop-color="#454baa"/><stop offset="0.045" stop-color="#3e55ab"/><stop offset="0.055" stop-color="#3c5dae"/><stop offset="0.065" stop-color="#3c62b0"/><stop offset="0.075" stop-color="#3c64b1"/><stop offset="0.085" stop-color="#3c66b1"/><stop offset="0.095" stop-color="#3c68b2"/><stop offset="0.115" stop-color="#3d6bb3"/><stop offset="0.135" stop-color="#3e6eb5"/><stop offset="0.165" stop-color="#3f71b7"/><stop offset="0.205" stop-color="#4076ba"/><stop offset="0.255" stop-color="#417bbc"/><stop offset="0.315" stop-color="#4180bf"/><stop offset="0.385" stop-color="#4184c2"/><stop offset="0.455" stop-color="#4086c3"/><stop offset="0.545" stop-color="#4086c3"/><stop offset="0.615" stop-color="#4184c2"/><stop offset="0.685" stop-color="#4180bf"/><stop offset="0.745" stop-color="#417bbc"/><stop offset="0.795" stop-color="#4076ba"/><stop offset="0.835" stop-color="#3f71b7"/><stop offset="0.865" stop-color="#3e6eb5"/><stop offset="0.885" stop-color="#3d6bb3"/><stop offset="0.905" stop-color="#3c68b2"/><stop offset="0.915" stop-color="#3c66b1"/><stop offset="0.925" stop-color="#3c64b1"/><stop offset="0.935" stop-color="#3c62b0"/><stop offset="0.945" stop-color="#3c5dae"/><stop offset="0.955" stop-color="#3e55ab"/><stop offset="0.965" stop-color="#454baa"/><stop offset="0.975" stop-color="#493b9e"/><stop offset="0.985" stop-color="#472f8c"/><stop offset="0.995" stop-color="#462b87"/></linearGradient>
<linearGradient id="g88" x1="0" y1="0" x2="0" y2="1"><stop offset="0.005" stop-color="#462b87"/><stop offset="0.015" stop-color="#472f8c"/><stop offset="0.025" stop-color="#493b9d"/><stop offset="0.035" stop-color="#454aaa"/><stop offset="0.045" stop-color="#3e55aa"/><stop offset="0.055" stop-color="#3c5dae"/><stop offset="0.065" stop-color="#3c62b0"/><stop offset="0.075" stop-color="#3c64b1"/><stop offset="0.085" stop-color="#3c66b1"/><stop offset="0.095" stop-color="#3c68b2"/><stop offset="0.115" stop-color="#3d6bb3"/><stop offset="0.135" stop-color="#3e6eb5"/><stop offset="0.165" stop-color="#3f71b7"/><stop offset="0.205" stop-color="#4076b9"/><stop offset="0.255" stop-color="#417bbc"/><stop offset="0.315" stop-color="#4180be"/><stop offset="0.385" stop-color="#4184c2"/><stop offset="0.455" stop-color="#4086c3"/><stop offset="0.545" stop-color="#4086c3"/><stop offset="0.615" stop-color="#4184c2"/><stop offset="0.685" stop-color="#4180be"/><stop offset="0.745" stop-color="#417bbc"/><stop offset="0.795" stop-color="#4076b9"/><stop offset="0.835" stop-color="#3f71b7"/><stop offset="0.865" stop-color="#3e6eb5"/><stop offset="0.885" stop-color="#3d6bb3"/><stop offset="0.905" stop-color="#3c68b2"/><stop offset="0.915" stop-color="#3c66b1"/><stop offset="0.925" stop-color="#3c64b1"/><stop offset="0.935" stop-color="#3c62b0"/><stop offset="0.945" stop-color="#3c5dae"/><stop offset="0.955" stop-color="#3e55aa"/><stop offset="0.965" stop-color="#454aaa"/><stop offset="0.975" stop-color="#493b9d"/><stop offset="0.985" stop-color="#472f8c"/><stop offset="0.995" stop-color="#462b87"/></linearGradient>
<linearGradient id="g89" x1="0" y1="0" x2="0" y2="1"><stop offset="0.005" stop-color="#462b87"/><stop offset="0.015" stop-color="#472f8c"/><stop offset="0.025" stop-color="#493b9d"/><stop offset="0.035" stop-color="#454aaa"/><stop offset="0.045" stop-color="#3e55aa"/><stop offset="0.055" stop-color="#3c5cae"/><stop offset="0.065" stop-color="#3c61b0"/><stop offset="0.075" stop-color="#3c64b1"/><stop offset="0.085" stop-color="#3c66b1"/><stop offset="0.095" stop-color="#3c68b2"/><stop offset="0.115" stop-color="#3d6bb3"/><stop offset="0.135" stop-color="#3e6eb5"/><stop offset="0.165" stop-color="#3f71b7"/><stop offset="0.205" stop-color="#4076b9"/><stop offset="0.255" stop-color="#417bbc"/><stop offset="0.315" stop-color="#4180be"/><stop offset="0.385" stop-color="#4184c2"/><stop offset="0.455" stop-color="#4086c3"/><stop offset="0.545" stop-color="#4086c3"/><stop offset="0.615" stop-color="#4184c2"/><stop offset="0.685" stop-color="#4180be"/><stop offset="0.745" stop-color="#417bbc"/><stop offset="0.795" stop-color="#4076b9"/><stop offset="0.835" stop-color="#3f71b7"/><stop offset="0.865" stop-color="#3e6eb5"/><stop offset="0.885" stop-color="#3d6bb3"/><stop offset="0.905" stop-color="#3c68b2"/><stop offset="0.915" stop-color="#3c66b1"/><stop offset="0.925" stop-color="#3c64b1"/><stop offset="0.935" stop-color="#3c61b0"/><stop offset="0.945" stop-color="#3c5cae"/><stop offset="0.955" stop-color="#3e55aa"/><stop offset="0.965" stop-color="#454aaa"/><stop offset="0.975" stop-color="#493b9d"/><stop offset="0.985" stop-color="#472f8c"/><stop offset="0.995" stop-color="#462b87"/></linearGradient>
<linearGradient id="g90" x1="0" y1="0" x2="0" y2="1"><stop offset="0.005" stop-color="#462b87"/><stop offset="0.015" stop-color="#472f8b"/><stop offset="0.025" stop-color="#493b9d"/><stop offset="0.035" stop-color="#454aaa"/><stop offset="0.045" stop-color="#3e55aa"/><stop offset="0.055" stop-color="#3c5cae"/><stop offset="0.065" stop-color="#3c61b0"/><stop offset="0.075" stop-color="#3c64b1"/><stop offset="0.085" stop-color="#3c66b1"/><stop offset="0.095" stop-color="#3c68b2"/><stop offset="0.115" stop-color="#3d6bb3"/><stop offset="0.135" stop-color="#3e6eb5"/><stop offset="0.165" stop-color="#3f71b7"/><stop offset="0.205" stop-color="#4076b9"/><stop offset="0.255" stop-color="#417bbc"/><stop offset="0.315" stop-color="#4180be"/><stop offset="0.385" stop-color="#4184c1"/><stop offset="0.455" stop-color="#4086c3"/><stop offset="0.545" stop-color="#4086c3"/><stop offset="0.615" stop-color="#4184c1"/><stop offset="0.685" stop-color="#4180be"/><stop offset="0.745" stop-color="#417bbc"/><stop offset="0.795" stop-color="#4076b9"/><stop offset="0.835" stop-color="#3f71b7"/><stop offset="0.865" stop-color="#3e6eb5"/><stop offset="0.885" stop-color="#3d6bb3"/><stop offset="0.905" stop-color="#3c68b2"/><stop offset="0.915" stop-color="#3c66b1"/><stop offset="0.925" stop-color="#3c64b1"/><stop offset="0.935" stop-color="#3c61b0"/><stop offset="0.945" stop-color="#3c5cae"/><stop offset="0.955" stop-color="#3e55aa"/><stop offset="0.965" stop-color="#454aaa"/><stop offset="0.975" stop-color="#493b9d"/><stop offset="0.985" stop-color="#472f8b"/><stop offset="0.995" stop-color="#462b87"/></linearGradient>
<linearGradient id="g91" x1="0" y1="0" x2="0" y2="1"><stop offset="0.005" stop-color="#462b87"/><stop offset="0.015" stop-color="#472f8b"/><stop offset="0.025" stop-color="#493b9d"/><stop offset="0.035" stop-color="#454aaa"/><stop offset="0.045" stop-color="#3e55aa"/><stop offset="0.055" stop-color="#3c5cae"/><stop offset="0.065" stop-color="#3c61b0"/><stop offset="0.075" stop-color="#3c64b1"/><stop offset="0.085" stop-color="#3c66b1"/><stop offset="0.095" stop-color="#3c68b2"/><stop offset="0.115" stop-color="#3d6bb3"/><stop offset="0.135" stop-color="#3e6eb5"/><stop offset="0.165" stop-color="#3f71b7"/><stop offset="0.205" stop-color="#4076b9"/><stop offset="0.255" stop-color="#417bbc"/><stop offset="0.315" stop-color="#4180be"/><stop offset="0.385" stop-color="#4184c1"/><stop offset="0.455" stop-color="#4086c3"/><stop offset="0.545" stop-color="#4086c3"/><stop offset="0.615" stop-color="#4184c1"/><stop offset="0.685" stop-color="#4180be"/><stop offset="0.745" stop-color="#417bbc"/><stop offset="0.795" stop-color="#4076b9"/><stop offset="0.835" stop-color="#3f71b7"/><stop offset="0.865" stop-color="#3e6eb5"/><stop offset="0.885" stop-color="#3d6bb3"/><stop offset="0.905" stop-color="#3c68b2"/><stop offset="0.915" stop-color="#3c66b1"/><stop offset="0.925" stop-color="#3c64b1"/><stop offset="0.935" stop-color="#3c61b0"/><stop offset="0.945" stop-color="#3c5cae"/><stop offset="0.955" stop-color="#3e55aa"/><stop offset="0.965" stop-color="#454aaa"/><stop offset="0.975" stop-color="#493b9d"/><stop offset="0.985" stop-color="#472f8b"/><stop offset="0.995" stop-color="#462b87"/></linearGradient>
<linearGradient id="g92" x1="0" y1="0" x2="0" y2="1"><stop offset="0.005" stop-color="#462b87"/><stop offset="0.015" stop-color="#472e8b"/><stop offset="0.025" stop-color="#493b9d"/><stop offset="0.035" stop-color="#454aaa"/><stop offset="0.045" stop-color="#3e54aa"/><stop offset="0.055" stop-color="#3c5cae"/><stop offset="0.065" stop-color="#3c61b0"/><stop offset="0.075" stop-color="#3c64b1"/><stop offset="0.085" stop-color="#3c66b1"/><stop offset="0.095" stop-color="#3c67b2"/><stop offset="0.115" stop-color="#3d6bb3"/><stop offset="0.135" stop-color="#3e6db5"/><stop offset="0.165" stop-color="#3f71b7"/><stop offset="0.205" stop-color="#4076b9"/><stop offset="0.255" stop-color="#417bbc"/><stop offset="0.315" stop-color="#4180be"/><stop offset="0.385" stop-color="#4184c1"/><stop offset="0.455" stop-color="#4086c3"/><stop offset="0.545" stop-color="#4086c3"/><stop offset="0.615" stop-color="#4184c1"/><stop offset="0.685" stop-color="#4180be"/><stop offset="0.745" stop-color="#417bbc"/><stop offset="0.795" stop-color="#4076b9"/><stop offset="0.835" stop-color="#3f71b7"/><stop offset="0.865" stop-color="#3e6db5"/><stop offset="0.885" stop-color="#3d6bb3"/><stop offset="0.905" stop-color="#3c67b2"/><stop offset="0.915" stop-color="#3c66b1"/><stop offset="0.925" stop-color="#3c64b1"/><stop offset="0.935" stop-color="#3c61b0"/><stop offset="0.945" stop-color="#3c5cae"/><stop offset="0.955" stop-color="#3e54aa"/><stop offset="0.965" stop-color="#454aaa"/><stop offset="0.975" stop-color="#493b9d"/><stop offset="0.985" stop-color="#472e8b"/><stop offset="0.995" stop-color="#462b87"/></linearGradient>
<linearGradient id="g93" x1="0" y1="0" x2="0" y2="1"><stop offset="0.005" stop-color="#452b87"/><stop offset="0.015" stop-color="#472e8b"/><stop offset="0.025" stop-color="#4a3b9c"/><stop offset="0.035" stop-color="#454aaa"/><stop offset="0.045" stop-color="#3e54aa"/><stop offset="0.055" stop-color="#3c5cae"/><stop offset="0.065" stop-color="#3c61b0"/><stop offset="0.075" stop-color="#3c64b1"/><stop offset="0.085" stop-color="#3c66b1"/><stop offset="0.095" stop-color="#3c67b2"/><stop offset="0.115" stop-color="#3d6ab3"/><stop offset="0.135" stop-color="#3e6db5"/><stop offset="0.165" stop-color="#3f71b7"/><stop offset="0.205" stop-color="#4076b9"/><stop offset="0.255" stop-color="#417bbc"/><stop offset="0.315" stop-color="#417fbe"/><stop offset="0.385" stop-color="#4183c1"/><stop offset="0.455" stop-color="#4086c3"/><stop offset="0.545" stop-color="#4086c3"/><stop offset="0.615" stop-color="#4183c1"/><stop offset="0.685" stop-color="#417fbe"/><stop offset="0.745" stop-color="#417bbc"/><stop offset="0.795" stop-color="#4076b9"/><stop offset="0.835" stop-color="#3f71b7"/><stop offset="0.865" stop-color="#3e6db5"/><stop offset="0.885" stop-color="#3d6ab3"/><stop offset="0.905" stop-color="#3c67b2"/><stop offset="0.915" stop-color="#3c66b1"/><stop offset="0.925" stop-color="#3c64b1"/><stop offset="0.935" stop-color="#3c61b0"/><stop offset="0.945" stop-color="#3c5cae"/><stop offset="0.955" stop-color="#3e54aa"/><stop offset="0.965" stop-color="#454aaa"/><stop offset="0.975" stop-color="#4a3b9c"/><stop offset="0.985" stop-color="#472e8b"/><stop offset="0.995" stop-color="#452b87"/></linearGradient>
<linearGradient id="g94" x1="0" y1="0" x2="0" y2="1"><stop offset="0.005" stop-color="#452b87"/><stop offset="0.015" stop-color="#472e8a"/><stop offset="0.025" stop-color="#4a3b9c"/><stop offset="0.035" stop-color="#454aaa"/><stop offset="0.045" stop-color="#3e54aa"/><stop offset="0.055" stop-color="#3c5cae"/><stop offset="0.065" stop-color="#3c61b0"/><stop offset="0.075" stop-color="#3c64b1"/><stop offset="0.085" stop-color="#3c66b1"/><stop offset="0.095" stop-color="#3c67b2"/><stop offset="0.115" stop-color="#3d6ab3"/><stop offset="0.135" stop-color="#3e6db5"/><stop offset="0.165" stop-color="#3f71b7"/><stop offset="0.205" stop-color="#4075b9"/><stop offset="0.255" stop-color="#417bbc"/><stop offset="0.315" stop-color="#417fbe"/><stop offset="0.385" stop-color="#4183c1"/><stop offset="0.455" stop-color="#4085c3"/><stop offset="0.545" stop-color="#4085c3"/><stop offset="0.615" stop-color="#4183c1"/><stop offset="0.685" stop-color="#417fbe"/><stop offset="0.745" stop-color="#417bbc"/><stop offset="0.795" stop-color="#4075b9"/><stop offset="0.835" stop-color="#3f71b7"/><stop offset="0.865" stop-color="#3e6db5"/><stop offset="0.885" stop-color="#3d6ab3"/><stop offset="0.905" stop-color="#3c67b2"/><stop offset="0.915" stop-color="#3c66b1"/><stop offset="0.925" stop-color="#3c64b1"/><stop offset="0.935" stop-color="#3c61b0"/><stop offset="0.945" stop-color="#3c5cae"/><stop offset="0.955" stop-color="#3e54aa"/><stop offset="0.965" stop-color="#454aaa"/><stop offset="0.975" stop-color="#4a3b9c"/><stop offset="0.985" stop-color="#472e8a"/><stop offset="0.995" stop-color="#452b87"/></linearGradient>
<linearGradient id="g95" x1="0" y1="0" x2="0" y2="1"><stop offset="0.005" stop-color="#452b87"/><stop offset="0.015" stop-color="#472e8a"/><stop offset="0.025" stop-color="#4a3b9c"/><stop offset="0.035" stop-color="#454aaa"/><stop offset="0.045" stop-color="#3e54aa"/><stop offset="0.055" stop-color="#3c5cae"/><stop offset="0.065" stop-color="#3c61b0"/><stop offset="0.075" stop-color="#3c64b1"/><stop offset="0.085" stop-color="#3c66b1"/><stop offset="0.095" stop-color="#3c67b2"/><stop offset="0.115" stop-color="#3d6ab3"/><stop offset="0.135" stop-color="#3e6db5"/><stop offset="0.165" stop-color="#3f71b7"/><stop offset="0.205" stop-color="#4075b9"/><stop offset="0.255" stop-color="#417bbc"/><stop offset="0.315" stop-color="#417fbe"/><stop offset="0.385" stop-color="#4183c1"/><stop offset="0.455" stop-color="#4085c3"/><stop offset="0.545" stop-color="#4085c3"/><stop offset="0.615" stop-color="#4183c1"/><stop offset="0.685" stop-color="#417fbe"/><stop offset="0.745" stop-color="#417bbc"/><stop offset="0.795" stop-color="#4075b9"/><stop offset="0.835" stop-color="#3f71b7"/><stop offset="0.865" stop-color="#3e6db5"/><stop offset="0.885" stop-color="#3d6ab3"/><stop offset="0.905" stop-color="#3c67b2"/><stop offset="0.915" stop-color="#3c66b1"/><stop offset="0.925" stop-color="#3c64b1"/><stop offset="0.935" stop-color="#3c61b0"/><stop offset="0.945" stop-color="#3c5cae"/><stop offset="0.955" stop-color="#3e54aa"/><stop offset="0.965" stop-color="#454aaa"/><stop offset="0.975" stop-color="#4a3b9c"/><stop offset="0.985" stop-color="#472e8a"/><stop offset="0.995" stop-color="#452b87"/></linearGradient>
<linearGradient id="g96" x1="0" y1="0" x2="0" y2="1"><stop offset="0.005" stop-color="#452b87"/><stop offset="0.015" stop-color="#472e8a"/><stop offset="0.025" stop-color="#4a3b9c"/><stop offset="0.035" stop-color="#4549aa"/><stop offset="0.045" stop-color="#3e54aa"/><stop offset="0.055" stop-color="#3c5cae"/><stop offset="0.065" stop-color="#3c61b0"/><stop offset="0.075" stop-color="#3c64b1"/><stop offset="0.085" stop-color="#3c66b1"/><stop offset="0.095" stop-color="#3c67b2"/><stop offset="0.115" stop-color="#3d6ab3"/><stop offset="0.135" stop-color="#3e6db5"/><stop offset="0.165" stop-color="#3f71b7"/><stop offset="0.205" stop-color="#4075b9"/><stop offset="0.255" stop-color="#417bbc"/><stop offset="0.315" stop-color="#417fbe"/><stop offset="0.385" stop-color="#4183c1"/><stop offset="0.455" stop-color="#4085c3"/><stop offset="0.545" stop-color="#4085c3"/><stop offset="0.615" stop-color="#4183c1"/><stop offset="0.685" stop-color="#417fbe"/><stop offset="0.745" stop-color="#417bbc"/><stop offset="0.795" stop-color="#4075b9"/><stop offset="0.835" stop-color="#3f71b7"/><stop offset="0.865" stop-color="#3e6db5"/><stop offset="0.885" stop-color="#3d6ab3"/><stop offset="0.905" stop-color="#3c67b2"/><stop offset="0.915" stop-color="#3c66b1"/><stop offset="0.925" stop-color="#3c64b1"/><stop offset="0.935" stop-color="#3c61b0"/><stop offset="0.945" stop-color="#3c5cae"/><stop offset="0.955" stop-color="#3e54aa"/><stop offset="0.965" stop-color="#4549aa"/><stop offset="0.975" stop-color="#4a3b9c"/><stop offset="0.985" stop-color="#472e8a"/><stop offset="0.995" stop-color="#452b87"/></linearGradient>
<linearGradient id="g97" x1="0" y1="0" x2="0" y2="1"><stop offset="0.005" stop-color="#452b87"/><stop offset="0.015" stop-color="#472e8a"/><stop offset="0.025" stop-color="#4a3b9c"/><stop offset="0.035" stop-color="#4549aa"/><stop offset="0.045" stop-color="#3e54aa"/><stop offset="0.055" stop-color="#3c5cae"/><stop offset="0.065" stop-color="#3c61b0"/><stop offset="0.075" stop-color="#3c64b1"/><stop offset="0.085" stop-color="#3c65b1"/><stop offset="0.095" stop-color="#3c67b2"/><stop offset="0.115" stop-color="#3d6ab3"/><stop offset="0.135" stop-color="#3e6db5"/><stop offset="0.165" stop-color="#3f71b7"/><stop offset="0.205" stop-color="#4075b9"/><stop offset="0.255" stop-color="#417bbc"/><stop offset="0.315" stop-color="#417fbe"/><stop offset="0.385" stop-color="#4183c1"/><stop offset="0.455" stop-color="#4085c3"/><stop offset="0.545" stop-color="#4085c3"/><stop offset="0.615" stop-color="#4183c1"/><stop offset="0.685" stop-color="#417fbe"/><stop offset="0.745" stop-color="#417bbc"/><stop offset="0.795" stop-color="#4075b9"/><stop offset="0.835" stop-color="#3f71b7"/><stop offset="0.865" stop-color="#3e6db5"/><stop offset="0.885" stop-color="#3d6ab3"/><stop offset="0.905" stop-color="#3c67b2"/><stop offset="0.915" stop-color="#3c65b1"/><stop offset="0.925" stop-color="#3c64b1"/><stop offset="0.935" stop-color="#3c61b0"/><stop offset="0.945" stop-color="#3c5cae"/><stop offset="0.955" stop-color="#3e54aa"/><stop offset="0.965" stop-color="#4549aa"/><stop offset="0.975" stop-color="#4a3b9c"/><stop offset="0.985" stop-color="#472e8a"/><stop offset="0.995" stop-color="#452b87"/></linearGradient>
<linearGradient id="g98" x1="0" y1="0" x2="0" y2="1"><stop offset="0.005" stop-color="#452b87"/><stop offset="0.015" stop-color="#472e8a"/><stop offset="0.025" stop-color="#4a3b9c"/><stop offset="0.035" stop-color="#4549aa"/><stop offset="0.045" stop-color="#3e54aa"/><stop offset="0.055" stop-color="#3c5cae"/><stop offset="0.065" stop-color="#3c61af"/><stop offset="0.075" stop-color="#3c64b1"/><stop offset="0.085" stop-color="#3c65b1"/><stop offset="0.095" stop-color="#3c67b2"/><stop offset="0.115" stop-color="#3d6ab3"/><stop offset="0.135" stop-color="#3e6db5"/><stop offset="0.165" stop-color="#3f71b7"/><stop offset="0.205" stop-color="#4075b9"/><stop offset="0.255" stop-color="#417bbc"/><stop offset="0.315" stop-color="#417fbe"/><stop offset="0.385" stop-color="#4183c1"/><stop offset="0.455" stop-color="#4085c3"/><stop offset="0.545" stop-color="#4085c3"/><stop offset="0.615" stop-color="#4183c1"/><stop offset="0.685" stop-color="#417fbe"/><stop offset="0.745" stop-color="#417bbc"/><stop offset="0.795" stop-color="#4075b9"/><stop offset="0.835" stop-color="#3f71b7"/><stop offset="0.865" stop-color="#3e6db5"/><stop offset="0.885" stop-color="#3d6ab3"/><stop offset="0.905" stop-color="#3c67b2"/><stop offset="0.915" stop-color="#3c65b1"/><stop offset="0.925" stop-color="#3c64b1"/><stop offset="0.935" stop-color="#3c61af"/><stop offset="0.945" stop-color="#3c5cae"/><stop offset="0.955" stop-color="#3e54aa"/><stop offset="0.965" stop-color="#4549aa"/><stop offset="0.975" stop-color="#4a3b9c"/><stop offset="0.985" stop-color="#472e8a"/><stop offset="0.995" stop-color="#452b87"/></linearGradient>
<linearGradient id="g99" x1="0" y1="0" x2="0" y2="1"><stop offset="0.005" stop-color="#452b87"/><stop offset="0.015" stop-color="#472e8a"/><stop offset="0.025" stop-color="#4a3b9c"/><stop offset="0.035" stop-color="#4549aa"/><stop offset="0.045" stop-color="#3e54aa"/><stop offset="0.055" stop-color="#3c5cae"/><stop offset="0.065" stop-color="#3c61af"/><stop offset="0.075" stop-color="#3c63b0"/><stop offset="0.085" stop-color="#3c65b1"/><stop offset="0.095" stop-color="#3c67b2"/><stop offset="0.115" stop-color="#3d6ab3"/><stop offset="0.135" stop-color="#3e6db5"/><stop offset="0.165" stop-color="#3f71b7"/><stop offset="0.205" stop-color="#4075b9"/><stop offset="0.255" stop-color="#417bbc"/><stop offset="0.315" stop-color="#417fbe"/><stop offset="0.385" stop-color="#4183c1"/><stop offset="0.455" stop-color="#4085c3"/><stop offset="0.545" stop-color="#4085c3"/><stop offset="0.615" stop-color="#4183c1"/><stop offset="0.685" stop-color="#417fbe"/><stop offset="0.745" stop-color="#417bbc"/><stop offset="0.795" stop-color="#4075b9"/><stop offset="0.835" stop-color="#3f71b7"/><stop offset="0.865" stop-color="#3e6db5"/><stop offset="0.885" stop-color="#3d6ab3"/><stop offset="0.905" stop-color="#3c67b2"/><stop offset="0.915" stop-color="#3c65b1"/><stop offset="0.925" stop-color="#3c63b0"/><stop offset="0.935" stop-color="#3c61af"/><stop offset="0.945" stop-color="#3c5cae"/><stop offset="0.955" stop-color="#3e54aa"/><stop offset="0.965" stop-color="#4549aa"/><stop offset="0.975" stop-color="#4a3b9c"/><stop offset="0.985" stop-color="#472e8a"/><stop offset="0.995" stop-color="#452b87"/></linearGradient>
<linearGradient id="cb" x1="0" y1="0" x2="0" y2="1"><stop offset="0.0000" stop-color="#f0e444"/><stop offset="0.0156" stop-color="#ebe23f"/><stop offset="0.0156" stop-color="#f0e444"/><stop offset="0.0312" stop-color="#e6d93c"/><stop offset="0.0312" stop-color="#ebe23f"/><stop offset="0.0469" stop-color="#e5cf3d"/><stop offset="0.0469" stop-color="#e6d93c"/><stop offset="0.0625" stop-color="#e9c83f"/><stop offset="0.0625" stop-color="#e5cf3d"/><stop offset="0.0781" stop-color="#efc542"/><stop offset="0.0781" stop-color="#e9c83f"/><stop offset="0.0938" stop-color="#f2c144"/><stop offset="0.0938" stop-color="#efc542"/><stop offset="0.1094" stop-color="#f4bb46"/><stop offset="0.1094" stop-color="#f2c144"/><stop offset="0.1250" stop-color="#f7b749"/><stop offset="0.1250" stop-color="#f4bb46"/><stop offset="0.1406" stop-color="#f5b34c"/><stop offset="0.1406" stop-color="#f7b749"/><stop offset="0.1562" stop-color="#f0b04f"/><stop offset="0.1562" stop-color="#f5b34c"/><stop offset="0.1719" stop-color="#e7ae55"/><stop offset="0.1719" stop-color="#f0b04f"/><stop offset="0.1875" stop-color="#dfae5a"/><stop offset="0.1875" stop-color="#e7ae55"/><stop offset="0.2031" stop-color="#d5af5d"/><stop offset="0.2031" stop-color="#dfae5a"/><stop offset="0.2188" stop-color="#cbb060"/><stop offset="0.2188" stop-color="#d5af5d"/><stop offset="0.2344" stop-color="#c3b062"/><stop offset="0.2344" stop-color="#cbb060"/><stop offset="0.2500" stop-color="#c8b060"/><stop offset="0.2500" stop-color="#c3b062"/><stop offset="0.2656" stop-color="#c0b062"/><stop offset="0.2656" stop-color="#c8b060"/><stop offset="0.2812" stop-color="#bab266"/><stop offset="0.2812" stop-color="#c0b062"/><stop offset="0.2969" stop-color="#b5b469"/><stop offset="0.2969" stop-color="#bab266"/><stop offset="0.3125" stop-color="#b0b66d"/><stop offset="0.3125" stop-color="#b5b469"/><stop offset="0.3281" stop-color="#abb870"/><stop offset="0.3281" stop-color="#b0b66d"/><stop offset="0.3438" stop-color="#a5ba73"/><stop offset="0.3438" stop-color="#abb870"/><stop offset="0.3594" stop-color="#9fbc76"/><stop offset="0.3594" stop-color="#a5ba73"/><stop offset="0.3750" stop-color="#98be79"/><stop offset="0.3750" stop-color="#9fbc76"/><stop offset="0.3906" stop-color="#91c07c"/><stop offset="0.3906" stop-color="#98be79"/><stop offset="0.4062" stop-color="#89c380"/><stop offset="0.4062" stop-color="#91c07c"/><stop offset="0.4219" stop-color="#81c885"/><stop offset="0.4219" stop-color="#89c380"/><stop offset="0.4375" stop-color="#79cc90"/><stop offset="0.4375" stop-color="#81c885"/><stop offset="0.4531" stop-color="#70cba1"/><stop offset="0.4531" stop-color="#79cc90"/><stop offset="0.4688" stop-color="#68c9a7"/><stop offset="0.4688" stop-color="#70cba1"/><stop offset="0.4844" stop-color="#5bc6ad"/><stop offset="0.4844" stop-color="#68c9a7"/><stop offset="0.5000" stop-color="#55c4b0"/><stop offset="0.5000" stop-color="#5bc6ad"/><stop offset="0.5156" stop-color="#50bdb3"/><stop offset="0.5156" stop-color="#55c4b0"/><stop offset="0.5312" stop-color="#4db9b5"/><stop offset="0.5312" stop-color="#50bdb3"/><stop offset="0.5469" stop-color="#4bb4b6"/><stop offset="0.5469" stop-color="#4db9b5"/><stop offset="0.5625" stop-color="#49afb7"/><stop offset="0.5625" stop-color="#4bb4b6"/><stop offset="0.5781" stop-color="#47aab9"/><stop offset="0.5781" stop-color="#49afb7"/><stop offset="0.5938" stop-color="#47a5ba"/><stop offset="0.5938" stop-color="#47aab9"/><stop offset="0.6094" stop-color="#46a0bb"/><stop offset="0.6094" stop-color="#47a5ba"/><stop offset="0.6250" stop-color="#449bbb"/><stop offset="0.6250" stop-color="#46a0bb"/><stop offset="0.6406" stop-color="#4197bb"/><stop offset="0.6406" stop-color="#449bbb"/><stop offset="0.6562" stop-color="#3f94bb"/><stop offset="0.6562" stop-color="#4197bb"/><stop offset="0.6719" stop-color="#3e94bd"/><stop offset="0.6719" stop-color="#3f94bb"/><stop offset="0.6875" stop-color="#3f90c0"/><stop offset="0.6875" stop-color="#3e94bd"/><stop offset="0.7031" stop-color="#418ec2"/><stop offset="0.7031" stop-color="#3f90c0"/><stop offset="0.7188" stop-color="#4289c4"/><stop offset="0.7188" stop-color="#418ec2"/><stop offset="0.7344" stop-color="#4183c3"/><stop offset="0.7344" stop-color="#4289c4"/><stop offset="0.7500" stop-color="#4087c4"/><stop offset="0.7500" stop-color="#4183c3"/><stop offset="0.7656" stop-color="#4183c1"/><stop offset="0.7656" stop-color="#4087c4"/><stop offset="0.7812" stop-color="#417fbe"/><stop offset="0.7812" stop-color="#4183c1"/><stop offset="0.7969" stop-color="#417abc"/><stop offset="0.7969" stop-color="#417fbe"/><stop offset="0.8125" stop-color="#4075b9"/><stop offset="0.8125" stop-color="#417abc"/><stop offset="0.8281" stop-color="#3e70b6"/><stop offset="0.8281" stop-color="#4075b9"/><stop offset="0.8438" stop-color="#3d6bb4"/><stop offset="0.8438" stop-color="#3e70b6"/><stop offset="0.8594" stop-color="#3c66b1"/><stop offset="0.8594" stop-color="#3d6bb4"/><stop offset="0.8750" stop-color="#3c60af"/><stop offset="0.8750" stop-color="#3c66b1"/><stop offset="0.8906" stop-color="#3c59ac"/><stop offset="0.8906" stop-color="#3c60af"/><stop offset="0.9062" stop-color="#3f52a9"/><stop offset="0.9062" stop-color="#3c59ac"/><stop offset="0.9219" stop-color="#454aaa"/><stop offset="0.9219" stop-color="#3f52a9"/><stop offset="0.9375" stop-color="#4840a4"/><stop offset="0.9375" stop-color="#454aaa"/><stop offset="0.9531" stop-color="#4a3999"/><stop offset="0.9531" stop-color="#4840a4"/><stop offset="0.9688" stop-color="#47308d"/><stop offset="0.9688" stop-color="#4a3999"/><stop offset="0.9844" stop-color="#452b87"/><stop offset="0.9844" stop-color="#47308d"/><stop offset="1.0000" stop-color="#452b87"/></linearGradient>
</defs>
<rect x="0" y="0" width="879" height="2300" fill="#fff"/>
<rect x="120.00" y="47.2" width="6.39" height="578.30" fill="url(#g0)"/>
<rect x="126.09" y="47.2" width="6.39" height="578.30" fill="url(#g1)"/>
<rect x="132.17" y="47.2" width="6.39" height="578.30" fill="url(#g2)"/>
<rect x="138.26" y="47.2" width="6.39" height="578.30" fill="url(#g3)"/>
<rect x="144.35" y="47.2" width="6.39" height="578.30" fill="url(#g4)"/>
<rect x="150.44" y="47.2" width="6.39" height="578.30" fill="url(#g5)"/>
<rect x="156.52" y="47.2" width="6.39" height="578.30" fill="url(#g6)"/>
<rect x="162.61" y="47.2" width="6.39" height="578.30" fill="url(#g7)"/>
<rect x="168.70" y="47.2" width="6.39" height="578.30" fill="url(#g8)"/>
<rect x="174.78" y="47.2" width="6.39" height="578.30" fill="url(#g9)"/>
<rect x="180.87" y="47.2" width="6.39" height="578.30" fill="url(#g10)"/>
<rect x="186.96" y="47.2" width="6.39" height="578.30" fill="url(#g11)"/>
<rect x="193.04" y="47.2" width="6.39" height="578.30" fill="url(#g12)"/>
<rect x="199.13" y="47.2" width="6.39" height="578.30" fill="url(#g13)"/>
<rect x="205.22" y="47.2" width="6.39" height="578.30" fill="url(#g14)"/>
<rect x="211.31" y="47.2" width="6.39" height="578.30" fill="url(#g15)"/>
<rect x="217.39" y="47.2" width="6.39" height="578.30" fill="url(#g16)"/>
<rect x="223.48" y="47.2" width="6.39" height="578.30" fill="url(#g17)"/>
<rect x="229.57" y="47.2" width="6.39" height="578.30" fill="url(#g18)"/>
<rect x="235.65" y="47.2" width="6.39" height="578.30" fill="url(#g19)"/>
<rect x="241.74" y="47.2" width="6.39" height="578.30" fill="url(#g20)"/>
<rect x="247.83" y="47.2" width="6.39" height="578.30" fill="url(#g21)"/>
<rect x="253.91" y="47.2" width="6.39" height="578.30" fill="url(#g22)"/>
<rect x="260.00" y="47.2" width="6.39" height="578.30" fill="url(#g23)"/>
<rect x="266.09" y="47.2" width="6.39" height="578.30" fill="url(#g24)"/>
<rect x="272.18" y="47.2" width="6.39" height="578.30" fill="url(#g25)"/>
<rect x="278.26" y="47.2" width="6.39" height="578.30" fill="url(#g26)"/>
<rect x="284.35" y="47.2" width="6.39" height="578.30" fill="url(#g27)"/>
<rect x="290.44" y="47.2" width="6.39" height="578.30" fill="url(#g28)"/>
<rect x="296.52" y="47.2" width="6.39" height="578.30" fill="url(#g29)"/>
<rect x="302.61" y="47.2" width="6.39" height="578.30" fill="url(#g30)"/>
<rect x="308.70" y="47.2" width="6.39" height="578.30" fill="url(#g31)"/>
<rect x="314.78" y="47.2" width="6.39" height="578.30" fill="url(#g32)"/>
<rect x="320.87" y="47.2" width="6.39" height="578.30" fill="url(#g33)"/>
<rect x="326.96" y="47.2" width="6.39" height="578.30" fill="url(#g34)"/>
<rect x="333.05" y="47.2" width="6.39" height="578.30" fill="url(#g35)"/>
<rect x="339.13" y="47.2" width="6.39" height="578.30" fill="url(#g36)"/>
<rect x="345.22" y="47.2" width="6.39" height="578.30" fill="url(#g37)"/>
<rect x="351.31" y="47.2" width="6.39" height="578.30" fill="url(#g38)"/>
<rect x="357.39" y="47.2" width="6.39" height="578.30" fill="url(#g39)"/>
<rect x="363.48" y="47.2" width="6.39" height="578.30" fill="url(#g40)"/>
<rect x="369.57" y="47.2" width="6.39" height="578.30" fill="url(#g41)"/>
<rect x="375.65" y="47.2" width="6.39" height="578.30" fill="url(#g42)"/>
<rect x="381.74" y="47.2" width="6.39" height="578.30" fill="url(#g43)"/>
<rect x="387.83" y="47.2" width="6.39" height="578.30" fill="url(#g44)"/>
<rect x="393.92" y="47.2" width="6.39" height="578.30" fill="url(#g45)"/>
<rect x="400.00" y="47.2" width="6.39" height="578.30" fill="url(#g46)"/>
<rect x="406.09" y="47.2" width="6.39" height="578.30" fill="url(#g47)"/>
<rect x="412.18" y="47.2" width="6.39" height="578.30" fill="url(#g48)"/>
<rect x="418.26" y="47.2" width="6.39" height="578.30" fill="url(#g49)"/>
<rect x="424.35" y="47.2" width="6.39" height="578.30" fill="url(#g50)"/>
<rect x="430.44" y="47.2" width="6.39" height="578.30" fill="url(#g51)"/>
<rect x="436.52" y="47.2" width="6.39" height="578.30" fill="url(#g52)"/>
<rect x="442.61" y="47.2" width="6.39" height="578.30" fill="url(#g53)"/>
<rect x="448.70" y="47.2" width="6.39" height="578.30" fill="url(#g54)"/>
<rect x="454.79" y="47.2" width="6.39" height="578.30" fill="url(#g55)"/>
<rect x="460.87" y="47.2" width="6.39" height="578.30" fill="url(#g56)"/>
<rect x="466.96" y="47.2" width="6.39" height="578.30" fill="url(#g57)"/>
<rect x="473.05" y="47.2" width="6.39" height="578.30" fill="url(#g58)"/>
<rect x="479.13" y="47.2" width="6.39" height="578.30" fill="url(#g59)"/>
<rect x="485.22" y="47.2" width="6.39" height="578.30" fill="url(#g60)"/>
<rect x="491.31" y="47.2" width="6.39" height="578.30" fill="url(#g61)"/>
<rect x="497.39" y="47.2" width="6.39" height="578.30" fill="url(#g62)"/>
<rect x="503.48" y="47.2" width="6.39" height="578.30" fill="url(#g63)"/>
<rect x="509.57" y="47.2" width="6.39" height="578.30" fill="url(#g64)"/>
<rect x="515.65" y="47.2" width="6.39" height="578.30" fill="url(#g65)"/>
<rect x="521.74" y="47.2" width="6.39" height="578.30" fill="url(#g66)"/>
<rect x="527.83" y="47.2" width="6.39" height="578.30" fill="url(#g67)"/>
<rect x="533.92" y="47.2" width="6.39" height="578.30" fill="url(#g68)"/>
<rect x="540.00" y="47.2" width="6.39" height="578.30" fill="url(#g69)"/>
<rect x="546.09" y="47.2" width="6.39" height="578.30" fill="url(#g70)"/>
<rect x="552.18" y="47.2" width="6.39" height="578.30" fill="url(#g71)"/>
<rect x="558.26" y="47.2" width="6.39" height="578.30" fill="url(#g72)"/>
<rect x="564.35" y="47.2" width="6.39" height="578.30" fill="url(#g73)"/>
<rect x="570.44" y="47.2" width="6.39" height="578.30" fill="url(#g74)"/>
<rect x="576.53" y="47.2" width="6.39" height="578.30" fill="url(#g75)"/>
<rect x="582.61" y="47.2" width="6.39" height="578.30" fill="url(#g76)"/>
<rect x="588.70" y="47.2" width="6.39" height="578.30" fill="url(#g77)"/>
<rect x="594.79" y="47.2" width="6.39" height="578.30" fill="url(#g78)"/>
<rect x="600.87" y="47.2" width="6.39" height="578.30" fill="url(#g79)"/>
<rect x="606.96" y="47.2" width="6.39" height="578.30" fill="url(#g80)"/>
<rect x="613.05" y="47.2" width="6.39" height="578.30" fill="url(#g81)"/>
<rect x="619.13" y="47.2" width="6.39" height="578.30" fill="url(#g82)"/>
<rect x="625.22" y="47.2" width="6.39" height="578.30" fill="url(#g83)"/>
<rect x="631.31" y="47.2" width="6.39" height="578.30" fill="url(#g84)"/>
<rect x="637.40" y="47.2" width="6.39" height="578.30" fill="url(#g85)"/>
<rect x="643.48" y="47.2" width="6.39" height="578.30" fill="url(#g86)"/>
<rect x="649.57" y="47.2" width="6.39" height="578.30" fill="url(#g87)"/>
<rect x="655.66" y="47.2" width="6.39" height="578.30" fill="url(#g88)"/>
<rect x="661.74" y="47.2" width="6.39" height="578.30" fill="url(#g89)"/>
<rect x="667.83" y="47.2" width="6.39" height="578.30" fill="url(#g90)"/>
<rect x="673.92" y="47.2" width="6.39" height="578.30" fill="url(#g91)"/>
<rect x="680.00" y="47.2" width="6.39" height="578.30" fill="url(#g92)"/>
<rect x="686.09" y="47.2" width="6.39" height="578.30" fill="url(#g93)"/>
<rect x="692.18" y="47.2" width="6.39" height="578.30" fill="url(#g94)"/>
<rect x="698.27" y="47.2" width="6.39" height="578.30" fill="url(#g95)"/>
<rect x="704.35" y="47.2" width="6.39" height="578.30" fill="url(#g96)"/>
<rect x="710.44" y="47.2" width="6.39" height="578.30" fill="url(#g97)"/>
<rect x="716.53" y="47.2" width="6.39" height="578.30" fill="url(#g98)"/>
<rect x="722.61" y="47.2" width="6.39" height="578.30" fill="url(#g99)"/>
<path d="M120.00 47.2V625.5M126.09 47.2V625.5M132.17 47.2V625.5M138.26 47.2V625.5M144.35 47.2V625.5M150.44 47.2V625.5M156.52 47.2V625.5M162.61 47.2V625.5M168.70 47.2V625.5M174.78 47.2V625.5M180.87 47.2V625.5M186.96 47.2V625.5M193.04 47.2V625.5M199.13 47.2V625.5M205.22 47.2V625.5M211.31 47.2V625.5M217.39 47.2V625.5M223.48 47.2V625.5M229.57 47.2V625.5M235.65 47.2V625.5M241.74 47.2V625.5M247.83 47.2V625.5M253.91 47.2V625.5M260.00 47.2V625.5M266.09 47.2V625.5M272.18 47.2V625.5M278.26 47.2V625.5M284.35 47.2V625.5M290.44 47.2V625.5M296.52 47.2V625.5M302.61 47.2V625.5M308.70 47.2V625.5M314.78 47.2V625.5M320.87 47.2V625.5M326.96 47.2V625.5M333.05 47.2V625.5M339.13 47.2V625.5M345.22 47.2V625.5M351.31 47.2V625.5M357.39 47.2V625.5M363.48 47.2V625.5M369.57 47.2V625.5M375.65 47.2V625.5M381.74 47.2V625.5M387.83 47.2V625.5M393.92 47.2V625.5M400.00 47.2V625.5M406.09 47.2V625.5M412.18 47.2V625.5M418.26 47.2V625.5M424.35 47.2V625.5M430.44 47.2V625.5M436.52 47.2V625.5M442.61 47.2V625.5M448.70 47.2V625.5M454.79 47.2V625.5M460.87 47.2V625.5M466.96 47.2V625.5M473.05 47.2V625.5M479.13 47.2V625.5M485.22 47.2V625.5M491.31 47.2V625.5M497.39 47.2V625.5M503.48 47.2V625.5M509.57 47.2V625.5M515.65 47.2V625.5M521.74 47.2V625.5M527.83 47.2V625.5M533.92 47.2V625.5M540.00 47.2V625.5M546.09 47.2V625.5M552.18 47.2V625.5M558.26 47.2V625.5M564.35 47.2V625.5M570.44 47.2V625.5M576.53 47.2V625.5M582.61 47.2V625.5M588.70 47.2V625.5M594.79 47.2V625.5M600.87 47.2V625.5M606.96 47.2V625.5M613.05 47.2V625.5M619.13 47.2V625.5M625.22 47.2V625.5M631.31 47.2V625.5M637.40 47.2V625.5M643.48 47.2V625.5M649.57 47.2V625.5M655.66 47.2V625.5M661.74 47.2V625.5M667.83 47.2V625.5M673.92 47.2V625.5M680.00 47.2V625.5M686.09 47.2V625.5M692.18 47.2V625.5M698.27 47.2V625.5M704.35 47.2V625.5M710.44 47.2V625.5M716.53 47.2V625.5M722.61 47.2V625.5M728.70 47.2V625.5" stroke="#111" stroke-width="1.55" fill="none"/>
<path d="M120.0 47.20H728.7M120.0 52.98H728.7M120.0 58.77H728.7M120.0 64.55H728.7M120.0 70.33H728.7M120.0 76.12H728.7M120.0 81.90H728.7M120.0 87.68H728.7M120.0 93.46H728.7M120.0 99.25H728.7M120.0 105.03H728.7M120.0 110.81H728.7M120.0 116.60H728.7M120.0 122.38H728.7M120.0 128.16H728.7M120.0 133.94H728.7M120.0 139.73H728.7M120.0 145.51H728.7M120.0 151.29H728.7M120.0 157.08H728.7M120.0 162.86H728.7M120.0 168.64H728.7M120.0 174.43H728.7M120.0 180.21H728.7M120.0 185.99H728.7M120.0 191.77H728.7M120.0 197.56H728.7M120.0 203.34H728.7M120.0 209.12H728.7M120.0 214.91H728.7M120.0 220.69H728.7M120.0 226.47H728.7M120.0 232.26H728.7M120.0 238.04H728.7M120.0 243.82H728.7M120.0 249.60H728.7M120.0 255.39H728.7M120.0 261.17H728.7M120.0 266.95H728.7M120.0 272.74H728.7M120.0 278.52H728.7M120.0 284.30H728.7M120.0 290.09H728.7M120.0 295.87H728.7M120.0 301.65H728.7M120.0 307.43H728.7M120.0 313.22H728.7M120.0 319.00H728.7M120.0 324.78H728.7M120.0 330.57H728.7M120.0 336.35H728.7M120.0 342.13H728.7M120.0 347.92H728.7M120.0 353.70H728.7M120.0 359.48H728.7M120.0 365.26H728.7M120.0 371.05H728.7M120.0 376.83H728.7M120.0 382.61H728.7M120.0 388.40H728.7M120.0 394.18H728.7M120.0 399.96H728.7M120.0 405.75H728.7M120.0 411.53H728.7M120.0 417.31H728.7M120.0 423.09H728.7M120.0 428.88H728.7M120.0 434.66H728.7M120.0 440.44H728.7M120.0 446.23H728.7M120.0 452.01H728.7M120.0 457.79H728.7M120.0 463.58H728.7M120.0 469.36H728.7M120.0 475.14H728.7M120.0 480.92H728.7M120.0 486.71H728.7M120.0 492.49H728.7M120.0 498.27H728.7M120.0 504.06H728.7M120.0 509.84H728.7M120.0 515.62H728.7M120.0 521.41H728.7M120.0 527.19H728.7M120.0 532.97H728.7M120.0 538.75H728.7M120.0 544.54H728.7M120.0 550.32H728.7M120.0 556.10H728.7M120.0 561.89H728.7M120.0 567.67H728.7M120.0 573.45H728.7M120.0 579.24H728.7M120.0 585.02H728.7M120.0 590.80H728.7M120.0 596.59H728.7M120.0 602.37H728.7M120.0 608.15H728.7M120.0 613.93H728.7M120.0 619.72H728.7M120.0 625.50H728.7" stroke="#111" stroke-width="1.25" fill="none"/>
<rect x="795.6" y="47.2" width="45.6" height="578.0" fill="url(#cb)" stroke="#363636" stroke-width="1.2"/>
<path d="M835.2 187.0H841.2" stroke="#363636" stroke-width="1.2"/>
<path d="M835.2 326.8H841.2" stroke="#363636" stroke-width="1.2"/>
<path d="M835.2 466.6H841.2" stroke="#363636" stroke-width="1.2"/>
<path d="M835.2 606.4H841.2" stroke="#363636" stroke-width="1.2"/>
<text transform="translate(851.54,59.88) scale(1.02,1)" font-family="'Liberation Sans', sans-serif" font-size="29" fill="#333333">0</text>
<text transform="translate(851.39,199.82) scale(1.02,1)" font-family="'Liberation Sans', sans-serif" font-size="29" fill="#333333">-2</text>
<text transform="translate(851.39,339.48) scale(1.02,1)" font-family="'Liberation Sans', sans-serif" font-size="29" fill="#333333">-4</text>
<text transform="translate(851.39,479.28) scale(1.02,1)" font-family="'Liberation Sans', sans-serif" font-size="29" fill="#333333">-6</text>
<text transform="translate(851.39,619.08) scale(1.02,1)" font-family="'Liberation Sans', sans-serif" font-size="29" fill="#333333">-8</text>
<text transform="translate(77.11,62.28) scale(0.98,1)" font-family="'Liberation Sans', sans-serif" font-size="34.5" fill="#333333">-8</text>
<text transform="translate(77.12,134.56) scale(0.98,1)" font-family="'Liberation Sans', sans-serif" font-size="34.5" fill="#333333">-6</text>
<text transform="translate(76.63,206.84) scale(0.98,1)" font-family="'Liberation Sans', sans-serif" font-size="34.5" fill="#333333">-4</text>
<text transform="translate(77.34,279.31) scale(0.98,1)" font-family="'Liberation Sans', sans-serif" font-size="34.5" fill="#333333">-2</text>
<text transform="translate(88.22,351.43) scale(0.98,1)" font-family="'Liberation Sans', sans-serif" font-size="34.5" fill="#333333">0</text>
<text transform="translate(88.60,423.88) scale(0.98,1)" font-family="'Liberation Sans', sans-serif" font-size="34.5" fill="#333333">2</text>
<text transform="translate(87.89,495.99) scale(0.98,1)" font-family="'Liberation Sans', sans-serif" font-size="34.5" fill="#333333">4</text>
<text transform="translate(88.38,568.29) scale(0.98,1)" font-family="'Liberation Sans', sans-serif" font-size="34.5" fill="#333333">6</text>
<text transform="translate(88.37,640.58) scale(0.98,1)" font-family="'Liberation Sans', sans-serif" font-size="34.5" fill="#333333">8</text>
<text transform="translate(110.10,674.38) scale(0.98,1)" font-family="'Liberation Sans', sans-serif" font-size="34.5" fill="#333333">0</text>
<text transform="translate(216.08,674.38) scale(0.94,1)" font-family="'Liberation Sans', sans-serif" font-size="34.5" fill="#333333">0.2</text>
<text transform="translate(337.48,674.38) scale(0.94,1)" font-family="'Liberation Sans', sans-serif" font-size="34.5" fill="#333333">0.4</text>
<text transform="translate(459.46,674.38) scale(0.94,1)" font-family="'Liberation Sans', sans-serif" font-size="34.5" fill="#333333">0.6</text>
<text transform="translate(581.19,674.38) scale(0.94,1)" font-family="'Liberation Sans', sans-serif" font-size="34.5" fill="#333333">0.8</text>
<text transform="translate(717.44,674.37) scale(0.98,1)" font-family="'Liberation Sans', sans-serif" font-size="34.5" fill="#333333">1</text>
<text transform="translate(26,33.5) scale(0.83,1)" font-family="'Liberation Sans', sans-serif" font-weight="bold" font-size="50" fill="#000">a</text>
<text transform="translate(-2.5,822.8) scale(0.86,1)" font-family="'Liberation Sans', sans-serif" font-weight="bold" font-size="50" fill="#000">b</text>
<text transform="translate(-1.5,1607.8) scale(0.83,1)" font-family="'Liberation Sans', sans-serif" font-weight="bold" font-size="50" fill="#000">c</text>
<rect x="115.9" y="829.8" width="730.5" height="577.8" fill="none" stroke="#363636" stroke-width="1.55"/>
<path d="M262.0 1407.6v-8M262.0 829.8v8M408.1 1407.6v-8M408.1 829.8v8M554.2 1407.6v-8M554.2 829.8v8M700.3 1407.6v-8M700.3 829.8v8M115.9 1271.2h8M846.4 1271.2h-8M115.9 1135.2h8M846.4 1135.2h-8M115.9 999.2h8M846.4 999.2h-8M115.9 863.2h8M846.4 863.2h-8" stroke="#363636" stroke-width="1.55" fill="none"/>
<path d="M115.9 863.9H846.4" stroke="#3250a8" stroke-width="6.2"/>
<polyline points="115.90,863.20 119.55,873.89 123.21,884.42 126.86,894.77 130.51,904.93 134.16,914.91 137.81,924.70 141.47,934.29 145.12,943.67 148.77,952.84 152.43,961.80 156.08,970.57 159.73,979.19 163.38,987.66 167.04,995.95 170.69,1004.09 174.34,1012.04 177.99,1019.82 181.65,1027.42 185.30,1034.83 188.95,1042.04 192.60,1049.08 196.25,1055.98 199.91,1062.73 203.56,1069.34 207.21,1075.80 210.87,1082.12 214.52,1088.30 218.17,1094.33 221.82,1100.22 225.48,1105.96 229.13,1111.59 232.78,1117.13 236.43,1122.57 240.09,1127.90 243.74,1133.10 247.39,1138.18 251.04,1143.11 254.69,1147.89 258.35,1152.51 262.00,1156.96 265.65,1161.27 269.31,1165.47 272.96,1169.57 276.61,1173.55 280.26,1177.43 283.92,1181.19 287.57,1184.83 291.22,1188.35 294.87,1191.76 298.52,1195.04 302.18,1198.22 305.83,1201.31 309.48,1204.31 313.13,1207.23 316.79,1210.06 320.44,1212.80 324.09,1215.46 327.75,1218.03 331.40,1220.52 335.05,1222.92 338.70,1225.25 342.36,1227.54 346.01,1229.76 349.66,1231.93 353.31,1234.03 356.97,1236.05 360.62,1238.00 364.27,1239.86 367.92,1241.64 371.58,1243.32 375.23,1244.92 378.88,1246.45 382.53,1247.92 386.19,1249.34 389.84,1250.70 393.49,1252.02 397.14,1253.30 400.79,1254.54 404.45,1255.74 408.10,1256.92 411.75,1258.08 415.40,1259.21 419.06,1260.32 422.71,1261.41 426.36,1262.46 430.01,1263.47 433.67,1264.45 437.32,1265.39 440.97,1266.28 444.62,1267.12 448.28,1267.92 451.93,1268.69 455.58,1269.44 459.24,1270.15 462.89,1270.84 466.54,1271.50 470.19,1272.14 473.85,1272.76 477.50,1273.35 481.15,1273.92 484.80,1274.47 488.46,1274.99 492.11,1275.49 495.76,1275.98 499.41,1276.45 503.07,1276.91 506.72,1277.36 510.37,1277.80 514.02,1278.24 517.68,1278.68 521.33,1279.12 524.98,1279.56 528.63,1280.00 532.29,1280.44 535.94,1280.86 539.59,1281.28 543.24,1281.68 546.89,1282.06 550.55,1282.42 554.20,1282.76 557.85,1283.08 561.50,1283.39 565.16,1283.68 568.81,1283.96 572.46,1284.24 576.12,1284.50 579.77,1284.76 583.42,1285.00 587.07,1285.24 590.73,1285.48 594.38,1285.71 598.03,1285.94 601.68,1286.16 605.34,1286.38 608.99,1286.59 612.64,1286.79 616.29,1286.99 619.95,1287.17 623.60,1287.35 627.25,1287.52 630.90,1287.68 634.55,1287.83 638.21,1287.97 641.86,1288.10 645.51,1288.23 649.16,1288.36 652.82,1288.49 656.47,1288.62 660.12,1288.75 663.77,1288.88 667.43,1289.02 671.08,1289.17 674.73,1289.32 678.38,1289.47 682.04,1289.62 685.69,1289.76 689.34,1289.90 693.00,1290.03 696.65,1290.14 700.30,1290.24 703.95,1290.33 707.61,1290.41 711.26,1290.48 714.91,1290.54 718.56,1290.61 722.22,1290.67 725.87,1290.73 729.52,1290.79 733.17,1290.85 736.82,1290.92 740.48,1290.99 744.13,1291.06 747.78,1291.14 751.43,1291.21 755.09,1291.29 758.74,1291.36 762.39,1291.43 766.04,1291.49 769.70,1291.55 773.35,1291.60 777.00,1291.64 780.65,1291.68 784.31,1291.72 787.96,1291.75 791.61,1291.78 795.26,1291.81 798.92,1291.85 802.57,1291.88 806.22,1291.91 809.88,1291.94 813.53,1291.97 817.18,1292.01 820.83,1292.04 824.49,1292.08 828.14,1292.11 831.79,1292.14 835.44,1292.18 839.10,1292.21 842.75,1292.25 846.40,1292.28" fill="none" stroke="#df2f1f" stroke-width="2.8" stroke-linejoin="round"/>
<path d="M115.90 854.20L122.40 863.20L115.90 872.20L109.40 863.20Z" stroke="#df2f1f" stroke-width="2.45" fill="none"/>
<path d="M152.43 988.84L158.93 997.84L152.43 1006.84L145.93 997.84Z" stroke="#df2f1f" stroke-width="2.45" fill="none"/>
<path d="M188.95 1069.76L195.45 1078.76L188.95 1087.76L182.45 1078.76Z" stroke="#df2f1f" stroke-width="2.45" fill="none"/>
<path d="M225.48 1136.40L231.98 1145.40L225.48 1154.40L218.98 1145.40Z" stroke="#df2f1f" stroke-width="2.45" fill="none"/>
<path d="M262.00 1197.60L268.50 1206.60L262.00 1215.60L255.50 1206.60Z" stroke="#df2f1f" stroke-width="2.45" fill="none"/>
<path d="M298.52 1239.76L305.02 1248.76L298.52 1257.76L292.02 1248.76Z" stroke="#df2f1f" stroke-width="2.45" fill="none"/>
<path d="M335.05 1271.04L341.55 1280.04L335.05 1289.04L328.55 1280.04Z" stroke="#df2f1f" stroke-width="2.45" fill="none"/>
<path d="M371.58 1296.88L378.08 1305.88L371.58 1314.88L365.08 1305.88Z" stroke="#df2f1f" stroke-width="2.45" fill="none"/>
<path d="M408.10 1313.20L414.60 1322.20L408.10 1331.20L401.60 1322.20Z" stroke="#df2f1f" stroke-width="2.45" fill="none"/>
<path d="M444.62 1325.44L451.12 1334.44L444.62 1343.44L438.12 1334.44Z" stroke="#df2f1f" stroke-width="2.45" fill="none"/>
<path d="M481.15 1332.92L487.65 1341.92L481.15 1350.92L474.65 1341.92Z" stroke="#df2f1f" stroke-width="2.45" fill="none"/>
<path d="M517.68 1338.36L524.18 1347.36L517.68 1356.36L511.18 1347.36Z" stroke="#df2f1f" stroke-width="2.45" fill="none"/>
<path d="M554.20 1342.44L560.70 1351.44L554.20 1360.44L547.70 1351.44Z" stroke="#df2f1f" stroke-width="2.45" fill="none"/>
<path d="M590.73 1345.84L597.23 1354.84L590.73 1363.84L584.23 1354.84Z" stroke="#df2f1f" stroke-width="2.45" fill="none"/>
<path d="M627.25 1347.20L633.75 1356.20L627.25 1365.20L620.75 1356.20Z" stroke="#df2f1f" stroke-width="2.45" fill="none"/>
<path d="M663.77 1348.56L670.27 1357.56L663.77 1366.56L657.27 1357.56Z" stroke="#df2f1f" stroke-width="2.45" fill="none"/>
<path d="M700.30 1348.56L706.80 1357.56L700.30 1366.56L693.80 1357.56Z" stroke="#df2f1f" stroke-width="2.45" fill="none"/>
<path d="M736.83 1348.56L743.33 1357.56L736.83 1366.56L730.33 1357.56Z" stroke="#df2f1f" stroke-width="2.45" fill="none"/>
<path d="M773.35 1349.24L779.85 1358.24L773.35 1367.24L766.85 1358.24Z" stroke="#df2f1f" stroke-width="2.45" fill="none"/>
<path d="M809.88 1349.92L816.38 1358.92L809.88 1367.92L803.38 1358.92Z" stroke="#df2f1f" stroke-width="2.45" fill="none"/>
<path d="M846.40 1349.92L852.90 1358.92L846.40 1367.92L839.90 1358.92Z" stroke="#df2f1f" stroke-width="2.45" fill="none"/>
<rect x="110.65" y="857.95" width="10.5" height="10.5" stroke="#df2f1f" stroke-width="2.4" fill="none"/>
<rect x="147.18" y="966.75" width="10.5" height="10.5" stroke="#df2f1f" stroke-width="2.4" fill="none"/>
<rect x="183.70" y="1046.99" width="10.5" height="10.5" stroke="#df2f1f" stroke-width="2.4" fill="none"/>
<rect x="220.23" y="1114.99" width="10.5" height="10.5" stroke="#df2f1f" stroke-width="2.4" fill="none"/>
<rect x="256.75" y="1169.39" width="10.5" height="10.5" stroke="#df2f1f" stroke-width="2.4" fill="none"/>
<rect x="293.27" y="1209.51" width="10.5" height="10.5" stroke="#df2f1f" stroke-width="2.4" fill="none"/>
<rect x="329.80" y="1239.43" width="10.5" height="10.5" stroke="#df2f1f" stroke-width="2.4" fill="none"/>
<rect x="366.33" y="1263.23" width="10.5" height="10.5" stroke="#df2f1f" stroke-width="2.4" fill="none"/>
<rect x="402.85" y="1278.87" width="10.5" height="10.5" stroke="#df2f1f" stroke-width="2.4" fill="none"/>
<rect x="439.38" y="1290.43" width="10.5" height="10.5" stroke="#df2f1f" stroke-width="2.4" fill="none"/>
<rect x="475.90" y="1296.55" width="10.5" height="10.5" stroke="#df2f1f" stroke-width="2.4" fill="none"/>
<rect x="512.43" y="1303.35" width="10.5" height="10.5" stroke="#df2f1f" stroke-width="2.4" fill="none"/>
<rect x="548.95" y="1307.43" width="10.5" height="10.5" stroke="#df2f1f" stroke-width="2.4" fill="none"/>
<rect x="585.48" y="1308.79" width="10.5" height="10.5" stroke="#df2f1f" stroke-width="2.4" fill="none"/>
<rect x="622.00" y="1310.15" width="10.5" height="10.5" stroke="#df2f1f" stroke-width="2.4" fill="none"/>
<rect x="658.52" y="1312.19" width="10.5" height="10.5" stroke="#df2f1f" stroke-width="2.4" fill="none"/>
<rect x="695.05" y="1312.19" width="10.5" height="10.5" stroke="#df2f1f" stroke-width="2.4" fill="none"/>
<rect x="731.58" y="1312.19" width="10.5" height="10.5" stroke="#df2f1f" stroke-width="2.4" fill="none"/>
<rect x="768.10" y="1314.23" width="10.5" height="10.5" stroke="#df2f1f" stroke-width="2.4" fill="none"/>
<rect x="804.62" y="1314.23" width="10.5" height="10.5" stroke="#df2f1f" stroke-width="2.4" fill="none"/>
<rect x="841.15" y="1314.23" width="10.5" height="10.5" stroke="#df2f1f" stroke-width="2.4" fill="none"/>
<path d="M108.20 863.20H123.60M115.90 855.50V870.90M109.89 857.19L121.91 869.21M109.89 869.21L121.91 857.19" stroke="#df2f1f" stroke-width="2.3" fill="none"/>
<path d="M144.73 961.80H160.12M152.43 954.10V969.50M146.42 955.79L158.43 967.81M146.42 967.81L158.43 955.79" stroke="#df2f1f" stroke-width="2.3" fill="none"/>
<path d="M181.25 1042.38H196.65M188.95 1034.68V1050.08M182.94 1036.37L194.96 1048.39M182.94 1048.39L194.96 1036.37" stroke="#df2f1f" stroke-width="2.3" fill="none"/>
<path d="M217.78 1105.96H233.18M225.48 1098.26V1113.66M219.47 1099.95L231.48 1111.97M219.47 1111.97L231.48 1099.95" stroke="#df2f1f" stroke-width="2.3" fill="none"/>
<path d="M254.30 1158.32H269.70M262.00 1150.62V1166.02M255.99 1152.31L268.01 1164.33M255.99 1164.33L268.01 1152.31" stroke="#df2f1f" stroke-width="2.3" fill="none"/>
<path d="M290.82 1197.76H306.22M298.52 1190.06V1205.46M292.52 1191.75L304.53 1203.77M292.52 1203.77L304.53 1191.75" stroke="#df2f1f" stroke-width="2.3" fill="none"/>
<path d="M327.35 1225.64H342.75M335.05 1217.94V1233.34M329.04 1219.63L341.06 1231.65M329.04 1231.65L341.06 1219.63" stroke="#df2f1f" stroke-width="2.3" fill="none"/>
<path d="M363.88 1248.76H379.28M371.58 1241.06V1256.46M365.57 1242.75L377.58 1254.77M365.57 1254.77L377.58 1242.75" stroke="#df2f1f" stroke-width="2.3" fill="none"/>
<path d="M400.40 1263.72H415.80M408.10 1256.02V1271.42M402.09 1257.71L414.11 1269.73M402.09 1269.73L414.11 1257.71" stroke="#df2f1f" stroke-width="2.3" fill="none"/>
<path d="M436.93 1275.28H452.32M444.62 1267.58V1282.98M438.62 1269.27L450.63 1281.29M438.62 1281.29L450.63 1269.27" stroke="#df2f1f" stroke-width="2.3" fill="none"/>
<path d="M473.45 1282.08H488.85M481.15 1274.38V1289.78M475.14 1276.07L487.16 1288.09M475.14 1288.09L487.16 1276.07" stroke="#df2f1f" stroke-width="2.3" fill="none"/>
<path d="M509.98 1287.52H525.38M517.68 1279.82V1295.22M511.67 1281.51L523.68 1293.53M511.67 1293.53L523.68 1281.51" stroke="#df2f1f" stroke-width="2.3" fill="none"/>
<path d="M546.50 1292.28H561.90M554.20 1284.58V1299.98M548.19 1286.27L560.21 1298.29M548.19 1298.29L560.21 1286.27" stroke="#df2f1f" stroke-width="2.3" fill="none"/>
<path d="M583.02 1294.32H598.43M590.73 1286.62V1302.02M584.72 1288.31L596.73 1300.33M584.72 1300.33L596.73 1288.31" stroke="#df2f1f" stroke-width="2.3" fill="none"/>
<path d="M619.55 1295.68H634.95M627.25 1287.98V1303.38M621.24 1289.67L633.26 1301.69M621.24 1301.69L633.26 1289.67" stroke="#df2f1f" stroke-width="2.3" fill="none"/>
<path d="M656.07 1296.02H671.48M663.77 1288.32V1303.72M657.77 1290.01L669.78 1302.03M657.77 1302.03L669.78 1290.01" stroke="#df2f1f" stroke-width="2.3" fill="none"/>
<path d="M692.60 1297.04H708.00M700.30 1289.34V1304.74M694.29 1291.03L706.31 1303.05M694.29 1303.05L706.31 1291.03" stroke="#df2f1f" stroke-width="2.3" fill="none"/>
<path d="M729.12 1297.04H744.53M736.83 1289.34V1304.74M730.82 1291.03L742.83 1303.05M730.82 1303.05L742.83 1291.03" stroke="#df2f1f" stroke-width="2.3" fill="none"/>
<path d="M765.65 1297.04H781.05M773.35 1289.34V1304.74M767.34 1291.03L779.36 1303.05M767.34 1303.05L779.36 1291.03" stroke="#df2f1f" stroke-width="2.3" fill="none"/>
<path d="M802.17 1297.04H817.58M809.88 1289.34V1304.74M803.87 1291.03L815.88 1303.05M803.87 1303.05L815.88 1291.03" stroke="#df2f1f" stroke-width="2.3" fill="none"/>
<path d="M838.70 1297.04H854.10M846.40 1289.34V1304.74M840.39 1291.03L852.41 1303.05M840.39 1303.05L852.41 1291.03" stroke="#df2f1f" stroke-width="2.3" fill="none"/>
<text transform="translate(83.92,878.18) scale(0.98,1)" font-family="'Liberation Sans', sans-serif" font-size="34.5" fill="#333333">0</text>
<text transform="translate(73.04,1014.34) scale(0.98,1)" font-family="'Liberation Sans', sans-serif" font-size="34.5" fill="#333333">-2</text>
<text transform="translate(72.33,1150.17) scale(0.98,1)" font-family="'Liberation Sans', sans-serif" font-size="34.5" fill="#333333">-4</text>
<text transform="translate(72.82,1286.18) scale(0.98,1)" font-family="'Liberation Sans', sans-serif" font-size="34.5" fill="#333333">-6</text>
<text transform="translate(72.81,1422.18) scale(0.98,1)" font-family="'Liberation Sans', sans-serif" font-size="34.5" fill="#333333">-8</text>
<text transform="translate(105.90,1457.18) scale(0.98,1)" font-family="'Liberation Sans', sans-serif" font-size="34.5" fill="#333333">0</text>
<text transform="translate(236.64,1457.18) scale(0.94,1)" font-family="'Liberation Sans', sans-serif" font-size="34.5" fill="#333333">0.2</text>
<text transform="translate(382.40,1457.18) scale(0.94,1)" font-family="'Liberation Sans', sans-serif" font-size="34.5" fill="#333333">0.4</text>
<text transform="translate(528.74,1457.18) scale(0.94,1)" font-family="'Liberation Sans', sans-serif" font-size="34.5" fill="#333333">0.6</text>
<text transform="translate(674.83,1457.18) scale(0.94,1)" font-family="'Liberation Sans', sans-serif" font-size="34.5" fill="#333333">0.8</text>
<text transform="translate(835.54,1457.17) scale(0.98,1)" font-family="'Liberation Sans', sans-serif" font-size="34.5" fill="#333333">1</text>
<rect x="622.3" y="1020.5" width="202.8" height="197.0" fill="#fff" stroke="#363636" stroke-width="1.55"/>
<path d="M629.6 1046.6H679.3" stroke="#df2f1f" stroke-width="2.6"/>
<path d="M645.60 1095.00H661.00M653.30 1087.30V1102.70M647.29 1088.99L659.31 1101.01M647.29 1101.01L659.31 1088.99" stroke="#df2f1f" stroke-width="2.3" fill="none"/>
<rect x="648.05" y="1137.05" width="10.5" height="10.5" stroke="#df2f1f" stroke-width="2.4" fill="none"/>
<path d="M653.30 1181.60L659.80 1190.60L653.30 1199.60L646.80 1190.60Z" stroke="#df2f1f" stroke-width="2.45" fill="none"/>
<text x="685.3" y="1052.6" font-family="'Liberation Serif', serif" font-style="italic" font-size="25" fill="#000">ϵ</text>
<text x="697.1" y="1065.9" font-family="'Liberation Sans', sans-serif" font-size="20.5" fill="#000">m</text>
<text x="718.8" y="1052.6" font-family="'Liberation Sans', sans-serif" font-size="24.5" fill="#000">=</text>
<text x="739.3" y="1052.6" font-family="'Liberation Sans', sans-serif" font-size="24.5" fill="#000">0</text>
<text x="767.1" y="1052.6" font-family="'Liberation Sans', sans-serif" font-size="24.5" fill="#000" textLength="45.5" lengthAdjust="spacingAndGlyphs">μeV</text>
<text x="685.3" y="1101.0" font-family="'Liberation Serif', serif" font-style="italic" font-size="25" fill="#000">ϵ</text>
<text x="697.1" y="1114.3" font-family="'Liberation Sans', sans-serif" font-size="20.5" fill="#000">m</text>
<text x="718.8" y="1101.0" font-family="'Liberation Sans', sans-serif" font-size="24.5" fill="#000">=</text>
<text x="739.3" y="1101.0" font-family="'Liberation Sans', sans-serif" font-size="24.5" fill="#000">2</text>
<text x="767.1" y="1101.0" font-family="'Liberation Sans', sans-serif" font-size="24.5" fill="#000" textLength="45.5" lengthAdjust="spacingAndGlyphs">μeV</text>
<text x="685.3" y="1148.3" font-family="'Liberation Serif', serif" font-style="italic" font-size="25" fill="#000">ϵ</text>
<text x="697.1" y="1161.6" font-family="'Liberation Sans', sans-serif" font-size="20.5" fill="#000">m</text>
<text x="718.8" y="1148.3" font-family="'Liberation Sans', sans-serif" font-size="24.5" fill="#000">=</text>
<text x="739.3" y="1148.3" font-family="'Liberation Sans', sans-serif" font-size="24.5" fill="#000">4</text>
<text x="767.1" y="1148.3" font-family="'Liberation Sans', sans-serif" font-size="24.5" fill="#000" textLength="45.5" lengthAdjust="spacingAndGlyphs">μeV</text>
<text x="685.3" y="1196.6" font-family="'Liberation Serif', serif" font-style="italic" font-size="25" fill="#000">ϵ</text>
<text x="697.1" y="1209.9" font-family="'Liberation Sans', sans-serif" font-size="20.5" fill="#000">m</text>
<text x="718.8" y="1196.6" font-family="'Liberation Sans', sans-serif" font-size="24.5" fill="#000">=</text>
<text x="739.3" y="1196.6" font-family="'Liberation Sans', sans-serif" font-size="24.5" fill="#000">6</text>
<text x="767.1" y="1196.6" font-family="'Liberation Sans', sans-serif" font-size="24.5" fill="#000" textLength="45.5" lengthAdjust="spacingAndGlyphs">μeV</text>
<text x="465" y="916.3" font-family="'Liberation Serif', serif" font-size="36" fill="#000" textLength="316" lengthAdjust="spacingAndGlyphs"><tspan font-style="italic">R</tspan><tspan font-style="italic" dy="7" font-size="30">x</tspan><tspan dy="-7">(</tspan><tspan font-style="italic">θ</tspan> = <tspan font-style="italic">π</tspan>) operation</text>
<text x="494.7" y="1260" font-family="'Liberation Serif', serif" font-size="36" fill="#000" textLength="333.8" lengthAdjust="spacingAndGlyphs"><tspan font-style="italic">R</tspan><tspan font-style="italic" dy="7" font-size="30">x</tspan><tspan dy="-7">(</tspan><tspan font-style="italic">θ</tspan> = 2<tspan font-style="italic">π</tspan>) operation</text>
<rect x="121.2" y="1627.6" width="730.4" height="577.5" fill="none" stroke="#363636" stroke-width="1.55"/>
<path d="M303.8 2205.1v-8M303.8 1627.6v8M486.4 2205.1v-8M486.4 1627.6v8M669.0 2205.1v-8M669.0 1627.6v8M121.2 2169.2h8M851.6 2169.2h-8M121.2 1988.7h8M851.6 1988.7h-8M121.2 1808.3h8M851.6 1808.3h-8" stroke="#363636" stroke-width="1.55" fill="none"/>
<polyline points="157.72,2158.37 163.55,2158.32 169.38,2158.27 175.21,2158.20 181.04,2158.13 186.87,2158.05 192.71,2157.96 198.54,2157.87 204.37,2157.77 210.20,2157.66 216.03,2157.54 221.86,2157.41 227.69,2157.28 233.52,2157.14 239.35,2156.99 245.18,2156.83 251.01,2156.67 256.85,2156.49 262.68,2156.31 268.51,2156.12 274.34,2155.92 280.17,2155.72 286.00,2155.50 291.83,2155.28 297.66,2155.04 303.49,2154.80 309.32,2154.55 315.15,2154.29 320.99,2154.02 326.82,2153.74 332.65,2153.45 338.48,2153.15 344.31,2152.85 350.14,2152.53 355.97,2152.20 361.80,2151.86 367.63,2151.51 373.46,2151.16 379.30,2150.79 385.13,2150.41 390.96,2150.02 396.79,2149.61 402.62,2149.20 408.45,2148.77 414.28,2148.34 420.11,2147.89 425.94,2147.43 431.77,2146.96 437.60,2146.47 443.44,2145.98 449.27,2145.47 455.10,2144.94 460.93,2144.41 466.76,2143.86 472.59,2143.30 478.42,2142.72 484.25,2142.13 490.08,2141.53 495.91,2140.91 501.74,2140.27 507.58,2139.63 513.41,2138.96 519.24,2138.28 525.07,2137.59 530.90,2136.88 536.73,2136.16 542.56,2135.41 548.39,2134.65 554.22,2133.88 560.05,2133.09 565.88,2132.28 571.72,2131.45 577.55,2130.61 583.38,2129.74 589.21,2128.86 595.04,2127.96 600.87,2127.04 606.70,2126.10 612.53,2125.15 618.36,2124.17 624.19,2123.17 630.02,2122.15 635.86,2121.11 641.69,2120.05 647.52,2118.97 653.35,2117.87 659.18,2116.75 665.01,2115.60 670.84,2114.43 676.67,2113.24 682.50,2112.02 688.33,2110.78 694.17,2109.52 700.00,2108.23 705.83,2106.92 711.66,2105.58 717.49,2104.22 723.32,2102.83 729.15,2101.41 734.98,2099.97 740.81,2098.50 746.64,2097.01 752.47,2095.48 758.31,2093.93 764.14,2092.35 769.97,2090.75 775.80,2089.11 781.63,2087.44 787.46,2085.75 793.29,2084.02 799.12,2082.26 804.95,2080.47 810.78,2078.65 816.61,2076.80 822.45,2074.92 828.28,2073.00 834.11,2071.05 839.94,2069.06 845.77,2067.05 851.60,2064.99" fill="none" stroke="#df2f1f" stroke-width="2.8" stroke-linejoin="round"/>
<path d="M157.72 1964.59L164.22 1973.59L157.72 1982.59L151.22 1973.59Z" stroke="#df2f1f" stroke-width="2.45" fill="none"/>
<path d="M194.24 1962.79L200.74 1971.79L194.24 1980.79L187.74 1971.79Z" stroke="#df2f1f" stroke-width="2.45" fill="none"/>
<path d="M230.76 1961.34L237.26 1970.34L230.76 1979.34L224.26 1970.34Z" stroke="#df2f1f" stroke-width="2.45" fill="none"/>
<path d="M267.28 1958.10L273.78 1967.10L267.28 1976.10L260.78 1967.10Z" stroke="#df2f1f" stroke-width="2.45" fill="none"/>
<path d="M303.80 1951.96L310.30 1960.96L303.80 1969.96L297.30 1960.96Z" stroke="#df2f1f" stroke-width="2.45" fill="none"/>
<path d="M340.32 1947.63L346.82 1956.63L340.32 1965.63L333.82 1956.63Z" stroke="#df2f1f" stroke-width="2.45" fill="none"/>
<path d="M376.84 1940.77L383.34 1949.77L376.84 1958.77L370.34 1949.77Z" stroke="#df2f1f" stroke-width="2.45" fill="none"/>
<path d="M413.36 1933.55L419.86 1942.55L413.36 1951.55L406.86 1942.55Z" stroke="#df2f1f" stroke-width="2.45" fill="none"/>
<path d="M449.88 1923.81L456.38 1932.81L449.88 1941.81L443.38 1932.81Z" stroke="#df2f1f" stroke-width="2.45" fill="none"/>
<path d="M486.40 1912.98L492.90 1921.98L486.40 1930.98L479.90 1921.98Z" stroke="#df2f1f" stroke-width="2.45" fill="none"/>
<path d="M522.92 1899.63L529.42 1908.63L522.92 1917.63L516.42 1908.63Z" stroke="#df2f1f" stroke-width="2.45" fill="none"/>
<path d="M559.44 1881.95L565.94 1890.95L559.44 1899.95L552.94 1890.95Z" stroke="#df2f1f" stroke-width="2.45" fill="none"/>
<path d="M595.96 1865.34L602.46 1874.34L595.96 1883.34L589.46 1874.34Z" stroke="#df2f1f" stroke-width="2.45" fill="none"/>
<path d="M632.48 1841.89L638.98 1850.89L632.48 1859.89L625.98 1850.89Z" stroke="#df2f1f" stroke-width="2.45" fill="none"/>
<path d="M669.00 1823.48L675.50 1832.48L669.00 1841.48L662.50 1832.48Z" stroke="#df2f1f" stroke-width="2.45" fill="none"/>
<path d="M705.52 1789.56L712.02 1798.56L705.52 1807.56L699.02 1798.56Z" stroke="#df2f1f" stroke-width="2.45" fill="none"/>
<path d="M742.04 1779.09L748.54 1788.09L742.04 1797.09L735.54 1788.09Z" stroke="#df2f1f" stroke-width="2.45" fill="none"/>
<path d="M778.56 1755.63L785.06 1764.63L778.56 1773.63L772.06 1764.63Z" stroke="#df2f1f" stroke-width="2.45" fill="none"/>
<path d="M815.08 1698.61L821.58 1707.61L815.08 1716.61L808.58 1707.61Z" stroke="#df2f1f" stroke-width="2.45" fill="none"/>
<path d="M851.60 1696.80L858.10 1705.80L851.60 1714.80L845.10 1705.80Z" stroke="#df2f1f" stroke-width="2.45" fill="none"/>
<rect x="152.47" y="2079.14" width="10.5" height="10.5" stroke="#df2f1f" stroke-width="2.4" fill="none"/>
<rect x="188.99" y="2079.14" width="10.5" height="10.5" stroke="#df2f1f" stroke-width="2.4" fill="none"/>
<rect x="225.51" y="2077.69" width="10.5" height="10.5" stroke="#df2f1f" stroke-width="2.4" fill="none"/>
<rect x="262.03" y="2076.25" width="10.5" height="10.5" stroke="#df2f1f" stroke-width="2.4" fill="none"/>
<rect x="298.55" y="2073.36" width="10.5" height="10.5" stroke="#df2f1f" stroke-width="2.4" fill="none"/>
<rect x="335.07" y="2071.56" width="10.5" height="10.5" stroke="#df2f1f" stroke-width="2.4" fill="none"/>
<rect x="371.59" y="2065.42" width="10.5" height="10.5" stroke="#df2f1f" stroke-width="2.4" fill="none"/>
<rect x="408.11" y="2062.54" width="10.5" height="10.5" stroke="#df2f1f" stroke-width="2.4" fill="none"/>
<rect x="444.63" y="2056.04" width="10.5" height="10.5" stroke="#df2f1f" stroke-width="2.4" fill="none"/>
<rect x="481.15" y="2050.99" width="10.5" height="10.5" stroke="#df2f1f" stroke-width="2.4" fill="none"/>
<rect x="517.67" y="2042.33" width="10.5" height="10.5" stroke="#df2f1f" stroke-width="2.4" fill="none"/>
<rect x="554.19" y="2035.83" width="10.5" height="10.5" stroke="#df2f1f" stroke-width="2.4" fill="none"/>
<rect x="590.71" y="2025.36" width="10.5" height="10.5" stroke="#df2f1f" stroke-width="2.4" fill="none"/>
<rect x="627.23" y="2013.82" width="10.5" height="10.5" stroke="#df2f1f" stroke-width="2.4" fill="none"/>
<rect x="663.75" y="2002.27" width="10.5" height="10.5" stroke="#df2f1f" stroke-width="2.4" fill="none"/>
<rect x="700.27" y="1986.75" width="10.5" height="10.5" stroke="#df2f1f" stroke-width="2.4" fill="none"/>
<rect x="736.79" y="1970.15" width="10.5" height="10.5" stroke="#df2f1f" stroke-width="2.4" fill="none"/>
<rect x="773.31" y="1956.79" width="10.5" height="10.5" stroke="#df2f1f" stroke-width="2.4" fill="none"/>
<rect x="809.83" y="1929.73" width="10.5" height="10.5" stroke="#df2f1f" stroke-width="2.4" fill="none"/>
<rect x="846.35" y="1914.57" width="10.5" height="10.5" stroke="#df2f1f" stroke-width="2.4" fill="none"/>
<path d="M150.02 2140.33H165.42M157.72 2132.63V2148.03M151.71 2134.32L163.73 2146.33M151.71 2146.33L163.73 2134.32" stroke="#df2f1f" stroke-width="2.3" fill="none"/>
<path d="M186.54 2140.33H201.94M194.24 2132.63V2148.03M188.23 2134.32L200.25 2146.33M188.23 2146.33L200.25 2134.32" stroke="#df2f1f" stroke-width="2.3" fill="none"/>
<path d="M223.06 2140.33H238.46M230.76 2132.63V2148.03M224.75 2134.32L236.77 2146.33M224.75 2146.33L236.77 2134.32" stroke="#df2f1f" stroke-width="2.3" fill="none"/>
<path d="M259.58 2139.25H274.98M267.28 2131.55V2146.95M261.27 2133.24L273.29 2145.25M261.27 2145.25L273.29 2133.24" stroke="#df2f1f" stroke-width="2.3" fill="none"/>
<path d="M296.10 2137.08H311.50M303.80 2129.38V2144.78M297.79 2131.07L309.81 2143.09M297.79 2143.09L309.81 2131.07" stroke="#df2f1f" stroke-width="2.3" fill="none"/>
<path d="M332.62 2133.47H348.02M340.32 2125.77V2141.17M334.31 2127.46L346.33 2139.48M334.31 2139.48L346.33 2127.46" stroke="#df2f1f" stroke-width="2.3" fill="none"/>
<path d="M369.14 2131.67H384.54M376.84 2123.97V2139.37M370.83 2125.66L382.85 2137.67M370.83 2137.67L382.85 2125.66" stroke="#df2f1f" stroke-width="2.3" fill="none"/>
<path d="M405.66 2128.06H421.06M413.36 2120.36V2135.76M407.35 2122.05L419.37 2134.06M407.35 2134.06L419.37 2122.05" stroke="#df2f1f" stroke-width="2.3" fill="none"/>
<path d="M442.18 2124.81H457.58M449.88 2117.11V2132.51M443.87 2118.80L455.89 2130.82M443.87 2130.82L455.89 2118.80" stroke="#df2f1f" stroke-width="2.3" fill="none"/>
<path d="M478.70 2119.76H494.10M486.40 2112.06V2127.46M480.39 2113.75L492.41 2125.76M480.39 2125.76L492.41 2113.75" stroke="#df2f1f" stroke-width="2.3" fill="none"/>
<path d="M515.22 2117.23H530.62M522.92 2109.53V2124.93M516.91 2111.22L528.93 2123.24M516.91 2123.24L528.93 2111.22" stroke="#df2f1f" stroke-width="2.3" fill="none"/>
<path d="M551.74 2109.65H567.14M559.44 2101.95V2117.35M553.43 2103.65L565.45 2115.66M553.43 2115.66L565.45 2103.65" stroke="#df2f1f" stroke-width="2.3" fill="none"/>
<path d="M588.26 2104.96H603.66M595.96 2097.26V2112.66M589.95 2098.95L601.97 2110.97M589.95 2110.97L601.97 2098.95" stroke="#df2f1f" stroke-width="2.3" fill="none"/>
<path d="M624.78 2098.10H640.18M632.48 2090.40V2105.80M626.47 2092.10L638.49 2104.11M626.47 2104.11L638.49 2092.10" stroke="#df2f1f" stroke-width="2.3" fill="none"/>
<path d="M661.30 2089.80H676.70M669.00 2082.10V2097.50M662.99 2083.80L675.01 2095.81M662.99 2095.81L675.01 2083.80" stroke="#df2f1f" stroke-width="2.3" fill="none"/>
<path d="M697.82 2080.78H713.22M705.52 2073.08V2088.48M699.51 2074.77L711.53 2086.79M699.51 2086.79L711.53 2074.77" stroke="#df2f1f" stroke-width="2.3" fill="none"/>
<path d="M734.34 2069.23H749.74M742.04 2061.53V2076.93M736.03 2063.22L748.05 2075.24M736.03 2075.24L748.05 2063.22" stroke="#df2f1f" stroke-width="2.3" fill="none"/>
<path d="M770.86 2059.49H786.26M778.56 2051.79V2067.19M772.55 2053.48L784.57 2065.49M772.55 2065.49L784.57 2053.48" stroke="#df2f1f" stroke-width="2.3" fill="none"/>
<path d="M807.38 2043.97H822.78M815.08 2036.27V2051.67M809.07 2037.96L821.09 2049.97M809.07 2049.97L821.09 2037.96" stroke="#df2f1f" stroke-width="2.3" fill="none"/>
<path d="M843.90 2030.61H859.30M851.60 2022.91V2038.31M845.59 2024.61L857.61 2036.62M845.59 2036.62L857.61 2024.61" stroke="#df2f1f" stroke-width="2.3" fill="none"/>
<text transform="translate(89.48,2184.08) scale(0.98,1)" font-family="'Liberation Sans', sans-serif" font-size="34.5" fill="#333333">6</text>
<text transform="translate(57.68,2003.63) scale(0.94,1)" font-family="'Liberation Sans', sans-serif" font-size="34.5" fill="#333333">6.5</text>
<text transform="translate(89.70,1823.17) scale(0.98,1)" font-family="'Liberation Sans', sans-serif" font-size="34.5" fill="#333333">7</text>
<text transform="translate(57.68,1642.55) scale(0.94,1)" font-family="'Liberation Sans', sans-serif" font-size="34.5" fill="#333333">7.5</text>
<text transform="translate(111.20,2254.38) scale(0.98,1)" font-family="'Liberation Sans', sans-serif" font-size="34.5" fill="#333333">0</text>
<text transform="translate(294.44,2254.37) scale(0.98,1)" font-family="'Liberation Sans', sans-serif" font-size="34.5" fill="#333333">1</text>
<text transform="translate(477.50,2254.54) scale(0.98,1)" font-family="'Liberation Sans', sans-serif" font-size="34.5" fill="#333333">2</text>
<text transform="translate(660.20,2254.38) scale(0.98,1)" font-family="'Liberation Sans', sans-serif" font-size="34.5" fill="#333333">3</text>
<text transform="translate(842.81,2254.37) scale(0.98,1)" font-family="'Liberation Sans', sans-serif" font-size="34.5" fill="#333333">4</text>
<rect x="142.7" y="1649.7" width="202.6" height="198.7" fill="#fff" stroke="#363636" stroke-width="1.55"/>
<path d="M150.0 1675.8H199.7" stroke="#df2f1f" stroke-width="2.6"/>
<path d="M166.00 1724.20H181.40M173.70 1716.50V1731.90M167.69 1718.19L179.71 1730.21M167.69 1730.21L179.71 1718.19" stroke="#df2f1f" stroke-width="2.3" fill="none"/>
<rect x="168.45" y="1766.25" width="10.5" height="10.5" stroke="#df2f1f" stroke-width="2.4" fill="none"/>
<path d="M173.70 1810.80L180.20 1819.80L173.70 1828.80L167.20 1819.80Z" stroke="#df2f1f" stroke-width="2.45" fill="none"/>
<text x="205.7" y="1681.8" font-family="'Liberation Serif', serif" font-style="italic" font-size="25" fill="#000">ϵ</text>
<text x="217.5" y="1695.1" font-family="'Liberation Sans', sans-serif" font-size="20.5" fill="#000">m</text>
<text x="239.2" y="1681.8" font-family="'Liberation Sans', sans-serif" font-size="24.5" fill="#000">=</text>
<text x="259.7" y="1681.8" font-family="'Liberation Sans', sans-serif" font-size="24.5" fill="#000">0</text>
<text x="287.5" y="1681.8" font-family="'Liberation Sans', sans-serif" font-size="24.5" fill="#000" textLength="45.5" lengthAdjust="spacingAndGlyphs">μeV</text>
<text x="205.7" y="1730.2" font-family="'Liberation Serif', serif" font-style="italic" font-size="25" fill="#000">ϵ</text>
<text x="217.5" y="1743.5" font-family="'Liberation Sans', sans-serif" font-size="20.5" fill="#000">m</text>
<text x="239.2" y="1730.2" font-family="'Liberation Sans', sans-serif" font-size="24.5" fill="#000">=</text>
<text x="259.7" y="1730.2" font-family="'Liberation Sans', sans-serif" font-size="24.5" fill="#000">2</text>
<text x="287.5" y="1730.2" font-family="'Liberation Sans', sans-serif" font-size="24.5" fill="#000" textLength="45.5" lengthAdjust="spacingAndGlyphs">μeV</text>
<text x="205.7" y="1777.5" font-family="'Liberation Serif', serif" font-style="italic" font-size="25" fill="#000">ϵ</text>
<text x="217.5" y="1790.8" font-family="'Liberation Sans', sans-serif" font-size="20.5" fill="#000">m</text>
<text x="239.2" y="1777.5" font-family="'Liberation Sans', sans-serif" font-size="24.5" fill="#000">=</text>
<text x="259.7" y="1777.5" font-family="'Liberation Sans', sans-serif" font-size="24.5" fill="#000">4</text>
<text x="287.5" y="1777.5" font-family="'Liberation Sans', sans-serif" font-size="24.5" fill="#000" textLength="45.5" lengthAdjust="spacingAndGlyphs">μeV</text>
<text x="205.7" y="1825.8" font-family="'Liberation Serif', serif" font-style="italic" font-size="25" fill="#000">ϵ</text>
<text x="217.5" y="1839.1" font-family="'Liberation Sans', sans-serif" font-size="20.5" fill="#000">m</text>
<text x="239.2" y="1825.8" font-family="'Liberation Sans', sans-serif" font-size="24.5" fill="#000">=</text>
<text x="259.7" y="1825.8" font-family="'Liberation Sans', sans-serif" font-size="24.5" fill="#000">6</text>
<text x="287.5" y="1825.8" font-family="'Liberation Sans', sans-serif" font-size="24.5" fill="#000" textLength="45.5" lengthAdjust="spacingAndGlyphs">μeV</text>
<text x="379.5" y="711.7" font-family="'Liberation Serif', serif" font-size="36" fill="#000" textLength="100" lengthAdjust="spacingAndGlyphs"><tspan font-style="italic">t</tspan><tspan font-style="italic" dy="6" font-size="30">m</tspan><tspan dy="-6" font-family="'Liberation Sans', sans-serif" dx="8" font-size="34">(</tspan><tspan font-style="italic">μ</tspan><tspan font-family="'Liberation Sans', sans-serif" font-size="34">s)</tspan></text>
<text x="434.4" y="1491.8" font-family="'Liberation Serif', serif" font-size="36" fill="#000" textLength="100" lengthAdjust="spacingAndGlyphs"><tspan font-style="italic">t</tspan><tspan font-style="italic" dy="6" font-size="30">m</tspan><tspan dy="-6" font-family="'Liberation Sans', sans-serif" dx="8" font-size="34">(</tspan><tspan font-style="italic">μ</tspan><tspan font-family="'Liberation Sans', sans-serif" font-size="34">s)</tspan></text>
<text transform="translate(50,374.5) rotate(-90)" font-family="'Liberation Serif', serif" font-size="36" fill="#000" textLength="127" lengthAdjust="spacingAndGlyphs"><tspan font-style="italic">ϵ</tspan><tspan font-style="italic" dy="7" font-size="30">m</tspan><tspan dy="-7" dx="8" font-family="'Liberation Sans', sans-serif" font-size="34">(</tspan><tspan font-style="italic">μ</tspan><tspan font-family="'Liberation Sans', sans-serif" font-size="34">eV)</tspan></text>
<text transform="translate(53,1193.6) rotate(-90)" font-family="'Liberation Serif', serif" font-size="37" fill="#000" textLength="113" lengthAdjust="spacingAndGlyphs"><tspan font-style="italic">ϕ</tspan> (deg)</text>
<text x="765.6" y="27" font-family="'Liberation Serif', serif" font-size="36" fill="#000" textLength="115" lengthAdjust="spacingAndGlyphs"><tspan font-style="italic">ϕ</tspan> (deg)</text>
<text transform="translate(51.5,2158.3) rotate(-90)" font-family="'Liberation Sans', sans-serif" font-size="39" fill="#000" textLength="461" lengthAdjust="spacingAndGlyphs">phase shift separation (deg)</text>
<text x="434.9" y="2291.9" font-family="'Liberation Serif', serif" font-size="36" fill="#000" textLength="119" lengthAdjust="spacingAndGlyphs"><tspan font-style="italic">σ</tspan><tspan font-style="italic" dy="7" font-size="28">ϵ</tspan><tspan dy="-7">(</tspan><tspan font-style="italic">μ</tspan>eV)</text>
</svg>
</body></html>
